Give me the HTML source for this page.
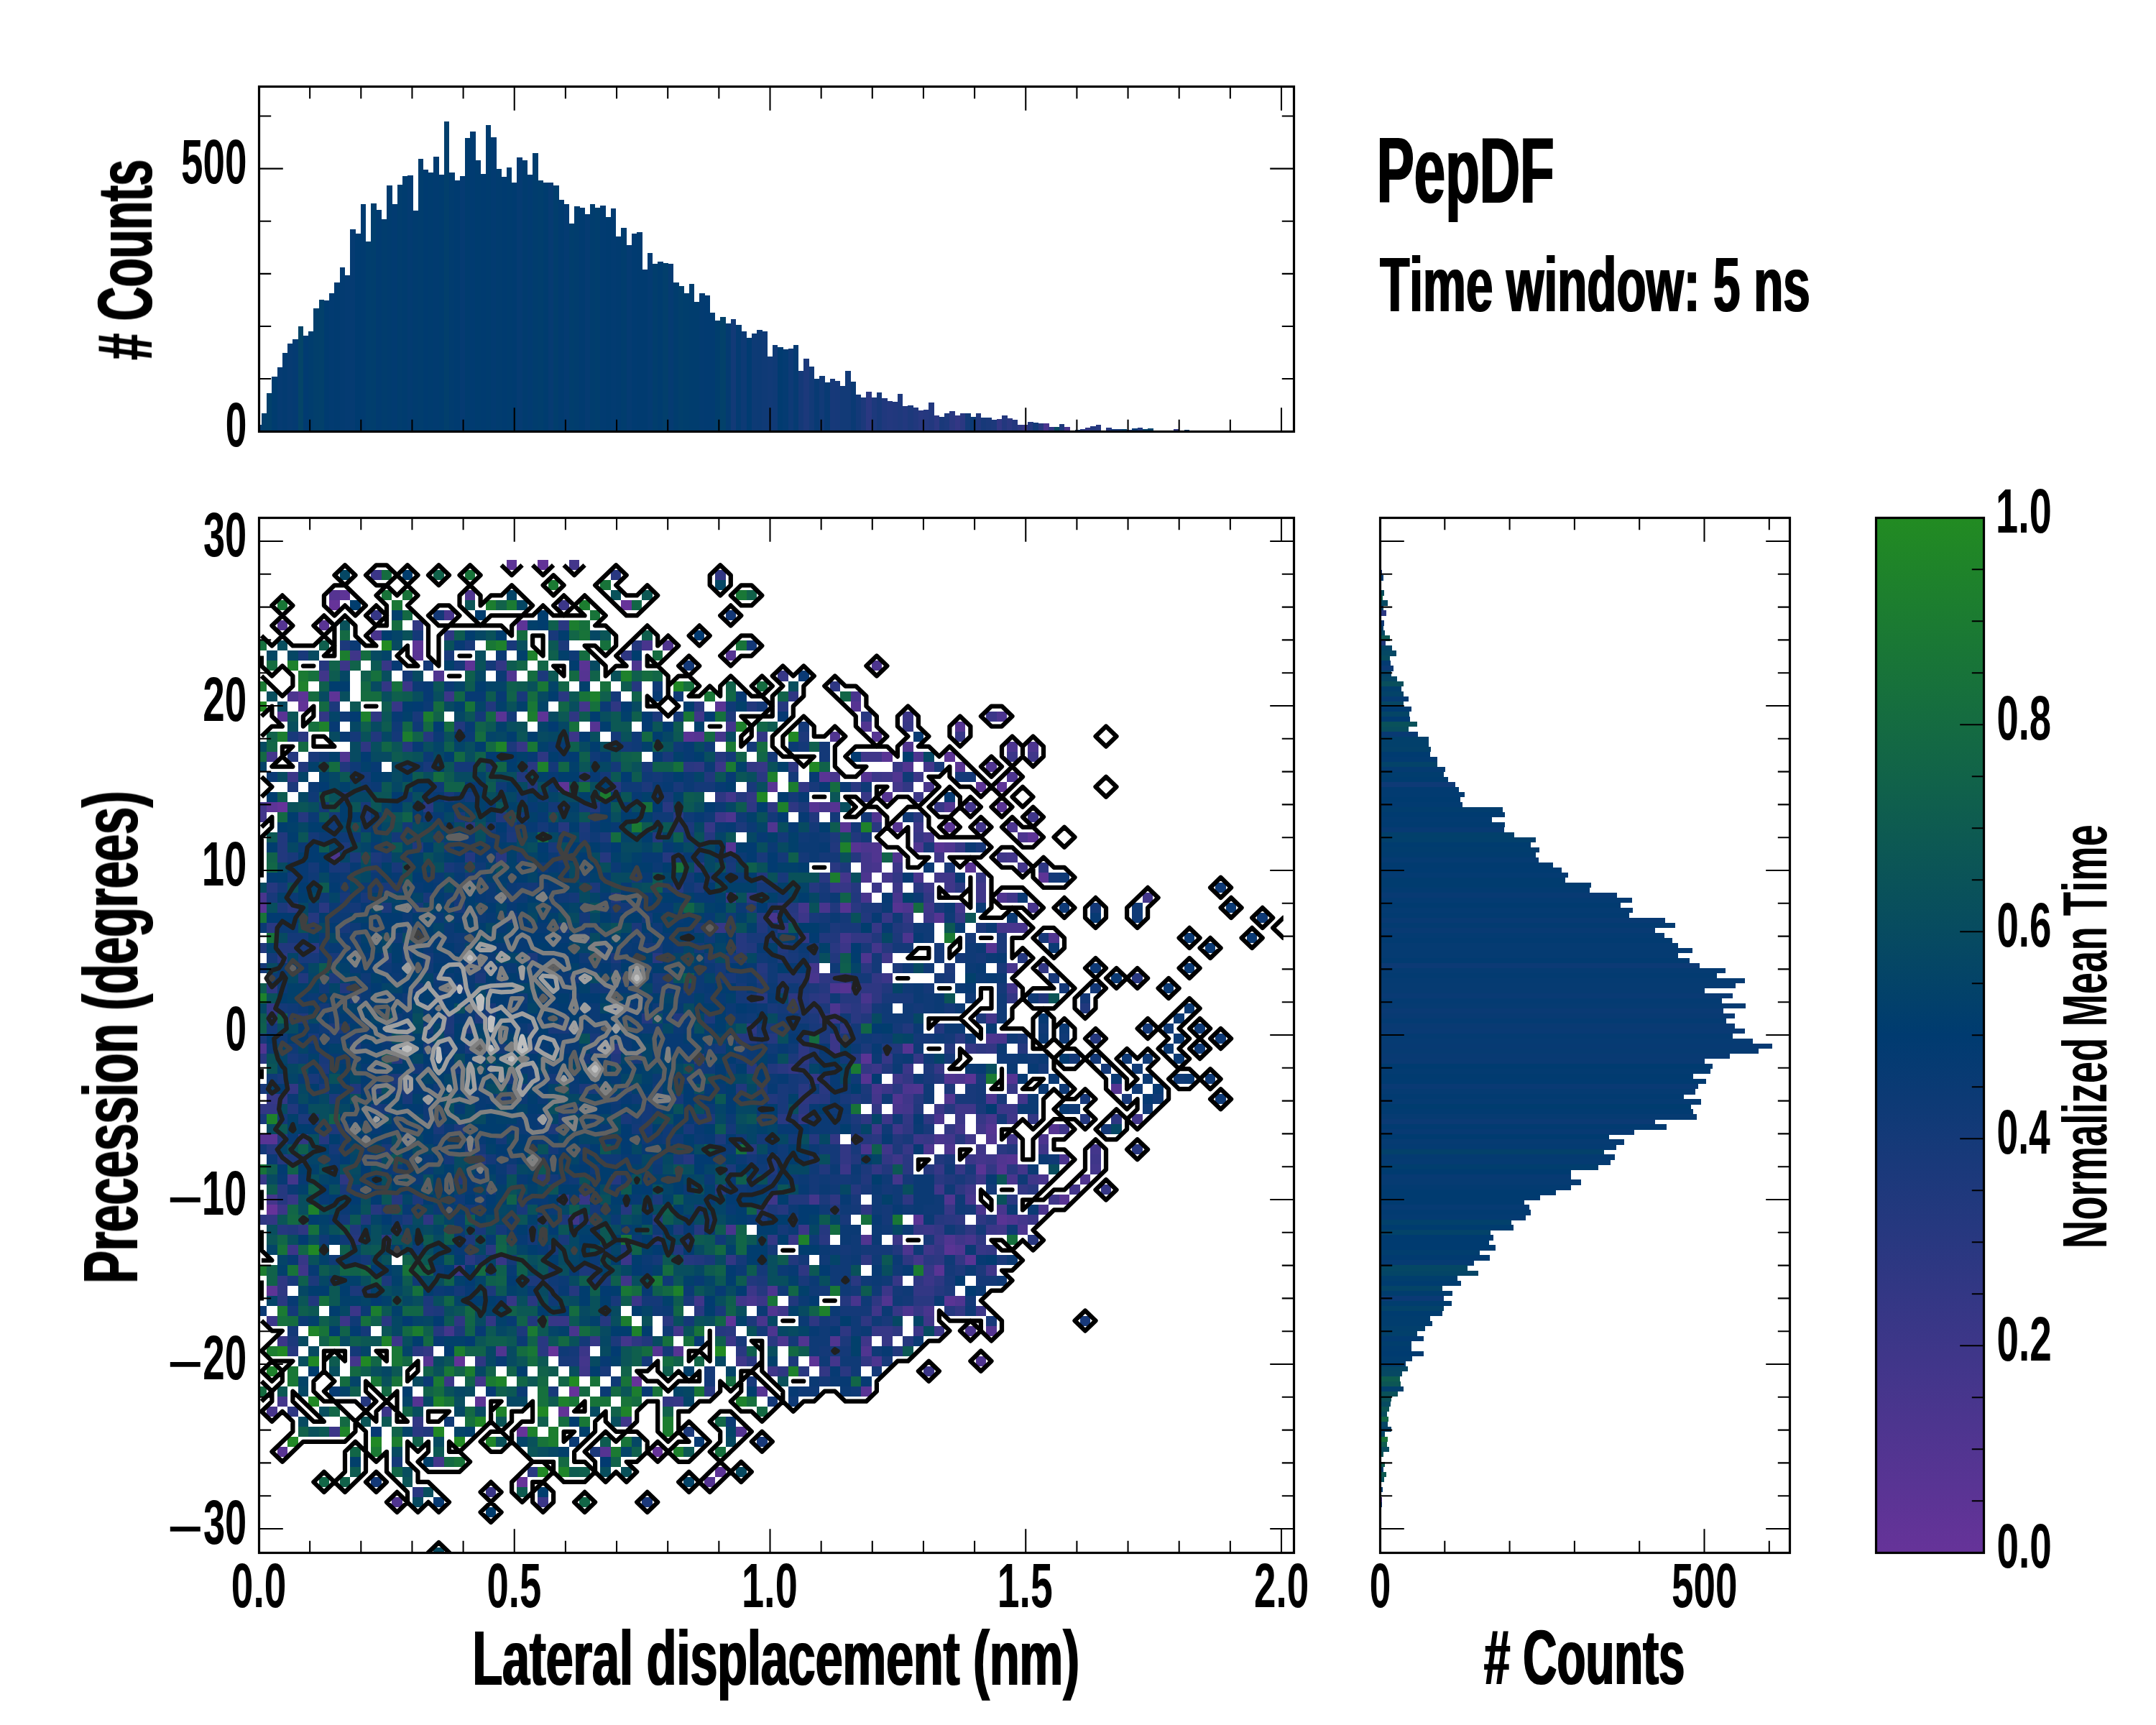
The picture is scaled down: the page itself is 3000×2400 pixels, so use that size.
<!DOCTYPE html>
<html lang="en"><head><meta charset="utf-8"><title>PepDF</title><style>html,body{margin:0;padding:0;background:#fff;overflow:hidden;width:3000px;height:2400px}svg{display:block}</style></head><body>
<svg width="3000" height="2400" viewBox="0 0 3000 2400">
<defs>
<linearGradient id="cb" x1="0" y1="1" x2="0" y2="0"><stop offset="0" stop-color="#663399"/><stop offset="0.5" stop-color="#003b70"/><stop offset="1" stop-color="#228b22"/></linearGradient>
<clipPath id="cm"><rect x="360.5" y="720.5" width="1440" height="1440"/></clipPath>
<clipPath id="cc"><rect x="360.5" y="720.5" width="1425.3" height="1440"/></clipPath>
<clipPath id="cr"><rect x="1920.5" y="720.5" width="570" height="1440"/></clipPath>
<clipPath id="ct"><rect x="360.5" y="120.5" width="1440" height="480"/></clipPath>
<filter id="fb" x="-5%" y="-5%" width="110%" height="110%"><feMorphology operator="dilate" radius="1 0"/></filter>
<filter id="fv" x="-5%" y="-5%" width="110%" height="110%"><feMorphology operator="dilate" radius="0 1"/></filter>
</defs>
<rect width="3000" height="2400" fill="#fff"/>
<g clip-path="url(#cm)" shape-rendering="crispEdges"><g transform="translate(356.64,779.3) scale(14.508,14.017)">
<path fill="#663399" d="M7 4h1v1h-1zM35 4h1v1h-1zM2 24h1v1h-1zM1 64h1v1h-1zM28 78h1v1h-1zM36 81h1v1h-1zM30 82h1v1h-1zM25 86h1v1h-1zM38 88h1v1h-1zM25 91h1v1h-1z"/>
<path fill="#623397" d="M27 0h1v1h-1zM4 14h1v1h-1zM19 79h1v1h-1zM29 84h1v1h-1z"/>
<path fill="#5d3496" d="M24 0h1v1h-1zM8 3h1v1h-1zM25 6h1v1h-1zM15 8h1v1h-1zM20 10h1v1h-1zM4 13h1v1h-1zM7 13h1v1h-1zM27 15h1v1h-1zM66 19h1v1h-1zM29 22h1v1h-1zM69 22h1v1h-1zM71 22h1v1h-1zM1 24h1v1h-1zM74 27h1v1h-1zM75 31h1v1h-1zM1 72h1v1h-1zM45 75h1v1h-1zM53 79h1v1h-1zM21 83h1v1h-1zM44 90h1v1h-1z"/>
<path fill="#593494" d="M6 6h1v1h-1zM15 9h1v1h-1zM31 10h1v1h-1zM44 14h1v1h-1zM2 15h1v1h-1zM23 15h1v1h-1zM41 17h1v1h-1zM60 19h1v1h-1zM67 20h1v1h-1zM54 21h1v1h-1zM49 22h1v1h-1zM71 24h1v1h-1zM56 26h1v1h-1zM66 26h1v1h-1zM65 28h1v1h-1zM68 30h1v1h-1zM0 34h1v1h-1zM58 49h1v1h-1zM68 51h1v1h-1zM0 57h2v1h-2zM69 60h1v1h-1zM77 63h1v1h-1zM63 65h1v1h-1zM71 65h1v1h-1zM66 68h1v1h-1zM68 69h1v1h-1zM65 70h1v1h-1zM66 73h1v1h-1zM58 82h1v1h-1zM2 88h1v1h-1z"/>
<path fill="#553492" d="M7 3h1v1h-1zM2 6h1v1h-1zM45 9h1v1h-1zM31 11h1v1h-1zM57 14h1v1h-1zM32 16h1v1h-1zM67 16h1v1h-1zM42 17h1v1h-1zM59 17h1v1h-1zM58 21h1v1h-1zM60 23h1v1h-1zM53 24h1v1h-1zM55 24h1v1h-1zM61 26h1v1h-1zM45 28h1v1h-1zM57 28h1v1h-1zM56 34h1v1h-1zM61 34h1v1h-1zM65 35h1v1h-1zM70 38h1v1h-1zM56 42h1v1h-1zM62 48h1v1h-1zM58 51h1v1h-1zM72 51h1v1h-1zM82 52h1v1h-1zM70 56h1v1h-1zM76 56h1v1h-1zM72 59h1v1h-1zM71 60h1v1h-1zM70 76h1v1h-1zM38 78h1v1h-1zM40 78h1v1h-1zM16 79h1v1h-1zM48 82h1v1h-1zM15 83h1v1h-1zM46 86h1v1h-1zM33 88h1v1h-1zM43 91h1v1h-1z"/>
<path fill="#503590" d="M20 3h1v1h-1zM39 8h1v1h-1zM17 11h1v1h-1zM24 11h1v1h-1zM58 16h1v1h-1zM55 17h1v1h-1zM62 18h1v1h-1zM8 19h1v1h-1zM62 20h1v1h-1zM70 20h1v1h-1zM61 21h1v1h-1zM66 24h1v1h-1zM59 25h1v1h-1zM49 26h1v1h-1zM59 28h1v1h-1zM63 28h1v1h-1zM66 28h1v1h-1zM59 29h1v1h-1zM61 29h1v1h-1zM71 33h1v1h-1zM76 37h1v1h-1zM0 48h1v1h-1zM66 51h1v1h-1zM63 52h1v1h-1zM61 53h1v1h-1zM66 53h1v1h-1zM70 57h1v1h-1zM71 59h1v1h-1zM79 61h1v1h-1zM66 63h1v1h-1zM72 65h1v1h-1zM58 67h1v1h-1zM66 67h1v1h-1zM67 68h1v1h-1zM60 73h1v1h-1zM67 73h1v1h-1zM49 74h1v1h-1zM52 77h1v1h-1zM55 77h1v1h-1zM23 78h1v1h-1zM58 78h1v1h-1zM69 79h1v1h-1zM13 93h1v1h-1z"/>
<path fill="#4c358f" d="M36 10h1v1h-1zM59 10h1v1h-1zM3 13h1v1h-1zM71 15h1v1h-1zM72 18h1v1h-1zM74 18h1v1h-1zM63 19h1v1h-1zM72 21h1v1h-1zM45 25h1v1h-1zM72 26h1v1h-1zM73 27h1v1h-1zM58 28h1v1h-1zM7 29h1v1h-1zM58 31h1v1h-1zM62 34h1v1h-1zM62 37h1v1h-1zM58 39h1v1h-1zM55 42h1v1h-1zM55 44h1v1h-1zM70 47h1v1h-1zM67 51h1v1h-1zM62 52h1v1h-1zM70 53h1v1h-1zM65 55h1v1h-1zM75 57h1v1h-1zM64 58h1v1h-1zM66 58h1v1h-1zM77 59h1v1h-1zM75 64h1v1h-1zM73 66h1v1h-1zM62 68h1v1h-1zM49 72h1v1h-1zM62 74h1v1h-1zM49 76h1v1h-1zM68 76h1v1h-1zM50 77h1v1h-1zM59 79h1v1h-1z"/>
<path fill="#48358d" d="M18 5h1v1h-1zM11 7h1v1h-1zM37 8h1v1h-1zM57 13h1v1h-1zM55 21h1v1h-1zM64 22h1v1h-1zM54 24h1v1h-1zM59 30h1v1h-1zM63 31h1v1h-1zM0 33h1v1h-1zM58 33h1v1h-1zM61 33h1v1h-1zM54 34h1v1h-1zM74 34h1v1h-1zM49 35h1v1h-1zM72 36h2v1h-2zM72 40h1v1h-1zM53 41h1v1h-1zM58 43h1v1h-1zM71 47h1v1h-1zM59 52h1v1h-1zM61 54h1v1h-1zM70 55h1v1h-1zM65 57h1v1h-1zM58 58h1v1h-1zM72 61h1v1h-1zM75 61h1v1h-1zM68 63h1v1h-1zM69 64h1v1h-1zM71 64h1v1h-1zM45 66h1v1h-1zM68 67h1v1h-1zM47 73h1v1h-1zM57 73h1v1h-1zM64 74h1v1h-1zM48 75h1v1h-1zM30 76h1v1h-1zM1 84h1v1h-1z"/>
<path fill="#43368b" d="M30 0h1v1h-1zM31 14h1v1h-1zM45 16h1v1h-1zM44 17h1v1h-1zM1 19h1v1h-1zM64 20h1v1h-1zM61 22h1v1h-1zM45 23h1v1h-1zM0 24h1v1h-1zM68 24h1v1h-1zM0 25h1v1h-1zM69 26h1v1h-1zM64 27h1v1h-1zM58 29h1v1h-1zM72 29h1v1h-1zM58 30h1v1h-1zM73 30h1v1h-1zM56 31h1v1h-1zM60 31h1v1h-1zM85 33h1v1h-1zM52 34h1v1h-1zM67 34h1v1h-1zM71 36h1v1h-1zM56 37h1v1h-1zM59 38h1v1h-1zM53 40h1v1h-1zM72 42h1v1h-1zM70 45h1v1h-1zM59 53h1v1h-1zM73 53h1v1h-1zM62 54h1v1h-1zM84 55h1v1h-1zM67 56h1v1h-1zM66 57h1v1h-1zM72 57h1v1h-1zM80 58h1v1h-1zM69 59h1v1h-1zM73 60h1v1h-1zM80 60h1v1h-1zM3 61h1v1h-1zM61 61h1v1h-1zM78 62h1v1h-1zM1 63h1v1h-1zM53 63h1v1h-1zM73 65h1v1h-1zM63 69h1v1h-1zM18 76h1v1h-1zM40 76h1v1h-1zM35 77h1v1h-1zM9 79h1v1h-1zM31 79h1v1h-1zM55 79h1v1h-1zM21 81h1v1h-1zM2 83h1v1h-1zM17 89h1v1h-1z"/>
<path fill="#3f3689" d="M9 9h1v1h-1zM6 11h1v1h-1zM42 15h1v1h-1zM58 19h2v1h-2zM74 19h1v1h-1zM60 21h1v1h-1zM44 25h1v1h-1zM74 25h1v1h-1zM65 29h1v1h-1zM71 29h1v1h-1zM65 31h2v1h-2zM66 32h1v1h-1zM69 32h1v1h-1zM69 33h1v1h-1zM72 33h1v1h-1zM64 34h1v1h-1zM60 39h1v1h-1zM61 51h1v1h-1zM62 53h1v1h-1zM67 54h2v1h-2zM72 55h1v1h-1zM59 56h1v1h-1zM61 56h1v1h-1zM69 56h1v1h-1zM77 56h1v1h-1zM68 57h1v1h-1zM60 58h1v1h-1zM69 58h1v1h-1zM75 58h1v1h-1zM61 59h1v1h-1zM70 59h1v1h-1zM80 59h1v1h-1zM74 61h1v1h-1zM65 62h1v1h-1zM68 62h1v1h-1zM49 63h1v1h-1zM76 63h1v1h-1zM30 65h1v1h-1zM71 66h1v1h-1zM67 67h1v1h-1zM64 68h1v1h-1zM4 70h1v1h-1zM70 70h1v1h-1zM35 71h1v1h-1zM42 73h1v1h-1zM46 73h1v1h-1zM50 74h1v1h-1zM59 74h1v1h-1zM64 75h1v1h-1zM58 77h1v1h-1zM46 79h1v1h-1zM31 80h1v1h-1zM49 80h1v1h-1zM35 85h1v1h-1z"/>
<path fill="#3b3688" d="M11 1h1v1h-1zM29 4h1v1h-1zM8 10h1v1h-1zM14 12h1v1h-1zM18 13h1v1h-1zM62 15h1v1h-1zM70 15h1v1h-1zM30 17h1v1h-1zM72 19h1v1h-1zM44 20h1v1h-1zM3 21h1v1h-1zM59 21h1v1h-1zM63 21h1v1h-1zM63 23h1v1h-1zM63 26h1v1h-1zM61 30h1v1h-1zM59 32h1v1h-1zM61 32h1v1h-1zM64 32h1v1h-1zM52 35h1v1h-1zM64 35h1v1h-1zM56 38h1v1h-1zM60 41h1v1h-1zM55 45h1v1h-1zM55 47h1v1h-1zM55 48h1v1h-1zM59 50h1v1h-1zM62 50h1v1h-1zM60 52h1v1h-1zM65 54h1v1h-1zM71 54h2v1h-2zM60 55h1v1h-1zM67 55h1v1h-1zM63 57h1v1h-1zM68 59h1v1h-1zM56 60h1v1h-1zM69 61h1v1h-1zM2 64h1v1h-1zM74 65h1v1h-1zM52 66h1v1h-1zM64 66h1v1h-1zM70 66h1v1h-1zM61 67h1v1h-1zM65 67h1v1h-1zM3 68h1v1h-1zM35 69h1v1h-1zM19 70h1v1h-1zM64 71h1v1h-1zM47 72h1v1h-1zM60 72h1v1h-1zM36 73h1v1h-1zM48 73h1v1h-1zM9 74h1v1h-1zM69 74h1v1h-1zM1 75h1v1h-1zM8 75h1v1h-1zM63 76h1v1h-1zM65 76h1v1h-1zM2 77h1v1h-1zM13 77h1v1h-1zM45 77h1v1h-1zM31 78h1v1h-1zM64 80h1v1h-1zM18 81h1v1h-1zM12 84h1v1h-1zM7 86h1v1h-1zM22 92h1v1h-1zM27 93h1v1h-1z"/>
<path fill="#363786" d="M11 5h1v1h-1zM12 10h1v1h-1zM50 11h1v1h-1zM13 14h1v1h-1zM62 16h1v1h-1zM67 17h1v1h-1zM25 18h1v1h-1zM48 20h1v1h-1zM61 20h1v1h-1zM58 23h1v1h-1zM65 24h1v1h-1zM43 26h1v1h-1zM63 27h1v1h-1zM67 28h1v1h-1zM69 31h1v1h-1zM55 32h2v1h-2zM45 33h1v1h-1zM60 35h1v1h-1zM62 35h1v1h-1zM67 35h1v1h-1zM44 36h1v1h-1zM59 36h1v1h-1zM58 44h1v1h-1zM68 48h1v1h-1zM60 49h1v1h-1zM63 49h1v1h-1zM65 50h1v1h-1zM53 51h1v1h-1zM72 52h1v1h-1zM1 53h1v1h-1zM69 55h1v1h-1zM64 57h1v1h-1zM62 58h1v1h-1zM65 60h1v1h-1zM67 60h1v1h-1zM0 61h1v1h-1zM81 62h1v1h-1zM3 63h1v1h-1zM31 63h1v1h-1zM66 64h1v1h-1zM63 66h1v1h-1zM51 67h1v1h-1zM69 68h1v1h-1zM4 69h1v1h-1zM23 69h1v1h-1zM64 70h1v1h-1zM61 71h1v1h-1zM24 73h1v1h-1zM61 74h1v1h-1zM63 74h1v1h-1zM28 75h2v1h-2zM59 76h2v1h-2zM32 77h1v1h-1zM60 77h1v1h-1zM40 83h1v1h-1z"/>
<path fill="#323784" d="M44 1h1v1h-1zM15 6h1v1h-1zM23 10h1v1h-1zM12 12h1v1h-1zM6 15h1v1h-1zM48 17h1v1h-1zM47 20h1v1h-1zM52 22h1v1h-1zM62 22h1v1h-1zM47 23h1v1h-1zM61 31h1v1h-1zM64 33h1v1h-1zM52 37h1v1h-1zM57 37h2v1h-2zM75 40h1v1h-1zM59 41h1v1h-1zM57 42h1v1h-1zM72 43h1v1h-1zM1 44h1v1h-1zM56 44h1v1h-1zM56 46h1v1h-1zM70 48h1v1h-1zM51 50h1v1h-1zM58 50h1v1h-1zM62 51h1v1h-1zM3 52h1v1h-1zM2 53h1v1h-1zM0 54h2v1h-2zM59 54h1v1h-1zM52 55h1v1h-1zM62 55h1v1h-1zM74 55h1v1h-1zM66 56h1v1h-1zM4 57h1v1h-1zM55 57h1v1h-1zM56 58h1v1h-1zM56 59h1v1h-1zM60 59h1v1h-1zM59 60h1v1h-1zM70 60h1v1h-1zM73 62h1v1h-1zM1 65h1v1h-1zM65 66h1v1h-1zM49 67h1v1h-1zM65 68h1v1h-1zM70 68h1v1h-1zM45 69h1v1h-1zM67 69h1v1h-1zM63 72h2v1h-2zM67 74h1v1h-1zM22 75h1v1h-1zM16 78h1v1h-1zM58 79h1v1h-1zM54 80h1v1h-1zM39 83h1v1h-1zM15 85h1v1h-1z"/>
<path fill="#2e3782" d="M18 7h1v1h-1zM35 9h1v1h-1zM55 12h1v1h-1zM51 13h1v1h-1zM34 14h1v1h-1zM11 15h1v1h-1zM30 15h1v1h-1zM10 18h1v1h-1zM27 19h1v1h-1zM42 20h1v1h-1zM51 20h1v1h-1zM44 23h1v1h-1zM47 24h1v1h-1zM49 24h1v1h-1zM51 24h1v1h-1zM75 30h1v1h-1zM47 33h1v1h-1zM50 34h1v1h-1zM50 36h1v1h-1zM54 41h1v1h-1zM56 41h1v1h-1zM1 42h1v1h-1zM58 42h2v1h-2zM51 43h1v1h-1zM54 43h1v1h-1zM59 43h1v1h-1zM54 45h1v1h-1zM47 46h1v1h-1zM52 48h1v1h-1zM69 48h1v1h-1zM42 49h1v1h-1zM52 49h1v1h-1zM52 53h1v1h-1zM58 55h1v1h-1zM64 55h1v1h-1zM82 55h1v1h-1zM62 56h1v1h-1zM8 61h1v1h-1zM67 62h1v1h-1zM29 63h1v1h-1zM55 63h1v1h-1zM62 63h1v1h-1zM58 64h1v1h-1zM0 65h1v1h-1zM16 65h1v1h-1zM67 65h1v1h-1zM69 65h1v1h-1zM4 66h1v1h-1zM68 66h1v1h-1zM12 67h1v1h-1zM69 67h1v1h-1zM58 69h1v1h-1zM62 69h1v1h-1zM65 69h1v1h-1zM52 70h1v1h-1zM2 71h1v1h-1zM63 71h1v1h-1zM65 71h1v1h-1zM2 72h1v1h-1zM59 73h1v1h-1zM19 75h1v1h-1zM53 75h1v1h-1zM58 75h1v1h-1zM56 76h1v1h-1zM61 76h1v1h-1zM36 77h1v1h-1zM21 79h1v1h-1zM50 80h1v1h-1zM3 84h1v1h-1z"/>
<path fill="#293881" d="M34 1h1v1h-1zM29 6h1v1h-1zM29 13h1v1h-1zM42 14h1v1h-1zM58 15h1v1h-1zM4 17h1v1h-1zM26 20h1v1h-1zM41 20h1v1h-1zM48 21h1v1h-1zM34 22h1v1h-1zM57 22h1v1h-1zM16 24h1v1h-1zM39 24h1v1h-1zM40 25h1v1h-1zM63 25h1v1h-1zM20 26h1v1h-1zM59 26h1v1h-1zM23 29h1v1h-1zM42 30h1v1h-1zM55 30h1v1h-1zM54 31h1v1h-1zM63 32h1v1h-1zM67 32h1v1h-1zM3 34h1v1h-1zM6 34h1v1h-1zM57 34h1v1h-1zM51 35h1v1h-1zM1 36h1v1h-1zM62 36h1v1h-1zM5 38h1v1h-1zM55 38h1v1h-1zM2 39h1v1h-1zM38 39h1v1h-1zM58 40h1v1h-1zM55 41h1v1h-1zM84 41h1v1h-1zM48 43h1v1h-1zM53 43h1v1h-1zM57 44h1v1h-1zM1 45h1v1h-1zM57 45h1v1h-1zM67 47h1v1h-1zM34 48h1v1h-1zM0 49h1v1h-1zM50 50h1v1h-1zM52 52h1v1h-1zM54 52h1v1h-1zM61 52h1v1h-1zM53 53h1v1h-1zM52 54h1v1h-1zM50 55h1v1h-1zM57 57h1v1h-1zM59 57h1v1h-1zM71 58h1v1h-1zM84 58h1v1h-1zM62 59h1v1h-1zM62 60h1v1h-1zM72 60h1v1h-1zM27 61h1v1h-1zM65 61h1v1h-1zM74 62h1v1h-1zM72 63h1v1h-1zM48 64h1v1h-1zM66 65h1v1h-1zM54 67h1v1h-1zM74 67h1v1h-1zM22 68h1v1h-1zM20 69h1v1h-1zM64 69h1v1h-1zM57 71h1v1h-1zM2 73h1v1h-1zM26 73h1v1h-1zM63 73h2v1h-2zM42 74h1v1h-1zM12 75h1v1h-1zM39 75h1v1h-1zM45 76h1v1h-1zM27 77h1v1h-1zM49 77h1v1h-1zM15 78h1v1h-1zM27 78h1v1h-1zM46 78h1v1h-1zM47 79h1v1h-1zM52 80h1v1h-1zM56 80h1v1h-1zM43 82h1v1h-1zM15 86h1v1h-1zM26 90h1v1h-1zM15 92h1v1h-1z"/>
<path fill="#25387f" d="M36 8h1v1h-1zM6 10h1v1h-1zM36 12h1v1h-1zM50 14h1v1h-1zM16 17h1v1h-1zM14 18h1v1h-1zM3 19h1v1h-1zM44 19h1v1h-1zM31 21h1v1h-1zM46 23h1v1h-1zM4 25h1v1h-1zM29 26h1v1h-1zM38 27h1v1h-1zM43 27h1v1h-1zM20 29h1v1h-1zM33 29h1v1h-1zM39 29h1v1h-1zM57 29h1v1h-1zM1 32h1v1h-1zM40 32h1v1h-1zM53 32h1v1h-1zM57 32h1v1h-1zM51 34h1v1h-1zM5 35h1v1h-1zM48 35h1v1h-1zM46 37h1v1h-1zM46 38h1v1h-1zM60 38h1v1h-1zM73 39h1v1h-1zM48 40h1v1h-1zM54 42h1v1h-1zM56 43h2v1h-2zM51 44h1v1h-1zM53 44h1v1h-1zM37 45h1v1h-1zM65 46h1v1h-1zM46 47h2v1h-2zM49 47h1v1h-1zM80 47h1v1h-1zM21 48h1v1h-1zM66 48h1v1h-1zM73 48h1v1h-1zM13 49h1v1h-1zM57 49h1v1h-1zM47 50h1v1h-1zM52 50h1v1h-1zM54 53h1v1h-1zM63 53h1v1h-1zM66 54h1v1h-1zM79 55h1v1h-1zM6 57h1v1h-1zM53 57h1v1h-1zM58 57h1v1h-1zM67 57h1v1h-1zM1 58h1v1h-1zM47 58h1v1h-1zM2 59h1v1h-1zM21 59h1v1h-1zM41 59h1v1h-1zM64 60h1v1h-1zM34 61h1v1h-1zM68 61h1v1h-1zM2 62h1v1h-1zM44 62h1v1h-1zM57 62h1v1h-1zM2 63h1v1h-1zM13 63h1v1h-1zM11 64h1v1h-1zM35 64h1v1h-1zM50 64h1v1h-1zM38 65h1v1h-1zM65 65h1v1h-1zM2 66h1v1h-1zM42 66h1v1h-1zM54 66h1v1h-1zM9 67h1v1h-1zM38 67h1v1h-1zM41 69h1v1h-1zM30 72h1v1h-1zM48 72h1v1h-1zM65 72h1v1h-1zM56 73h1v1h-1zM66 74h1v1h-1zM33 75h1v1h-1zM17 76h1v1h-1zM44 76h1v1h-1zM62 77h1v1h-1zM3 78h1v1h-1zM10 83h1v1h-1z"/>
<path fill="#21387d" d="M22 14h1v1h-1zM47 14h1v1h-1zM19 16h1v1h-1zM11 17h1v1h-1zM4 20h1v1h-1zM8 20h1v1h-1zM25 21h1v1h-1zM43 21h1v1h-1zM26 22h1v1h-1zM8 23h1v1h-1zM32 24h1v1h-1zM23 25h1v1h-1zM53 25h1v1h-1zM40 26h1v1h-1zM2 27h1v1h-1zM57 27h1v1h-1zM2 28h1v1h-1zM15 28h1v1h-1zM55 28h1v1h-1zM2 29h1v1h-1zM48 31h1v1h-1zM34 33h1v1h-1zM57 33h1v1h-1zM55 34h1v1h-1zM58 35h1v1h-1zM48 36h1v1h-1zM61 36h1v1h-1zM54 37h2v1h-2zM59 37h1v1h-1zM0 38h1v1h-1zM2 38h2v1h-2zM47 38h1v1h-1zM50 38h1v1h-1zM55 39h1v1h-1zM4 41h1v1h-1zM48 41h1v1h-1zM50 41h3v1h-3zM8 42h1v1h-1zM60 42h1v1h-1zM52 43h1v1h-1zM75 43h1v1h-1zM79 44h1v1h-1zM4 45h1v1h-1zM40 45h1v1h-1zM58 45h1v1h-1zM62 46h1v1h-1zM61 48h1v1h-1zM34 49h1v1h-1zM49 50h1v1h-1zM60 50h1v1h-1zM54 51h1v1h-1zM65 51h1v1h-1zM9 52h1v1h-1zM46 52h1v1h-1zM49 53h1v1h-1zM57 53h1v1h-1zM3 54h1v1h-1zM63 54h1v1h-1zM2 57h1v1h-1zM61 57h1v1h-1zM72 58h1v1h-1zM49 59h1v1h-1zM57 59h1v1h-1zM65 59h1v1h-1zM49 60h1v1h-1zM54 60h1v1h-1zM60 60h1v1h-1zM19 61h1v1h-1zM58 61h1v1h-1zM66 61h1v1h-1zM51 63h2v1h-2zM55 64h1v1h-1zM10 65h1v1h-1zM31 65h1v1h-1zM70 65h1v1h-1zM3 66h1v1h-1zM9 66h1v1h-1zM40 68h1v1h-1zM61 68h1v1h-1zM42 69h1v1h-1zM51 69h1v1h-1zM47 71h1v1h-1zM5 73h1v1h-1zM51 73h1v1h-1zM16 74h1v1h-1zM26 75h1v1h-1zM37 77h1v1h-1zM61 78h1v1h-1zM16 86h1v1h-1z"/>
<path fill="#1c397b" d="M8 8h1v1h-1zM29 8h1v1h-1zM27 11h1v1h-1zM7 14h1v1h-1zM38 15h1v1h-1zM45 15h1v1h-1zM52 17h1v1h-1zM24 18h1v1h-1zM3 22h1v1h-1zM37 22h1v1h-1zM52 24h1v1h-1zM10 25h1v1h-1zM31 26h1v1h-1zM41 26h1v1h-1zM46 26h1v1h-1zM24 27h1v1h-1zM33 27h1v1h-1zM55 27h1v1h-1zM8 28h1v1h-1zM9 29h1v1h-1zM11 29h1v1h-1zM56 30h1v1h-1zM32 32h1v1h-1zM42 32h1v1h-1zM2 34h1v1h-1zM12 34h1v1h-1zM47 34h1v1h-1zM58 34h2v1h-2zM36 36h1v1h-1zM55 36h1v1h-1zM69 36h1v1h-1zM49 37h1v1h-1zM61 37h1v1h-1zM26 39h1v1h-1zM34 39h1v1h-1zM46 39h1v1h-1zM50 39h1v1h-1zM61 40h1v1h-1zM66 40h1v1h-1zM7 41h1v1h-1zM21 41h1v1h-1zM41 42h1v1h-1zM50 42h1v1h-1zM53 42h1v1h-1zM52 44h1v1h-1zM54 44h1v1h-1zM18 45h1v1h-1zM21 45h1v1h-1zM43 45h1v1h-1zM53 45h1v1h-1zM69 45h1v1h-1zM7 46h1v1h-1zM18 46h1v1h-1zM20 46h1v1h-1zM54 46h1v1h-1zM54 47h1v1h-1zM9 48h1v1h-1zM53 48h1v1h-1zM58 48h1v1h-1zM60 48h1v1h-1zM51 49h1v1h-1zM6 50h1v1h-1zM64 50h1v1h-1zM13 51h1v1h-1zM14 52h1v1h-1zM31 52h1v1h-1zM48 52h1v1h-1zM58 52h1v1h-1zM66 52h1v1h-1zM7 53h1v1h-1zM4 55h1v1h-1zM43 55h1v1h-1zM51 55h1v1h-1zM57 55h1v1h-1zM7 56h1v1h-1zM19 56h1v1h-1zM28 56h1v1h-1zM44 57h1v1h-1zM61 58h1v1h-1zM3 59h1v1h-1zM24 60h1v1h-1zM45 60h1v1h-1zM58 60h1v1h-1zM15 63h1v1h-1zM38 63h1v1h-1zM54 63h1v1h-1zM49 64h1v1h-1zM14 65h1v1h-1zM27 65h1v1h-1zM29 65h1v1h-1zM13 66h1v1h-1zM40 66h1v1h-1zM67 66h1v1h-1zM20 67h1v1h-1zM41 67h1v1h-1zM35 68h1v1h-1zM31 70h1v1h-1zM67 70h1v1h-1zM69 70h1v1h-1zM5 71h1v1h-1zM12 71h1v1h-1zM26 71h2v1h-2zM48 71h1v1h-1zM9 72h1v1h-1zM22 72h1v1h-1zM66 72h1v1h-1zM16 73h1v1h-1zM17 74h1v1h-1zM47 75h1v1h-1zM19 76h1v1h-1zM25 76h1v1h-1zM3 77h1v1h-1zM34 77h1v1h-1zM56 77h1v1h-1zM51 79h1v1h-1zM41 86h1v1h-1zM32 88h1v1h-1zM37 93h1v1h-1z"/>
<path fill="#18397a" d="M28 7h1v1h-1zM20 8h1v1h-1zM24 8h1v1h-1zM4 9h1v1h-1zM18 9h1v1h-1zM25 13h1v1h-1zM15 15h1v1h-1zM3 17h1v1h-1zM5 19h1v1h-1zM39 19h1v1h-1zM16 20h1v1h-1zM22 20h1v1h-1zM37 20h1v1h-1zM65 20h1v1h-1zM40 22h1v1h-1zM47 22h1v1h-1zM53 22h1v1h-1zM18 23h1v1h-1zM39 23h1v1h-1zM10 24h1v1h-1zM31 24h1v1h-1zM19 25h1v1h-1zM24 26h1v1h-1zM31 27h1v1h-1zM28 28h1v1h-1zM64 28h1v1h-1zM69 28h1v1h-1zM3 29h1v1h-1zM29 29h1v1h-1zM40 29h1v1h-1zM48 29h1v1h-1zM7 30h2v1h-2zM13 30h1v1h-1zM18 30h1v1h-1zM45 30h1v1h-1zM66 30h1v1h-1zM36 31h1v1h-1zM50 31h1v1h-1zM12 32h2v1h-2zM54 32h1v1h-1zM1 33h1v1h-1zM8 33h1v1h-1zM10 33h1v1h-1zM16 33h1v1h-1zM15 34h1v1h-1zM19 34h1v1h-1zM49 34h1v1h-1zM65 34h1v1h-1zM24 35h1v1h-1zM53 35h1v1h-1zM8 36h1v1h-1zM29 36h1v1h-1zM42 36h1v1h-1zM45 36h1v1h-1zM56 36h2v1h-2zM15 37h1v1h-1zM47 37h2v1h-2zM71 37h1v1h-1zM75 37h1v1h-1zM4 38h1v1h-1zM53 38h1v1h-1zM58 38h1v1h-1zM71 38h1v1h-1zM4 39h2v1h-2zM7 39h1v1h-1zM12 39h1v1h-1zM45 39h1v1h-1zM51 39h1v1h-1zM53 39h1v1h-1zM20 40h1v1h-1zM71 40h1v1h-1zM38 41h2v1h-2zM45 41h1v1h-1zM66 41h1v1h-1zM76 41h1v1h-1zM52 42h1v1h-1zM9 43h1v1h-1zM47 43h1v1h-1zM60 43h3v1h-3zM22 44h1v1h-1zM34 44h1v1h-1zM49 44h1v1h-1zM3 45h1v1h-1zM52 45h1v1h-1zM8 46h1v1h-1zM28 46h2v1h-2zM49 46h1v1h-1zM53 46h1v1h-1zM0 47h1v1h-1zM5 47h1v1h-1zM32 47h1v1h-1zM48 47h1v1h-1zM52 47h1v1h-1zM56 47h1v1h-1zM73 47h1v1h-1zM16 48h1v1h-1zM20 48h1v1h-1zM3 49h1v1h-1zM6 49h1v1h-1zM36 49h1v1h-1zM53 49h1v1h-1zM2 51h1v1h-1zM5 51h1v1h-1zM24 51h1v1h-1zM52 51h1v1h-1zM64 51h1v1h-1zM69 51h1v1h-1zM0 52h1v1h-1zM6 52h1v1h-1zM11 52h1v1h-1zM25 52h1v1h-1zM32 52h1v1h-1zM50 52h1v1h-1zM68 52h1v1h-1zM14 53h1v1h-1zM23 53h1v1h-1zM40 53h1v1h-1zM50 53h1v1h-1zM56 53h1v1h-1zM58 53h1v1h-1zM67 53h2v1h-2zM71 53h1v1h-1zM79 53h1v1h-1zM83 53h1v1h-1zM11 54h1v1h-1zM50 54h1v1h-1zM69 54h1v1h-1zM0 55h1v1h-1zM5 55h1v1h-1zM35 55h1v1h-1zM42 55h1v1h-1zM17 56h1v1h-1zM41 56h1v1h-1zM64 56h1v1h-1zM62 57h1v1h-1zM12 58h1v1h-1zM20 58h1v1h-1zM57 58h1v1h-1zM40 59h1v1h-1zM53 59h1v1h-1zM66 59h1v1h-1zM68 60h1v1h-1zM49 61h1v1h-1zM67 61h1v1h-1zM8 62h1v1h-1zM22 62h1v1h-1zM58 62h1v1h-1zM57 63h1v1h-1zM12 64h1v1h-1zM25 64h1v1h-1zM48 65h1v1h-1zM56 65h1v1h-1zM21 66h1v1h-1zM29 67h1v1h-1zM64 67h1v1h-1zM21 69h1v1h-1zM43 69h1v1h-1zM71 69h1v1h-1zM32 70h1v1h-1zM3 71h1v1h-1zM32 71h2v1h-2zM52 71h1v1h-1zM66 71h1v1h-1zM10 72h1v1h-1zM34 73h1v1h-1zM41 73h1v1h-1zM44 74h1v1h-1zM55 75h1v1h-1zM60 75h1v1h-1zM70 75h1v1h-1zM79 75h1v1h-1zM46 77h1v1h-1zM29 79h2v1h-2zM60 79h1v1h-1zM33 80h1v1h-1zM47 81h1v1h-1zM28 82h1v1h-1zM48 87h1v1h-1z"/>
<path fill="#143978" d="M17 5h1v1h-1zM45 5h1v1h-1zM15 7h1v1h-1zM47 8h1v1h-1zM16 10h1v1h-1zM19 10h1v1h-1zM22 10h1v1h-1zM41 10h1v1h-1zM14 11h1v1h-1zM34 13h1v1h-1zM48 14h1v1h-1zM21 15h1v1h-1zM24 15h1v1h-1zM40 15h1v1h-1zM52 16h1v1h-1zM9 17h1v1h-1zM13 17h1v1h-1zM34 17h1v1h-1zM35 18h1v1h-1zM47 18h1v1h-1zM52 18h1v1h-1zM54 18h1v1h-1zM45 19h1v1h-1zM49 19h1v1h-1zM54 19h1v1h-1zM19 20h2v1h-2zM28 20h1v1h-1zM34 20h1v1h-1zM10 21h1v1h-1zM33 21h1v1h-1zM38 21h1v1h-1zM51 21h1v1h-1zM67 21h2v1h-2zM42 22h2v1h-2zM20 23h1v1h-1zM51 23h1v1h-1zM6 24h1v1h-1zM28 24h2v1h-2zM7 25h1v1h-1zM25 25h1v1h-1zM49 25h1v1h-1zM55 25h1v1h-1zM58 25h1v1h-1zM14 26h1v1h-1zM22 26h1v1h-1zM27 26h1v1h-1zM53 26h1v1h-1zM57 26h1v1h-1zM5 27h1v1h-1zM13 27h1v1h-1zM41 27h1v1h-1zM50 27h1v1h-1zM58 27h1v1h-1zM18 28h1v1h-1zM12 29h1v1h-1zM25 29h1v1h-1zM45 29h1v1h-1zM50 29h1v1h-1zM52 29h1v1h-1zM54 29h2v1h-2zM5 30h1v1h-1zM11 30h1v1h-1zM3 31h1v1h-1zM20 31h1v1h-1zM41 31h1v1h-1zM43 31h1v1h-1zM76 31h1v1h-1zM2 32h1v1h-1zM26 32h1v1h-1zM48 32h2v1h-2zM19 33h1v1h-1zM30 33h1v1h-1zM54 33h1v1h-1zM9 34h1v1h-1zM34 34h3v1h-3zM80 34h1v1h-1zM31 35h1v1h-1zM37 35h1v1h-1zM54 35h1v1h-1zM56 35h1v1h-1zM5 36h1v1h-1zM3 37h2v1h-2zM31 37h1v1h-1zM68 37h1v1h-1zM14 38h1v1h-1zM37 38h2v1h-2zM42 38h1v1h-1zM51 38h1v1h-1zM61 38h2v1h-2zM65 38h1v1h-1zM1 39h1v1h-1zM16 39h1v1h-1zM43 39h1v1h-1zM59 39h1v1h-1zM65 39h1v1h-1zM67 39h1v1h-1zM69 39h1v1h-1zM0 40h1v1h-1zM21 40h1v1h-1zM44 40h1v1h-1zM59 40h1v1h-1zM30 41h1v1h-1zM35 41h1v1h-1zM44 41h1v1h-1zM57 41h2v1h-2zM65 41h1v1h-1zM15 42h1v1h-1zM19 42h1v1h-1zM33 42h1v1h-1zM38 42h1v1h-1zM46 42h1v1h-1zM48 42h1v1h-1zM64 42h1v1h-1zM71 42h1v1h-1zM77 42h1v1h-1zM80 42h1v1h-1zM17 43h1v1h-1zM46 43h1v1h-1zM79 43h1v1h-1zM2 44h1v1h-1zM6 44h1v1h-1zM35 44h1v1h-1zM50 44h1v1h-1zM59 44h1v1h-1zM63 44h1v1h-1zM66 44h1v1h-1zM22 45h1v1h-1zM1 46h1v1h-1zM16 46h1v1h-1zM26 46h1v1h-1zM48 46h1v1h-1zM57 46h1v1h-1zM61 46h1v1h-1zM85 46h1v1h-1zM9 47h1v1h-1zM18 47h1v1h-1zM57 47h1v1h-1zM59 47h1v1h-1zM63 47h2v1h-2zM66 47h1v1h-1zM23 48h1v1h-1zM26 48h1v1h-1zM32 48h1v1h-1zM44 48h1v1h-1zM31 49h1v1h-1zM56 49h1v1h-1zM66 49h1v1h-1zM78 49h1v1h-1zM80 49h1v1h-1zM15 50h1v1h-1zM19 50h1v1h-1zM42 50h1v1h-1zM75 50h1v1h-1zM81 50h1v1h-1zM12 51h1v1h-1zM28 51h1v1h-1zM51 51h1v1h-1zM13 52h1v1h-1zM35 52h1v1h-1zM51 52h1v1h-1zM69 52h1v1h-1zM20 53h1v1h-1zM69 53h1v1h-1zM12 54h1v1h-1zM37 54h1v1h-1zM2 55h1v1h-1zM27 55h1v1h-1zM29 55h1v1h-1zM37 55h1v1h-1zM53 55h1v1h-1zM71 55h1v1h-1zM8 56h1v1h-1zM36 56h2v1h-2zM45 56h1v1h-1zM57 56h1v1h-1zM81 56h1v1h-1zM14 57h1v1h-1zM23 57h1v1h-1zM48 57h1v1h-1zM51 57h1v1h-1zM0 58h1v1h-1zM7 58h1v1h-1zM21 58h1v1h-1zM28 58h1v1h-1zM54 58h2v1h-2zM4 59h1v1h-1zM11 59h1v1h-1zM18 59h1v1h-1zM22 59h1v1h-1zM47 59h1v1h-1zM55 59h1v1h-1zM28 61h1v1h-1zM53 61h1v1h-1zM55 61h2v1h-2zM62 61h1v1h-1zM53 62h1v1h-1zM60 62h1v1h-1zM70 62h1v1h-1zM20 64h1v1h-1zM32 64h1v1h-1zM42 64h1v1h-1zM57 64h1v1h-1zM60 64h1v1h-1zM68 64h1v1h-1zM8 65h1v1h-1zM43 65h1v1h-1zM51 65h1v1h-1zM60 65h1v1h-1zM23 66h1v1h-1zM50 66h1v1h-1zM69 66h1v1h-1zM26 67h1v1h-1zM28 68h1v1h-1zM49 68h1v1h-1zM56 68h1v1h-1zM58 68h3v1h-3zM10 69h1v1h-1zM24 69h1v1h-1zM38 69h1v1h-1zM46 69h1v1h-1zM52 69h1v1h-1zM28 70h1v1h-1zM48 70h1v1h-1zM66 70h1v1h-1zM69 71h2v1h-2zM19 72h1v1h-1zM28 72h1v1h-1zM54 72h1v1h-1zM57 72h1v1h-1zM61 72h1v1h-1zM37 73h2v1h-2zM62 73h1v1h-1zM68 73h1v1h-1zM3 74h1v1h-1zM56 74h3v1h-3zM41 75h1v1h-1zM54 75h1v1h-1zM3 76h1v1h-1zM10 76h1v1h-1zM48 76h1v1h-1zM31 77h1v1h-1zM51 77h1v1h-1zM9 78h1v1h-1zM30 78h1v1h-1zM39 78h1v1h-1zM54 78h3v1h-3zM37 79h1v1h-1zM43 80h1v1h-1zM59 80h1v1h-1zM43 81h1v1h-1zM54 81h1v1h-1zM49 83h1v1h-1zM13 89h1v1h-1zM11 91h1v1h-1z"/>
<path fill="#0f3a76" d="M30 9h1v1h-1zM38 12h1v1h-1zM40 13h1v1h-1zM45 14h1v1h-1zM8 15h1v1h-1zM13 16h1v1h-1zM15 16h1v1h-1zM36 17h1v1h-1zM36 18h1v1h-1zM40 18h1v1h-1zM43 18h1v1h-1zM6 19h1v1h-1zM32 19h1v1h-1zM9 20h1v1h-1zM37 21h1v1h-1zM62 21h1v1h-1zM10 22h1v1h-1zM17 22h1v1h-1zM23 22h1v1h-1zM35 22h2v1h-2zM58 22h1v1h-1zM5 23h1v1h-1zM25 23h1v1h-1zM27 23h1v1h-1zM16 25h1v1h-1zM32 25h1v1h-1zM38 25h2v1h-2zM41 25h1v1h-1zM43 25h1v1h-1zM46 25h1v1h-1zM62 25h1v1h-1zM7 26h1v1h-1zM8 27h2v1h-2zM17 27h1v1h-1zM32 27h1v1h-1zM52 27h1v1h-1zM54 27h1v1h-1zM42 28h1v1h-1zM42 29h1v1h-1zM19 30h1v1h-1zM21 30h1v1h-1zM27 30h1v1h-1zM5 31h1v1h-1zM77 31h1v1h-1zM8 32h1v1h-1zM11 32h1v1h-1zM25 32h1v1h-1zM39 32h1v1h-1zM41 32h1v1h-1zM92 32h1v1h-1zM6 33h1v1h-1zM24 33h1v1h-1zM29 33h1v1h-1zM8 34h1v1h-1zM77 34h1v1h-1zM84 34h1v1h-1zM45 35h1v1h-1zM61 35h1v1h-1zM66 35h1v1h-1zM84 35h1v1h-1zM96 35h1v1h-1zM9 36h1v1h-1zM31 36h1v1h-1zM38 36h1v1h-1zM49 36h1v1h-1zM63 36h2v1h-2zM9 37h1v1h-1zM13 37h1v1h-1zM19 37h1v1h-1zM43 37h1v1h-1zM64 37h1v1h-1zM33 38h1v1h-1zM68 38h1v1h-1zM14 39h1v1h-1zM31 39h1v1h-1zM48 39h1v1h-1zM52 39h1v1h-1zM68 39h1v1h-1zM12 40h1v1h-1zM16 40h1v1h-1zM34 40h1v1h-1zM49 40h1v1h-1zM55 40h1v1h-1zM62 40h1v1h-1zM64 40h1v1h-1zM80 40h1v1h-1zM10 41h1v1h-1zM17 41h1v1h-1zM23 41h1v1h-1zM46 41h1v1h-1zM49 41h1v1h-1zM6 42h1v1h-1zM22 42h1v1h-1zM32 42h1v1h-1zM36 42h1v1h-1zM39 42h1v1h-1zM51 42h1v1h-1zM62 42h1v1h-1zM14 43h1v1h-1zM25 43h1v1h-1zM55 43h1v1h-1zM64 43h1v1h-1zM68 43h1v1h-1zM71 43h1v1h-1zM74 43h1v1h-1zM3 44h1v1h-1zM14 44h1v1h-1zM38 44h1v1h-1zM60 44h1v1h-1zM62 44h1v1h-1zM64 44h1v1h-1zM71 44h1v1h-1zM13 45h1v1h-1zM29 45h1v1h-1zM45 45h1v1h-1zM47 45h1v1h-1zM50 45h1v1h-1zM56 45h1v1h-1zM60 45h3v1h-3zM71 45h1v1h-1zM6 46h1v1h-1zM14 46h1v1h-1zM32 46h1v1h-1zM37 46h2v1h-2zM55 46h1v1h-1zM75 46h1v1h-1zM87 46h1v1h-1zM90 46h1v1h-1zM2 47h1v1h-1zM7 47h1v1h-1zM12 47h1v1h-1zM58 47h1v1h-1zM60 47h1v1h-1zM65 47h1v1h-1zM68 47h1v1h-1zM72 47h1v1h-1zM77 47h1v1h-1zM92 47h1v1h-1zM3 48h1v1h-1zM18 48h1v1h-1zM43 48h1v1h-1zM46 48h1v1h-1zM49 48h1v1h-1zM51 48h1v1h-1zM63 48h1v1h-1zM90 48h1v1h-1zM4 49h1v1h-1zM46 49h1v1h-1zM61 49h1v1h-1zM64 49h1v1h-1zM71 49h2v1h-2zM74 49h1v1h-1zM83 49h1v1h-1zM85 49h1v1h-1zM26 50h1v1h-1zM43 50h1v1h-1zM45 50h1v1h-1zM55 50h1v1h-1zM84 50h1v1h-1zM1 51h1v1h-1zM14 51h1v1h-1zM26 51h1v1h-1zM41 51h1v1h-1zM57 51h1v1h-1zM63 51h1v1h-1zM88 51h1v1h-1zM91 51h1v1h-1zM17 52h1v1h-1zM38 52h1v1h-1zM56 52h1v1h-1zM64 52h1v1h-1zM77 52h1v1h-1zM84 52h1v1h-1zM24 53h1v1h-1zM34 53h1v1h-1zM36 53h1v1h-1zM60 53h1v1h-1zM64 53h1v1h-1zM86 53h1v1h-1zM92 53h1v1h-1zM16 54h1v1h-1zM30 54h1v1h-1zM38 54h1v1h-1zM55 54h1v1h-1zM78 54h1v1h-1zM85 54h1v1h-1zM16 55h1v1h-1zM32 55h1v1h-1zM36 55h1v1h-1zM48 55h1v1h-1zM56 55h1v1h-1zM61 55h1v1h-1zM39 56h1v1h-1zM55 56h1v1h-1zM60 56h1v1h-1zM8 57h1v1h-1zM37 57h1v1h-1zM39 57h2v1h-2zM46 57h1v1h-1zM31 58h1v1h-1zM50 58h1v1h-1zM10 59h1v1h-1zM27 59h1v1h-1zM33 59h2v1h-2zM38 59h1v1h-1zM44 59h1v1h-1zM50 59h1v1h-1zM76 59h1v1h-1zM13 60h1v1h-1zM32 60h1v1h-1zM48 60h1v1h-1zM53 60h1v1h-1zM66 60h1v1h-1zM21 61h1v1h-1zM30 61h1v1h-1zM35 61h1v1h-1zM47 61h1v1h-1zM51 61h1v1h-1zM54 61h1v1h-1zM57 61h1v1h-1zM60 61h1v1h-1zM73 61h1v1h-1zM9 62h1v1h-1zM31 62h1v1h-1zM46 62h1v1h-1zM55 62h1v1h-1zM61 62h1v1h-1zM66 62h1v1h-1zM19 63h1v1h-1zM21 63h1v1h-1zM59 63h1v1h-1zM61 63h1v1h-1zM65 63h1v1h-1zM67 63h1v1h-1zM21 64h1v1h-1zM54 64h1v1h-1zM56 64h1v1h-1zM59 64h1v1h-1zM62 64h1v1h-1zM64 64h2v1h-2zM67 64h1v1h-1zM13 65h1v1h-1zM26 66h1v1h-1zM38 66h1v1h-1zM60 66h1v1h-1zM66 66h1v1h-1zM72 66h1v1h-1zM6 67h1v1h-1zM8 67h1v1h-1zM44 67h1v1h-1zM53 67h1v1h-1zM57 67h1v1h-1zM15 68h1v1h-1zM33 68h1v1h-1zM55 68h1v1h-1zM57 68h1v1h-1zM63 68h1v1h-1zM7 69h1v1h-1zM54 69h1v1h-1zM56 69h1v1h-1zM59 69h1v1h-1zM66 69h1v1h-1zM55 70h2v1h-2zM61 70h1v1h-1zM15 71h1v1h-1zM28 71h1v1h-1zM39 71h1v1h-1zM55 71h2v1h-2zM58 71h1v1h-1zM60 71h1v1h-1zM71 71h1v1h-1zM50 72h1v1h-1zM53 72h1v1h-1zM56 72h1v1h-1zM59 72h1v1h-1zM62 72h1v1h-1zM28 73h1v1h-1zM58 73h1v1h-1zM61 73h1v1h-1zM38 74h1v1h-1zM68 74h1v1h-1zM9 75h1v1h-1zM57 75h1v1h-1zM59 75h1v1h-1zM39 76h1v1h-1zM54 76h1v1h-1zM57 76h1v1h-1zM53 77h2v1h-2zM29 78h1v1h-1zM53 78h1v1h-1zM59 78h1v1h-1zM54 79h1v1h-1zM56 79h2v1h-2zM57 80h1v1h-1zM34 81h1v1h-1zM52 82h2v1h-2zM57 82h1v1h-1zM51 83h1v1h-1zM18 85h1v1h-1z"/>
<path fill="#0b3a74" d="M9 8h1v1h-1zM23 9h1v1h-1zM23 11h1v1h-1zM52 11h1v1h-1zM15 12h1v1h-1zM18 12h1v1h-1zM16 14h1v1h-1zM33 14h1v1h-1zM17 17h1v1h-1zM20 17h1v1h-1zM28 18h1v1h-1zM51 18h1v1h-1zM16 19h1v1h-1zM14 20h2v1h-2zM43 20h1v1h-1zM1 21h1v1h-1zM9 21h1v1h-1zM39 21h1v1h-1zM41 21h1v1h-1zM5 22h1v1h-1zM11 22h1v1h-1zM28 22h1v1h-1zM38 22h1v1h-1zM41 22h1v1h-1zM56 22h1v1h-1zM14 23h1v1h-1zM16 23h1v1h-1zM19 23h1v1h-1zM38 23h1v1h-1zM35 24h1v1h-1zM44 24h1v1h-1zM5 25h1v1h-1zM10 26h1v1h-1zM44 26h1v1h-1zM47 26h1v1h-1zM6 27h2v1h-2zM20 27h1v1h-1zM22 27h1v1h-1zM53 27h1v1h-1zM4 28h1v1h-1zM20 28h1v1h-1zM33 28h1v1h-1zM49 28h1v1h-1zM52 28h2v1h-2zM68 28h1v1h-1zM22 29h1v1h-1zM28 29h1v1h-1zM44 29h1v1h-1zM46 29h1v1h-1zM53 29h1v1h-1zM29 30h1v1h-1zM34 30h1v1h-1zM38 30h1v1h-1zM64 30h1v1h-1zM8 31h1v1h-1zM11 31h1v1h-1zM17 31h1v1h-1zM21 31h1v1h-1zM31 31h1v1h-1zM46 31h1v1h-1zM10 32h1v1h-1zM22 32h1v1h-1zM24 32h1v1h-1zM27 32h1v1h-1zM3 33h1v1h-1zM18 33h1v1h-1zM22 33h2v1h-2zM25 33h1v1h-1zM28 33h1v1h-1zM37 33h1v1h-1zM50 33h1v1h-1zM55 33h1v1h-1zM63 33h1v1h-1zM73 33h1v1h-1zM5 34h1v1h-1zM7 34h1v1h-1zM33 34h1v1h-1zM46 34h1v1h-1zM60 34h1v1h-1zM66 34h1v1h-1zM69 34h1v1h-1zM93 34h1v1h-1zM7 35h2v1h-2zM14 35h1v1h-1zM17 35h1v1h-1zM21 35h1v1h-1zM34 35h1v1h-1zM55 35h1v1h-1zM72 35h1v1h-1zM0 36h1v1h-1zM2 36h2v1h-2zM11 36h1v1h-1zM14 36h1v1h-1zM18 36h1v1h-1zM54 36h1v1h-1zM70 36h1v1h-1zM6 37h1v1h-1zM8 37h1v1h-1zM18 37h1v1h-1zM20 37h1v1h-1zM36 37h2v1h-2zM41 37h1v1h-1zM89 37h1v1h-1zM95 37h1v1h-1zM6 38h1v1h-1zM8 38h2v1h-2zM16 38h1v1h-1zM19 38h1v1h-1zM23 38h1v1h-1zM35 38h1v1h-1zM40 38h1v1h-1zM52 38h1v1h-1zM69 38h1v1h-1zM76 38h1v1h-1zM91 38h1v1h-1zM6 39h1v1h-1zM22 39h1v1h-1zM33 39h1v1h-1zM39 39h1v1h-1zM49 39h1v1h-1zM70 39h1v1h-1zM9 40h1v1h-1zM24 40h1v1h-1zM26 40h1v1h-1zM32 40h1v1h-1zM37 40h1v1h-1zM43 40h1v1h-1zM68 40h1v1h-1zM89 40h1v1h-1zM1 41h2v1h-2zM13 41h1v1h-1zM18 41h1v1h-1zM20 41h1v1h-1zM29 41h1v1h-1zM42 41h1v1h-1zM47 41h1v1h-1zM69 41h1v1h-1zM71 41h1v1h-1zM82 41h1v1h-1zM2 42h1v1h-1zM9 42h2v1h-2zM17 42h2v1h-2zM42 42h1v1h-1zM49 42h1v1h-1zM63 42h1v1h-1zM67 42h1v1h-1zM87 42h1v1h-1zM5 43h1v1h-1zM10 43h1v1h-1zM30 43h1v1h-1zM37 43h1v1h-1zM40 43h2v1h-2zM43 43h1v1h-1zM63 43h1v1h-1zM65 43h1v1h-1zM4 44h1v1h-1zM16 44h1v1h-1zM20 44h2v1h-2zM24 44h1v1h-1zM32 44h1v1h-1zM36 44h1v1h-1zM45 44h1v1h-1zM48 44h1v1h-1zM65 44h1v1h-1zM67 44h1v1h-1zM89 44h1v1h-1zM7 45h1v1h-1zM20 45h1v1h-1zM32 45h1v1h-1zM41 45h1v1h-1zM46 45h1v1h-1zM51 45h1v1h-1zM88 45h1v1h-1zM10 46h1v1h-1zM25 46h1v1h-1zM30 46h2v1h-2zM36 46h1v1h-1zM40 46h1v1h-1zM50 46h3v1h-3zM63 46h1v1h-1zM66 46h2v1h-2zM77 46h1v1h-1zM14 47h1v1h-1zM26 47h1v1h-1zM29 47h1v1h-1zM33 47h1v1h-1zM35 47h1v1h-1zM45 47h1v1h-1zM75 47h1v1h-1zM88 47h1v1h-1zM1 48h1v1h-1zM17 48h1v1h-1zM29 48h1v1h-1zM33 48h1v1h-1zM35 48h1v1h-1zM47 48h1v1h-1zM57 48h1v1h-1zM71 48h1v1h-1zM87 48h1v1h-1zM9 49h1v1h-1zM24 49h1v1h-1zM41 49h1v1h-1zM47 49h1v1h-1zM54 49h1v1h-1zM59 49h1v1h-1zM62 49h1v1h-1zM73 49h1v1h-1zM75 49h1v1h-1zM88 49h1v1h-1zM11 50h1v1h-1zM25 50h1v1h-1zM61 50h1v1h-1zM68 50h1v1h-1zM72 50h1v1h-1zM6 51h1v1h-1zM27 51h1v1h-1zM38 51h1v1h-1zM49 51h1v1h-1zM76 51h1v1h-1zM82 51h1v1h-1zM85 51h1v1h-1zM89 51h1v1h-1zM21 52h1v1h-1zM30 52h1v1h-1zM53 52h1v1h-1zM75 52h1v1h-1zM3 53h1v1h-1zM16 53h1v1h-1zM22 53h1v1h-1zM25 53h1v1h-1zM27 53h1v1h-1zM33 53h1v1h-1zM37 53h1v1h-1zM39 53h1v1h-1zM42 53h1v1h-1zM55 53h1v1h-1zM74 53h1v1h-1zM29 54h1v1h-1zM34 54h1v1h-1zM43 54h1v1h-1zM56 54h1v1h-1zM73 54h2v1h-2zM17 55h1v1h-1zM25 55h1v1h-1zM45 55h1v1h-1zM54 55h2v1h-2zM18 56h1v1h-1zM24 56h2v1h-2zM27 56h1v1h-1zM33 56h1v1h-1zM53 56h2v1h-2zM63 56h1v1h-1zM17 57h1v1h-1zM27 57h1v1h-1zM33 57h2v1h-2zM38 57h1v1h-1zM42 57h1v1h-1zM10 58h1v1h-1zM44 58h2v1h-2zM53 58h1v1h-1zM1 59h1v1h-1zM7 59h1v1h-1zM16 59h1v1h-1zM24 59h1v1h-1zM46 59h1v1h-1zM48 59h1v1h-1zM75 59h1v1h-1zM7 60h1v1h-1zM12 60h1v1h-1zM16 60h1v1h-1zM23 60h1v1h-1zM38 60h1v1h-1zM55 60h1v1h-1zM57 60h1v1h-1zM74 60h1v1h-1zM15 61h1v1h-1zM29 61h1v1h-1zM43 61h1v1h-1zM52 61h1v1h-1zM63 61h2v1h-2zM3 62h1v1h-1zM34 62h1v1h-1zM41 62h1v1h-1zM45 62h1v1h-1zM47 62h1v1h-1zM49 62h1v1h-1zM54 62h1v1h-1zM59 62h1v1h-1zM63 62h2v1h-2zM25 63h1v1h-1zM63 63h2v1h-2zM8 64h1v1h-1zM17 64h2v1h-2zM28 64h1v1h-1zM37 64h1v1h-1zM51 64h1v1h-1zM63 64h1v1h-1zM72 64h1v1h-1zM74 64h1v1h-1zM19 65h1v1h-1zM24 65h1v1h-1zM34 65h1v1h-1zM64 65h1v1h-1zM19 66h1v1h-1zM32 66h1v1h-1zM51 66h1v1h-1zM56 66h2v1h-2zM59 66h1v1h-1zM62 66h1v1h-1zM36 67h1v1h-1zM56 67h1v1h-1zM59 67h1v1h-1zM20 68h1v1h-1zM54 68h1v1h-1zM68 68h1v1h-1zM9 69h1v1h-1zM32 69h1v1h-1zM37 69h1v1h-1zM57 69h1v1h-1zM61 69h1v1h-1zM72 69h1v1h-1zM17 70h1v1h-1zM46 70h1v1h-1zM50 70h1v1h-1zM68 70h1v1h-1zM7 71h1v1h-1zM29 71h1v1h-1zM53 71h1v1h-1zM59 71h1v1h-1zM17 72h1v1h-1zM41 72h1v1h-1zM69 72h1v1h-1zM52 73h1v1h-1zM65 73h1v1h-1zM0 74h1v1h-1zM10 74h1v1h-1zM39 74h1v1h-1zM48 74h1v1h-1zM55 74h1v1h-1zM60 74h1v1h-1zM4 75h1v1h-1zM52 75h1v1h-1zM58 76h1v1h-1zM25 77h1v1h-1zM63 77h1v1h-1zM16 81h1v1h-1zM53 81h1v1h-1zM55 81h1v1h-1zM25 82h1v1h-1zM33 82h1v1h-1zM56 82h1v1h-1zM45 85h1v1h-1zM30 87h1v1h-1z"/>
<path fill="#073a73" d="M19 8h1v1h-1zM13 10h1v1h-1zM16 12h1v1h-1zM16 13h1v1h-1zM20 13h2v1h-2zM23 13h1v1h-1zM38 13h1v1h-1zM46 13h1v1h-1zM13 15h1v1h-1zM50 15h1v1h-1zM7 16h1v1h-1zM20 16h1v1h-1zM8 17h1v1h-1zM63 17h1v1h-1zM15 18h1v1h-1zM29 18h1v1h-1zM41 18h1v1h-1zM26 19h1v1h-1zM29 19h1v1h-1zM33 19h1v1h-1zM38 19h1v1h-1zM41 19h1v1h-1zM11 20h1v1h-1zM28 21h1v1h-1zM32 21h1v1h-1zM45 21h1v1h-1zM53 21h1v1h-1zM20 22h2v1h-2zM39 22h1v1h-1zM44 22h1v1h-1zM54 22h1v1h-1zM17 23h1v1h-1zM36 23h1v1h-1zM52 23h1v1h-1zM66 23h1v1h-1zM22 24h1v1h-1zM26 24h1v1h-1zM33 24h1v1h-1zM11 25h1v1h-1zM17 25h1v1h-1zM27 25h1v1h-1zM42 25h1v1h-1zM52 25h1v1h-1zM25 26h2v1h-2zM28 26h1v1h-1zM32 26h1v1h-1zM34 26h1v1h-1zM45 26h1v1h-1zM51 26h1v1h-1zM19 27h1v1h-1zM23 27h1v1h-1zM29 27h1v1h-1zM48 27h1v1h-1zM11 28h1v1h-1zM22 28h1v1h-1zM39 28h1v1h-1zM54 28h1v1h-1zM14 29h1v1h-1zM21 29h1v1h-1zM37 29h2v1h-2zM41 29h1v1h-1zM4 30h1v1h-1zM9 30h1v1h-1zM28 30h1v1h-1zM4 31h1v1h-1zM7 31h1v1h-1zM13 31h1v1h-1zM16 31h1v1h-1zM19 31h1v1h-1zM33 31h1v1h-1zM37 31h1v1h-1zM45 31h1v1h-1zM62 31h1v1h-1zM67 31h1v1h-1zM15 32h1v1h-1zM17 32h1v1h-1zM28 32h1v1h-1zM35 32h1v1h-1zM9 33h1v1h-1zM21 33h1v1h-1zM33 33h1v1h-1zM42 33h2v1h-2zM60 33h1v1h-1zM10 34h1v1h-1zM24 34h1v1h-1zM28 34h1v1h-1zM31 34h1v1h-1zM37 34h3v1h-3zM19 35h1v1h-1zM22 35h1v1h-1zM25 35h1v1h-1zM40 35h1v1h-1zM43 35h1v1h-1zM59 35h1v1h-1zM80 35h1v1h-1zM15 36h1v1h-1zM23 36h1v1h-1zM26 36h2v1h-2zM32 36h1v1h-1zM60 36h1v1h-1zM67 36h1v1h-1zM17 37h1v1h-1zM24 37h2v1h-2zM29 37h1v1h-1zM39 37h1v1h-1zM63 37h1v1h-1zM7 38h1v1h-1zM25 38h1v1h-1zM36 38h1v1h-1zM39 38h1v1h-1zM48 38h1v1h-1zM10 39h1v1h-1zM17 39h2v1h-2zM20 39h2v1h-2zM27 39h3v1h-3zM35 39h2v1h-2zM71 39h1v1h-1zM2 40h1v1h-1zM4 40h1v1h-1zM11 40h1v1h-1zM13 40h1v1h-1zM15 40h1v1h-1zM19 40h1v1h-1zM23 40h1v1h-1zM27 40h3v1h-3zM31 40h1v1h-1zM47 40h1v1h-1zM51 40h1v1h-1zM69 40h1v1h-1zM25 41h1v1h-1zM28 41h1v1h-1zM36 41h1v1h-1zM70 41h1v1h-1zM20 42h1v1h-1zM23 42h1v1h-1zM29 42h1v1h-1zM34 42h2v1h-2zM40 42h1v1h-1zM43 42h1v1h-1zM47 42h1v1h-1zM68 42h1v1h-1zM4 43h1v1h-1zM12 43h2v1h-2zM24 43h1v1h-1zM27 43h1v1h-1zM36 43h1v1h-1zM44 43h1v1h-1zM49 43h1v1h-1zM7 44h1v1h-1zM11 44h1v1h-1zM25 44h1v1h-1zM28 44h1v1h-1zM30 44h2v1h-2zM40 44h1v1h-1zM47 44h1v1h-1zM9 45h1v1h-1zM14 45h1v1h-1zM17 45h1v1h-1zM19 45h1v1h-1zM27 45h1v1h-1zM35 45h2v1h-2zM39 45h1v1h-1zM75 45h1v1h-1zM5 46h1v1h-1zM24 46h1v1h-1zM33 46h1v1h-1zM41 46h1v1h-1zM43 46h1v1h-1zM70 46h1v1h-1zM8 47h1v1h-1zM16 47h1v1h-1zM28 47h1v1h-1zM30 47h1v1h-1zM39 47h2v1h-2zM51 47h1v1h-1zM5 48h1v1h-1zM10 48h1v1h-1zM12 48h3v1h-3zM19 48h1v1h-1zM22 48h1v1h-1zM25 48h1v1h-1zM27 48h1v1h-1zM30 48h1v1h-1zM39 48h3v1h-3zM48 48h1v1h-1zM50 48h1v1h-1zM54 48h1v1h-1zM59 48h1v1h-1zM7 49h2v1h-2zM17 49h2v1h-2zM21 49h1v1h-1zM33 49h1v1h-1zM38 49h1v1h-1zM49 49h1v1h-1zM10 50h1v1h-1zM16 50h1v1h-1zM18 50h1v1h-1zM22 50h1v1h-1zM28 50h1v1h-1zM69 50h1v1h-1zM74 50h1v1h-1zM4 51h1v1h-1zM30 51h1v1h-1zM34 51h1v1h-1zM40 51h1v1h-1zM42 51h1v1h-1zM50 51h1v1h-1zM55 51h1v1h-1zM73 51h1v1h-1zM8 52h1v1h-1zM10 52h1v1h-1zM15 52h1v1h-1zM19 52h1v1h-1zM43 52h2v1h-2zM49 52h1v1h-1zM55 52h1v1h-1zM86 52h1v1h-1zM21 53h1v1h-1zM35 53h1v1h-1zM38 53h1v1h-1zM46 53h1v1h-1zM48 53h1v1h-1zM85 53h1v1h-1zM4 54h1v1h-1zM19 54h1v1h-1zM21 54h1v1h-1zM41 54h1v1h-1zM48 54h1v1h-1zM53 54h1v1h-1zM77 54h1v1h-1zM9 55h1v1h-1zM13 55h1v1h-1zM26 55h1v1h-1zM41 55h1v1h-1zM63 55h1v1h-1zM11 56h1v1h-1zM13 56h1v1h-1zM15 56h1v1h-1zM26 56h1v1h-1zM42 56h1v1h-1zM50 56h2v1h-2zM3 57h1v1h-1zM10 57h1v1h-1zM12 57h1v1h-1zM21 57h1v1h-1zM26 57h1v1h-1zM43 57h1v1h-1zM49 57h1v1h-1zM60 57h1v1h-1zM8 58h1v1h-1zM29 58h1v1h-1zM37 58h1v1h-1zM49 58h1v1h-1zM63 58h1v1h-1zM14 59h1v1h-1zM23 59h1v1h-1zM31 59h1v1h-1zM35 59h2v1h-2zM52 59h1v1h-1zM14 60h1v1h-1zM21 60h1v1h-1zM2 61h1v1h-1zM4 61h1v1h-1zM20 61h1v1h-1zM23 61h1v1h-1zM25 61h1v1h-1zM32 61h1v1h-1zM37 61h1v1h-1zM45 61h1v1h-1zM70 61h1v1h-1zM11 62h1v1h-1zM20 62h1v1h-1zM48 62h1v1h-1zM52 62h1v1h-1zM6 63h1v1h-1zM26 63h2v1h-2zM30 63h1v1h-1zM36 63h1v1h-1zM43 63h1v1h-1zM56 63h1v1h-1zM14 64h1v1h-1zM33 64h1v1h-1zM45 64h1v1h-1zM61 64h1v1h-1zM7 65h1v1h-1zM41 65h1v1h-1zM47 65h1v1h-1zM59 65h1v1h-1zM24 66h1v1h-1zM35 66h1v1h-1zM41 66h1v1h-1zM43 66h1v1h-1zM19 67h1v1h-1zM22 67h1v1h-1zM25 67h1v1h-1zM19 68h1v1h-1zM27 68h1v1h-1zM3 69h1v1h-1zM69 69h1v1h-1zM5 70h1v1h-1zM22 70h1v1h-1zM24 70h1v1h-1zM30 70h1v1h-1zM37 70h1v1h-1zM51 70h1v1h-1zM59 70h1v1h-1zM62 70h1v1h-1zM42 71h1v1h-1zM18 72h1v1h-1zM20 72h1v1h-1zM26 72h1v1h-1zM29 72h1v1h-1zM37 72h1v1h-1zM44 72h1v1h-1zM3 73h1v1h-1zM23 73h1v1h-1zM33 74h1v1h-1zM24 75h1v1h-1zM21 76h1v1h-1zM53 76h1v1h-1zM55 76h1v1h-1zM17 77h1v1h-1zM42 77h1v1h-1zM60 78h1v1h-1zM23 79h1v1h-1zM33 79h1v1h-1zM55 80h1v1h-1zM56 81h1v1h-1zM58 81h1v1h-1zM7 82h1v1h-1zM22 82h1v1h-1zM37 82h1v1h-1zM51 82h1v1h-1zM11 86h1v1h-1zM42 87h1v1h-1zM17 93h1v1h-1z"/>
<path fill="#023b71" d="M42 7h1v1h-1zM15 14h1v1h-1zM35 14h1v1h-1zM9 15h1v1h-1zM37 15h1v1h-1zM43 15h1v1h-1zM17 16h1v1h-1zM28 16h1v1h-1zM37 16h1v1h-1zM39 16h1v1h-1zM19 17h1v1h-1zM31 17h1v1h-1zM10 19h1v1h-1zM22 19h1v1h-1zM24 19h1v1h-1zM30 19h1v1h-1zM57 19h1v1h-1zM35 21h1v1h-1zM6 22h1v1h-1zM13 23h1v1h-1zM13 24h1v1h-1zM38 24h1v1h-1zM43 24h1v1h-1zM15 25h1v1h-1zM33 25h1v1h-1zM50 25h1v1h-1zM11 26h1v1h-1zM18 26h1v1h-1zM23 26h1v1h-1zM5 28h1v1h-1zM16 28h1v1h-1zM19 28h1v1h-1zM27 28h1v1h-1zM30 28h1v1h-1zM34 28h1v1h-1zM47 28h1v1h-1zM5 29h1v1h-1zM19 29h1v1h-1zM31 29h1v1h-1zM47 29h1v1h-1zM49 29h1v1h-1zM3 30h1v1h-1zM6 30h1v1h-1zM25 30h1v1h-1zM49 30h1v1h-1zM1 31h1v1h-1zM15 31h1v1h-1zM24 31h1v1h-1zM27 31h1v1h-1zM29 31h1v1h-1zM4 32h1v1h-1zM7 32h1v1h-1zM16 32h1v1h-1zM19 32h1v1h-1zM43 32h1v1h-1zM27 33h1v1h-1zM40 33h1v1h-1zM18 34h1v1h-1zM22 34h1v1h-1zM48 34h1v1h-1zM1 35h3v1h-3zM11 35h3v1h-3zM27 35h1v1h-1zM41 35h1v1h-1zM7 36h1v1h-1zM10 36h1v1h-1zM12 36h1v1h-1zM25 36h1v1h-1zM40 36h2v1h-2zM26 37h2v1h-2zM33 37h1v1h-1zM45 37h1v1h-1zM53 37h1v1h-1zM18 38h1v1h-1zM24 38h1v1h-1zM26 38h1v1h-1zM28 38h2v1h-2zM57 38h1v1h-1zM11 39h1v1h-1zM19 39h1v1h-1zM30 39h1v1h-1zM3 40h1v1h-1zM10 40h1v1h-1zM17 40h1v1h-1zM22 40h1v1h-1zM33 40h1v1h-1zM45 40h2v1h-2zM52 40h1v1h-1zM12 41h1v1h-1zM14 41h1v1h-1zM19 41h1v1h-1zM37 41h1v1h-1zM11 42h1v1h-1zM14 42h1v1h-1zM30 42h1v1h-1zM45 42h1v1h-1zM8 43h1v1h-1zM15 43h1v1h-1zM18 43h3v1h-3zM22 43h2v1h-2zM28 43h1v1h-1zM31 43h2v1h-2zM17 44h2v1h-2zM23 44h1v1h-1zM29 44h1v1h-1zM37 44h1v1h-1zM42 44h1v1h-1zM44 44h1v1h-1zM46 44h1v1h-1zM6 45h1v1h-1zM8 45h1v1h-1zM16 45h1v1h-1zM24 45h3v1h-3zM31 45h1v1h-1zM33 45h1v1h-1zM4 46h1v1h-1zM12 46h2v1h-2zM34 46h1v1h-1zM59 46h1v1h-1zM1 47h1v1h-1zM4 47h1v1h-1zM6 47h1v1h-1zM20 47h1v1h-1zM22 47h1v1h-1zM27 47h1v1h-1zM34 47h1v1h-1zM38 47h1v1h-1zM6 48h1v1h-1zM11 48h1v1h-1zM28 48h1v1h-1zM36 48h1v1h-1zM38 48h1v1h-1zM11 49h1v1h-1zM16 49h1v1h-1zM20 49h1v1h-1zM26 49h1v1h-1zM29 49h1v1h-1zM32 49h1v1h-1zM45 49h1v1h-1zM77 49h1v1h-1zM5 50h1v1h-1zM32 50h1v1h-1zM44 50h1v1h-1zM48 50h1v1h-1zM10 51h2v1h-2zM19 51h1v1h-1zM29 51h1v1h-1zM32 51h1v1h-1zM48 51h1v1h-1zM59 51h1v1h-1zM2 52h1v1h-1zM16 52h1v1h-1zM27 52h1v1h-1zM41 52h1v1h-1zM41 53h1v1h-1zM43 53h1v1h-1zM45 53h1v1h-1zM14 54h2v1h-2zM22 54h1v1h-1zM26 54h1v1h-1zM32 54h2v1h-2zM45 54h1v1h-1zM70 54h1v1h-1zM8 55h1v1h-1zM10 55h2v1h-2zM5 56h1v1h-1zM14 56h1v1h-1zM35 56h1v1h-1zM52 56h1v1h-1zM16 57h1v1h-1zM25 57h1v1h-1zM28 57h1v1h-1zM35 57h1v1h-1zM45 57h1v1h-1zM17 58h1v1h-1zM23 58h1v1h-1zM26 58h1v1h-1zM32 58h1v1h-1zM35 58h1v1h-1zM8 59h1v1h-1zM17 59h1v1h-1zM25 59h1v1h-1zM28 59h2v1h-2zM42 59h2v1h-2zM2 60h1v1h-1zM10 60h1v1h-1zM31 60h1v1h-1zM42 60h1v1h-1zM50 60h1v1h-1zM10 61h1v1h-1zM13 61h1v1h-1zM18 61h1v1h-1zM6 62h1v1h-1zM14 62h1v1h-1zM17 62h2v1h-2zM37 62h1v1h-1zM7 63h1v1h-1zM9 63h1v1h-1zM11 63h1v1h-1zM16 63h1v1h-1zM20 63h1v1h-1zM22 63h1v1h-1zM32 63h1v1h-1zM45 63h2v1h-2zM27 64h1v1h-1zM52 64h2v1h-2zM12 65h1v1h-1zM49 65h1v1h-1zM52 65h1v1h-1zM28 66h1v1h-1zM30 66h1v1h-1zM4 67h1v1h-1zM38 68h1v1h-1zM41 68h1v1h-1zM48 69h1v1h-1zM70 69h1v1h-1zM11 70h1v1h-1zM18 70h1v1h-1zM20 70h1v1h-1zM36 70h1v1h-1zM45 70h1v1h-1zM54 70h1v1h-1zM20 71h1v1h-1zM24 71h1v1h-1zM67 71h1v1h-1zM33 72h1v1h-1zM46 72h1v1h-1zM68 72h1v1h-1zM11 73h1v1h-1zM20 73h1v1h-1zM43 73h1v1h-1zM53 73h1v1h-1zM29 74h1v1h-1zM14 75h1v1h-1zM17 75h1v1h-1zM7 76h1v1h-1zM9 76h1v1h-1zM20 77h1v1h-1zM18 78h1v1h-1zM34 78h1v1h-1zM33 89h1v1h-1z"/>
<path fill="#013d6e" d="M14 1h1v1h-1zM9 4h1v1h-1zM21 5h1v1h-1zM27 5h1v1h-1zM27 6h1v1h-1zM12 7h1v1h-1zM20 7h1v1h-1zM23 7h1v1h-1zM29 7h1v1h-1zM36 9h1v1h-1zM30 10h1v1h-1zM7 12h2v1h-2zM21 12h1v1h-1zM28 13h1v1h-1zM14 14h1v1h-1zM41 14h1v1h-1zM32 15h1v1h-1zM33 16h1v1h-1zM24 17h1v1h-1zM26 17h1v1h-1zM38 17h1v1h-1zM21 18h1v1h-1zM32 18h1v1h-1zM18 19h1v1h-1zM23 19h1v1h-1zM28 19h1v1h-1zM42 19h1v1h-1zM62 19h1v1h-1zM17 20h1v1h-1zM24 20h1v1h-1zM11 21h1v1h-1zM29 21h2v1h-2zM40 21h1v1h-1zM15 22h2v1h-2zM24 22h1v1h-1zM33 22h1v1h-1zM45 22h1v1h-1zM1 23h1v1h-1zM34 23h1v1h-1zM50 23h1v1h-1zM8 24h1v1h-1zM15 24h1v1h-1zM18 24h1v1h-1zM48 24h1v1h-1zM3 25h1v1h-1zM8 25h2v1h-2zM35 25h2v1h-2zM2 26h1v1h-1zM5 26h2v1h-2zM30 26h1v1h-1zM33 26h1v1h-1zM54 26h1v1h-1zM3 27h1v1h-1zM37 27h1v1h-1zM1 28h1v1h-1zM21 28h1v1h-1zM23 28h1v1h-1zM32 28h1v1h-1zM44 28h1v1h-1zM46 28h1v1h-1zM4 29h1v1h-1zM6 29h1v1h-1zM27 29h1v1h-1zM31 30h2v1h-2zM36 30h2v1h-2zM39 30h1v1h-1zM52 30h1v1h-1zM2 31h1v1h-1zM12 31h1v1h-1zM23 31h1v1h-1zM25 31h1v1h-1zM42 31h1v1h-1zM44 31h1v1h-1zM47 31h1v1h-1zM29 32h1v1h-1zM4 33h1v1h-1zM14 33h1v1h-1zM17 33h1v1h-1zM20 33h1v1h-1zM26 33h1v1h-1zM35 33h2v1h-2zM39 33h1v1h-1zM52 33h1v1h-1zM14 34h1v1h-1zM20 34h1v1h-1zM25 34h1v1h-1zM44 34h1v1h-1zM6 35h1v1h-1zM15 35h1v1h-1zM33 35h1v1h-1zM35 35h2v1h-2zM38 35h1v1h-1zM50 35h1v1h-1zM13 36h1v1h-1zM16 36h1v1h-1zM19 36h1v1h-1zM21 36h1v1h-1zM37 36h1v1h-1zM39 36h1v1h-1zM52 36h2v1h-2zM58 36h1v1h-1zM11 37h1v1h-1zM16 37h1v1h-1zM22 37h1v1h-1zM28 37h1v1h-1zM30 37h1v1h-1zM35 37h1v1h-1zM38 37h1v1h-1zM51 37h1v1h-1zM10 38h1v1h-1zM13 38h1v1h-1zM15 38h1v1h-1zM17 38h1v1h-1zM21 38h2v1h-2zM27 38h1v1h-1zM34 38h1v1h-1zM45 38h1v1h-1zM8 39h1v1h-1zM13 39h1v1h-1zM15 39h1v1h-1zM57 39h1v1h-1zM14 40h1v1h-1zM18 40h1v1h-1zM35 40h2v1h-2zM38 40h2v1h-2zM42 40h1v1h-1zM50 40h1v1h-1zM22 41h1v1h-1zM24 41h1v1h-1zM26 41h2v1h-2zM31 41h1v1h-1zM33 41h1v1h-1zM16 42h1v1h-1zM24 42h1v1h-1zM28 42h1v1h-1zM44 42h1v1h-1zM2 43h1v1h-1zM6 43h2v1h-2zM16 43h1v1h-1zM29 43h1v1h-1zM38 43h1v1h-1zM5 44h1v1h-1zM12 44h2v1h-2zM27 44h1v1h-1zM43 44h1v1h-1zM10 45h1v1h-1zM30 45h1v1h-1zM34 45h1v1h-1zM44 45h1v1h-1zM48 45h1v1h-1zM9 46h1v1h-1zM11 46h1v1h-1zM19 46h1v1h-1zM22 46h1v1h-1zM27 46h1v1h-1zM44 46h1v1h-1zM60 46h1v1h-1zM3 47h1v1h-1zM10 47h1v1h-1zM19 47h1v1h-1zM25 47h1v1h-1zM36 47h1v1h-1zM41 47h2v1h-2zM15 48h1v1h-1zM10 49h1v1h-1zM30 49h1v1h-1zM8 50h1v1h-1zM13 50h2v1h-2zM33 50h1v1h-1zM35 50h2v1h-2zM46 50h1v1h-1zM54 50h1v1h-1zM8 51h1v1h-1zM15 51h1v1h-1zM17 51h1v1h-1zM21 51h1v1h-1zM23 51h1v1h-1zM31 51h1v1h-1zM33 51h1v1h-1zM39 51h1v1h-1zM44 51h1v1h-1zM5 52h1v1h-1zM24 52h1v1h-1zM37 52h1v1h-1zM45 52h1v1h-1zM57 52h1v1h-1zM10 53h1v1h-1zM12 53h2v1h-2zM26 53h1v1h-1zM9 54h1v1h-1zM17 54h1v1h-1zM24 54h1v1h-1zM27 54h1v1h-1zM35 54h1v1h-1zM49 54h1v1h-1zM54 54h1v1h-1zM14 55h1v1h-1zM22 55h1v1h-1zM40 55h1v1h-1zM49 55h1v1h-1zM4 56h1v1h-1zM6 56h1v1h-1zM9 56h1v1h-1zM12 56h1v1h-1zM16 56h1v1h-1zM21 56h3v1h-3zM29 56h1v1h-1zM31 56h2v1h-2zM38 56h1v1h-1zM43 56h1v1h-1zM56 56h1v1h-1zM7 57h1v1h-1zM11 57h1v1h-1zM18 57h3v1h-3zM22 57h1v1h-1zM30 57h1v1h-1zM36 57h1v1h-1zM41 57h1v1h-1zM6 58h1v1h-1zM14 58h1v1h-1zM18 58h2v1h-2zM24 58h2v1h-2zM39 58h1v1h-1zM41 58h1v1h-1zM51 58h1v1h-1zM15 59h1v1h-1zM51 59h1v1h-1zM58 59h1v1h-1zM4 60h1v1h-1zM18 60h1v1h-1zM22 60h1v1h-1zM28 60h1v1h-1zM30 60h1v1h-1zM33 60h3v1h-3zM46 60h1v1h-1zM11 61h1v1h-1zM17 61h1v1h-1zM26 61h1v1h-1zM33 61h1v1h-1zM40 61h1v1h-1zM50 61h1v1h-1zM59 61h1v1h-1zM10 62h1v1h-1zM29 62h2v1h-2zM32 62h1v1h-1zM36 62h1v1h-1zM40 62h1v1h-1zM28 63h1v1h-1zM34 63h2v1h-2zM47 63h1v1h-1zM50 63h1v1h-1zM15 64h1v1h-1zM22 64h1v1h-1zM40 64h1v1h-1zM46 64h1v1h-1zM5 65h1v1h-1zM37 65h1v1h-1zM46 65h1v1h-1zM50 65h1v1h-1zM25 66h1v1h-1zM39 66h1v1h-1zM48 66h2v1h-2zM7 67h1v1h-1zM15 67h1v1h-1zM31 67h2v1h-2zM34 67h1v1h-1zM37 67h1v1h-1zM50 67h1v1h-1zM13 68h1v1h-1zM26 68h1v1h-1zM47 68h2v1h-2zM52 68h2v1h-2zM19 69h1v1h-1zM28 69h1v1h-1zM34 69h1v1h-1zM36 69h1v1h-1zM47 69h1v1h-1zM12 70h1v1h-1zM45 71h1v1h-1zM5 72h2v1h-2zM8 72h1v1h-1zM16 72h1v1h-1zM31 72h1v1h-1zM34 72h1v1h-1zM21 73h2v1h-2zM31 73h1v1h-1zM33 73h1v1h-1zM7 74h1v1h-1zM27 74h1v1h-1zM36 74h1v1h-1zM43 74h1v1h-1zM56 75h1v1h-1zM34 76h2v1h-2zM37 76h1v1h-1zM15 77h1v1h-1zM5 80h1v1h-1zM25 80h1v1h-1zM32 80h1v1h-1zM14 82h1v1h-1zM47 82h1v1h-1zM30 85h1v1h-1zM27 92h1v1h-1zM22 94h1v1h-1z"/>
<path fill="#02406b" d="M13 5h1v1h-1zM26 6h1v1h-1zM25 9h1v1h-1zM29 9h1v1h-1zM18 10h1v1h-1zM31 12h1v1h-1zM19 14h1v1h-1zM23 14h1v1h-1zM25 14h1v1h-1zM46 14h1v1h-1zM14 15h1v1h-1zM35 15h1v1h-1zM23 16h1v1h-1zM42 16h1v1h-1zM27 18h1v1h-1zM37 18h1v1h-1zM7 19h1v1h-1zM25 19h1v1h-1zM40 19h1v1h-1zM5 20h1v1h-1zM10 20h1v1h-1zM30 20h1v1h-1zM46 20h1v1h-1zM50 20h1v1h-1zM6 21h1v1h-1zM12 21h1v1h-1zM14 21h1v1h-1zM27 21h1v1h-1zM8 22h1v1h-1zM21 23h1v1h-1zM26 23h1v1h-1zM31 23h1v1h-1zM37 23h1v1h-1zM40 23h1v1h-1zM19 24h3v1h-3zM24 24h1v1h-1zM27 24h1v1h-1zM30 24h1v1h-1zM22 25h1v1h-1zM26 25h1v1h-1zM37 25h1v1h-1zM47 25h1v1h-1zM3 26h1v1h-1zM11 27h1v1h-1zM49 27h1v1h-1zM51 27h1v1h-1zM12 28h1v1h-1zM24 28h1v1h-1zM40 28h1v1h-1zM51 28h1v1h-1zM15 29h1v1h-1zM18 29h1v1h-1zM24 29h1v1h-1zM30 29h1v1h-1zM34 29h1v1h-1zM36 29h1v1h-1zM12 30h1v1h-1zM15 30h1v1h-1zM22 30h1v1h-1zM24 30h1v1h-1zM26 30h1v1h-1zM35 30h1v1h-1zM50 30h2v1h-2zM22 31h1v1h-1zM28 31h1v1h-1zM32 31h1v1h-1zM5 32h1v1h-1zM21 32h1v1h-1zM23 32h1v1h-1zM30 32h1v1h-1zM33 32h1v1h-1zM45 32h3v1h-3zM50 32h1v1h-1zM2 33h1v1h-1zM11 33h1v1h-1zM38 33h1v1h-1zM41 33h1v1h-1zM44 33h1v1h-1zM49 33h1v1h-1zM62 33h1v1h-1zM13 34h1v1h-1zM17 34h1v1h-1zM29 34h1v1h-1zM43 34h1v1h-1zM9 35h2v1h-2zM20 35h1v1h-1zM23 35h1v1h-1zM28 35h1v1h-1zM42 35h1v1h-1zM46 35h1v1h-1zM20 36h1v1h-1zM24 36h1v1h-1zM28 36h1v1h-1zM43 36h1v1h-1zM47 36h1v1h-1zM5 37h1v1h-1zM10 37h1v1h-1zM23 37h1v1h-1zM40 37h1v1h-1zM42 37h1v1h-1zM44 37h1v1h-1zM50 37h1v1h-1zM1 38h1v1h-1zM11 38h1v1h-1zM43 38h1v1h-1zM49 38h1v1h-1zM54 38h1v1h-1zM9 39h1v1h-1zM37 39h1v1h-1zM42 39h1v1h-1zM8 40h1v1h-1zM25 40h1v1h-1zM30 40h1v1h-1zM40 40h2v1h-2zM9 41h1v1h-1zM11 41h1v1h-1zM15 41h1v1h-1zM68 41h1v1h-1zM3 42h3v1h-3zM27 42h1v1h-1zM31 42h1v1h-1zM3 43h1v1h-1zM11 43h1v1h-1zM26 43h1v1h-1zM33 43h1v1h-1zM35 43h1v1h-1zM42 43h1v1h-1zM45 43h1v1h-1zM8 44h3v1h-3zM39 44h1v1h-1zM23 45h1v1h-1zM28 45h1v1h-1zM21 46h1v1h-1zM23 46h1v1h-1zM11 47h1v1h-1zM15 47h1v1h-1zM23 47h2v1h-2zM37 47h1v1h-1zM43 47h1v1h-1zM7 48h2v1h-2zM24 48h1v1h-1zM31 48h1v1h-1zM42 48h1v1h-1zM45 48h1v1h-1zM56 48h1v1h-1zM5 49h1v1h-1zM14 49h1v1h-1zM23 49h1v1h-1zM27 49h1v1h-1zM39 49h2v1h-2zM43 49h2v1h-2zM48 49h1v1h-1zM55 49h1v1h-1zM2 50h1v1h-1zM12 50h1v1h-1zM17 50h1v1h-1zM29 50h1v1h-1zM31 50h1v1h-1zM37 50h1v1h-1zM39 50h1v1h-1zM37 51h1v1h-1zM1 52h1v1h-1zM7 52h1v1h-1zM18 52h1v1h-1zM20 52h1v1h-1zM26 52h1v1h-1zM36 52h1v1h-1zM39 52h1v1h-1zM5 53h1v1h-1zM8 53h1v1h-1zM11 53h1v1h-1zM15 53h1v1h-1zM17 53h1v1h-1zM31 53h2v1h-2zM51 53h1v1h-1zM10 54h1v1h-1zM13 54h1v1h-1zM31 54h1v1h-1zM36 54h1v1h-1zM39 54h1v1h-1zM3 55h1v1h-1zM18 55h1v1h-1zM23 55h2v1h-2zM31 55h1v1h-1zM3 56h1v1h-1zM20 56h1v1h-1zM30 56h1v1h-1zM40 56h1v1h-1zM48 56h1v1h-1zM9 57h1v1h-1zM22 58h1v1h-1zM38 58h1v1h-1zM32 59h1v1h-1zM45 59h1v1h-1zM5 60h1v1h-1zM15 60h1v1h-1zM36 60h1v1h-1zM47 60h1v1h-1zM7 61h1v1h-1zM38 61h2v1h-2zM4 62h1v1h-1zM13 62h1v1h-1zM15 62h1v1h-1zM23 62h1v1h-1zM26 62h1v1h-1zM43 62h1v1h-1zM18 63h1v1h-1zM23 63h1v1h-1zM39 63h1v1h-1zM48 63h1v1h-1zM60 63h1v1h-1zM9 64h1v1h-1zM19 64h1v1h-1zM34 64h1v1h-1zM6 65h1v1h-1zM21 65h1v1h-1zM26 65h1v1h-1zM28 65h1v1h-1zM45 65h1v1h-1zM53 65h1v1h-1zM10 66h1v1h-1zM31 66h1v1h-1zM36 66h1v1h-1zM17 68h2v1h-2zM31 68h1v1h-1zM37 68h1v1h-1zM39 68h1v1h-1zM45 68h1v1h-1zM6 69h1v1h-1zM8 69h1v1h-1zM17 69h1v1h-1zM31 69h1v1h-1zM2 70h1v1h-1zM33 70h1v1h-1zM38 70h1v1h-1zM8 71h2v1h-2zM13 71h1v1h-1zM19 71h1v1h-1zM41 71h1v1h-1zM51 71h1v1h-1zM11 72h1v1h-1zM24 72h1v1h-1zM52 72h1v1h-1zM8 73h2v1h-2zM12 73h1v1h-1zM39 73h1v1h-1zM13 74h1v1h-1zM22 74h1v1h-1zM51 74h1v1h-1zM5 75h1v1h-1zM23 75h1v1h-1zM32 75h1v1h-1zM46 75h1v1h-1zM29 76h1v1h-1zM18 77h2v1h-2zM57 77h1v1h-1zM57 78h1v1h-1zM34 79h1v1h-1zM49 79h1v1h-1zM41 80h1v1h-1zM20 86h1v1h-1zM31 86h1v1h-1zM29 88h1v1h-1zM9 89h1v1h-1zM16 89h1v1h-1z"/>
<path fill="#044468" d="M24 3h1v1h-1zM13 7h1v1h-1zM12 9h1v1h-1zM19 12h1v1h-1zM22 12h2v1h-2zM28 12h1v1h-1zM21 14h1v1h-1zM27 14h1v1h-1zM7 15h1v1h-1zM27 16h1v1h-1zM22 17h1v1h-1zM29 17h1v1h-1zM17 18h1v1h-1zM19 18h1v1h-1zM34 18h1v1h-1zM0 20h1v1h-1zM25 20h1v1h-1zM32 20h1v1h-1zM4 21h1v1h-1zM21 21h1v1h-1zM42 21h1v1h-1zM28 23h1v1h-1zM12 24h1v1h-1zM17 24h1v1h-1zM20 25h1v1h-1zM29 25h2v1h-2zM8 26h1v1h-1zM17 26h1v1h-1zM38 26h1v1h-1zM48 26h1v1h-1zM14 27h1v1h-1zM18 27h1v1h-1zM26 27h1v1h-1zM35 27h1v1h-1zM39 27h1v1h-1zM44 27h1v1h-1zM7 28h1v1h-1zM10 28h1v1h-1zM14 28h1v1h-1zM31 28h1v1h-1zM37 28h1v1h-1zM8 29h1v1h-1zM26 29h1v1h-1zM16 30h1v1h-1zM18 31h1v1h-1zM26 31h1v1h-1zM39 31h2v1h-2zM52 32h1v1h-1zM7 33h1v1h-1zM12 33h2v1h-2zM15 33h1v1h-1zM32 33h1v1h-1zM51 33h1v1h-1zM16 34h1v1h-1zM21 34h1v1h-1zM23 34h1v1h-1zM26 34h2v1h-2zM30 34h1v1h-1zM16 35h1v1h-1zM18 35h1v1h-1zM17 36h1v1h-1zM30 36h1v1h-1zM12 38h1v1h-1zM20 38h1v1h-1zM31 38h1v1h-1zM41 38h1v1h-1zM44 38h1v1h-1zM3 39h1v1h-1zM24 39h2v1h-2zM40 39h1v1h-1zM57 40h1v1h-1zM5 41h1v1h-1zM8 41h1v1h-1zM16 41h1v1h-1zM43 41h1v1h-1zM7 42h1v1h-1zM12 42h2v1h-2zM21 42h1v1h-1zM25 42h2v1h-2zM61 42h1v1h-1zM34 43h1v1h-1zM39 43h1v1h-1zM26 44h1v1h-1zM11 45h1v1h-1zM17 46h1v1h-1zM21 47h1v1h-1zM44 47h1v1h-1zM62 47h1v1h-1zM2 48h1v1h-1zM4 48h1v1h-1zM37 48h1v1h-1zM2 49h1v1h-1zM28 49h1v1h-1zM35 49h1v1h-1zM37 49h1v1h-1zM65 49h1v1h-1zM7 50h1v1h-1zM9 50h1v1h-1zM27 50h1v1h-1zM38 50h1v1h-1zM53 50h1v1h-1zM56 50h1v1h-1zM3 51h1v1h-1zM16 51h1v1h-1zM18 51h1v1h-1zM20 51h1v1h-1zM22 51h1v1h-1zM25 51h1v1h-1zM35 51h1v1h-1zM28 52h1v1h-1zM34 52h1v1h-1zM19 53h1v1h-1zM47 53h1v1h-1zM25 54h1v1h-1zM44 54h1v1h-1zM15 55h1v1h-1zM19 55h1v1h-1zM28 55h1v1h-1zM33 55h1v1h-1zM59 55h1v1h-1zM10 56h1v1h-1zM47 56h1v1h-1zM49 56h1v1h-1zM58 56h1v1h-1zM15 57h1v1h-1zM24 57h1v1h-1zM29 57h1v1h-1zM31 57h2v1h-2zM47 57h1v1h-1zM2 58h1v1h-1zM16 58h1v1h-1zM30 58h1v1h-1zM52 58h1v1h-1zM5 59h2v1h-2zM9 59h1v1h-1zM30 59h1v1h-1zM59 59h1v1h-1zM17 60h1v1h-1zM20 60h1v1h-1zM26 60h1v1h-1zM29 60h1v1h-1zM37 60h1v1h-1zM43 60h1v1h-1zM6 61h1v1h-1zM22 61h1v1h-1zM41 61h1v1h-1zM19 62h1v1h-1zM21 62h1v1h-1zM39 62h1v1h-1zM14 63h1v1h-1zM17 63h1v1h-1zM37 63h1v1h-1zM41 63h2v1h-2zM16 64h1v1h-1zM24 64h1v1h-1zM43 64h2v1h-2zM11 65h1v1h-1zM18 65h1v1h-1zM23 65h1v1h-1zM55 65h1v1h-1zM6 66h1v1h-1zM12 66h1v1h-1zM14 66h1v1h-1zM17 66h1v1h-1zM24 67h1v1h-1zM27 67h2v1h-2zM39 67h1v1h-1zM48 67h1v1h-1zM1 68h1v1h-1zM9 68h1v1h-1zM12 68h1v1h-1zM25 68h1v1h-1zM34 68h1v1h-1zM2 69h1v1h-1zM22 69h1v1h-1zM30 69h1v1h-1zM55 69h1v1h-1zM13 70h1v1h-1zM21 71h1v1h-1zM43 71h1v1h-1zM25 72h1v1h-1zM1 73h1v1h-1zM10 73h1v1h-1zM19 73h1v1h-1zM28 74h1v1h-1zM37 74h1v1h-1zM15 75h1v1h-1zM63 75h1v1h-1zM28 76h1v1h-1zM52 76h1v1h-1zM10 78h1v1h-1zM14 78h1v1h-1zM45 80h1v1h-1zM4 81h1v1h-1zM9 81h1v1h-1zM8 82h1v1h-1zM40 82h1v1h-1zM14 83h1v1h-1zM41 83h1v1h-1zM14 86h1v1h-1zM19 86h1v1h-1zM45 86h1v1h-1zM25 87h1v1h-1zM35 88h1v1h-1zM41 91h1v1h-1z"/>
<path fill="#054764" d="M8 1h1v1h-1zM44 2h1v1h-1zM25 4h1v1h-1zM21 7h1v1h-1zM32 7h1v1h-1zM1 9h1v1h-1zM3 9h1v1h-1zM8 11h1v1h-1zM21 11h1v1h-1zM19 15h1v1h-1zM9 16h1v1h-1zM29 16h1v1h-1zM12 17h1v1h-1zM23 17h1v1h-1zM28 17h1v1h-1zM39 17h1v1h-1zM17 19h1v1h-1zM64 19h1v1h-1zM13 20h1v1h-1zM33 20h1v1h-1zM7 21h1v1h-1zM7 22h1v1h-1zM9 22h1v1h-1zM13 22h1v1h-1zM4 23h1v1h-1zM9 23h2v1h-2zM23 23h2v1h-2zM25 24h1v1h-1zM40 24h1v1h-1zM45 24h1v1h-1zM18 25h1v1h-1zM4 26h1v1h-1zM12 26h1v1h-1zM16 26h1v1h-1zM42 26h1v1h-1zM12 27h1v1h-1zM15 27h1v1h-1zM25 27h1v1h-1zM28 27h1v1h-1zM30 27h1v1h-1zM36 27h1v1h-1zM47 27h1v1h-1zM3 28h1v1h-1zM43 28h1v1h-1zM13 29h1v1h-1zM17 29h1v1h-1zM35 29h1v1h-1zM43 29h1v1h-1zM43 30h1v1h-1zM46 30h1v1h-1zM6 31h1v1h-1zM10 31h1v1h-1zM9 32h1v1h-1zM14 32h1v1h-1zM20 32h1v1h-1zM51 32h1v1h-1zM5 33h1v1h-1zM53 33h1v1h-1zM4 34h1v1h-1zM11 34h1v1h-1zM40 34h1v1h-1zM26 35h1v1h-1zM32 35h1v1h-1zM39 35h1v1h-1zM44 35h1v1h-1zM6 36h1v1h-1zM22 36h1v1h-1zM7 37h1v1h-1zM12 37h1v1h-1zM21 37h1v1h-1zM34 37h1v1h-1zM60 37h1v1h-1zM30 38h1v1h-1zM47 39h1v1h-1zM5 40h1v1h-1zM7 40h1v1h-1zM3 41h1v1h-1zM6 41h1v1h-1zM37 42h1v1h-1zM21 43h1v1h-1zM50 43h1v1h-1zM0 44h1v1h-1zM15 44h1v1h-1zM33 44h1v1h-1zM5 45h1v1h-1zM42 45h1v1h-1zM63 45h1v1h-1zM35 46h1v1h-1zM39 46h1v1h-1zM45 46h1v1h-1zM61 47h1v1h-1zM15 49h1v1h-1zM3 50h1v1h-1zM20 50h2v1h-2zM23 50h1v1h-1zM30 50h1v1h-1zM40 50h1v1h-1zM9 51h1v1h-1zM45 51h2v1h-2zM56 51h1v1h-1zM4 52h1v1h-1zM47 52h1v1h-1zM6 53h1v1h-1zM28 53h3v1h-3zM8 54h1v1h-1zM20 54h1v1h-1zM46 54h2v1h-2zM12 55h1v1h-1zM20 55h1v1h-1zM30 55h1v1h-1zM44 55h1v1h-1zM46 56h1v1h-1zM82 56h1v1h-1zM50 57h1v1h-1zM54 57h1v1h-1zM5 58h1v1h-1zM9 58h1v1h-1zM11 58h1v1h-1zM13 58h1v1h-1zM34 58h1v1h-1zM36 58h1v1h-1zM37 59h1v1h-1zM39 59h1v1h-1zM25 60h1v1h-1zM51 60h2v1h-2zM9 61h1v1h-1zM42 61h1v1h-1zM27 62h1v1h-1zM56 62h1v1h-1zM5 63h1v1h-1zM8 63h1v1h-1zM44 63h1v1h-1zM23 64h1v1h-1zM29 64h1v1h-1zM41 64h1v1h-1zM22 65h1v1h-1zM33 65h1v1h-1zM36 65h1v1h-1zM15 66h1v1h-1zM53 66h1v1h-1zM61 66h1v1h-1zM10 67h1v1h-1zM30 67h1v1h-1zM40 67h1v1h-1zM6 68h1v1h-1zM21 68h1v1h-1zM30 68h1v1h-1zM11 69h1v1h-1zM26 70h1v1h-1zM35 70h1v1h-1zM42 70h1v1h-1zM6 71h1v1h-1zM16 71h1v1h-1zM25 71h1v1h-1zM4 72h1v1h-1zM13 72h1v1h-1zM14 73h1v1h-1zM8 74h1v1h-1zM23 74h1v1h-1zM13 75h1v1h-1zM16 75h1v1h-1zM31 75h1v1h-1zM49 75h1v1h-1zM61 75h1v1h-1zM13 76h1v1h-1zM23 76h1v1h-1zM50 76h1v1h-1zM33 77h1v1h-1zM22 78h1v1h-1zM22 79h1v1h-1zM44 79h1v1h-1zM12 80h1v1h-1zM21 80h1v1h-1zM4 82h1v1h-1zM19 82h1v1h-1zM41 82h1v1h-1zM16 83h1v1h-1zM24 83h2v1h-2zM19 84h1v1h-1zM36 87h1v1h-1zM28 88h1v1h-1z"/>
<path fill="#074a61" d="M13 8h1v1h-1zM5 9h1v1h-1zM11 9h1v1h-1zM32 10h1v1h-1zM15 11h1v1h-1zM11 12h1v1h-1zM6 13h1v1h-1zM27 13h1v1h-1zM2 14h1v1h-1zM18 14h1v1h-1zM36 14h1v1h-1zM28 15h1v1h-1zM11 16h1v1h-1zM7 17h1v1h-1zM27 17h1v1h-1zM45 17h1v1h-1zM0 18h1v1h-1zM9 18h1v1h-1zM31 18h1v1h-1zM42 18h1v1h-1zM9 19h1v1h-1zM11 19h2v1h-2zM2 21h1v1h-1zM13 21h1v1h-1zM19 21h2v1h-2zM23 21h1v1h-1zM25 22h1v1h-1zM29 23h2v1h-2zM32 23h1v1h-1zM21 25h1v1h-1zM15 26h1v1h-1zM19 26h1v1h-1zM52 26h1v1h-1zM16 27h1v1h-1zM9 28h1v1h-1zM25 28h1v1h-1zM35 28h2v1h-2zM41 28h1v1h-1zM50 28h1v1h-1zM32 29h1v1h-1zM2 30h1v1h-1zM10 30h1v1h-1zM30 30h1v1h-1zM9 31h1v1h-1zM30 31h1v1h-1zM34 31h2v1h-2zM0 32h1v1h-1zM18 32h1v1h-1zM31 32h1v1h-1zM34 32h1v1h-1zM36 32h1v1h-1zM31 33h1v1h-1zM48 33h1v1h-1zM4 35h1v1h-1zM29 35h2v1h-2zM33 36h1v1h-1zM35 36h1v1h-1zM2 37h1v1h-1zM14 37h1v1h-1zM32 37h1v1h-1zM32 38h1v1h-1zM44 39h1v1h-1zM1 40h1v1h-1zM63 40h1v1h-1zM32 41h1v1h-1zM34 41h1v1h-1zM41 44h1v1h-1zM49 45h1v1h-1zM59 45h1v1h-1zM2 46h2v1h-2zM15 46h1v1h-1zM17 47h1v1h-1zM19 49h1v1h-1zM34 50h1v1h-1zM36 51h1v1h-1zM22 52h1v1h-1zM33 52h1v1h-1zM40 52h1v1h-1zM4 53h1v1h-1zM2 54h1v1h-1zM7 54h1v1h-1zM23 54h1v1h-1zM21 55h1v1h-1zM34 55h1v1h-1zM38 55h1v1h-1zM1 56h1v1h-1zM34 56h1v1h-1zM13 57h1v1h-1zM15 58h1v1h-1zM42 58h1v1h-1zM48 58h1v1h-1zM12 59h1v1h-1zM19 59h1v1h-1zM9 60h1v1h-1zM11 60h1v1h-1zM19 60h1v1h-1zM39 60h1v1h-1zM44 60h1v1h-1zM1 61h1v1h-1zM14 61h1v1h-1zM12 62h1v1h-1zM16 62h1v1h-1zM25 62h1v1h-1zM33 62h1v1h-1zM51 62h1v1h-1zM7 64h1v1h-1zM38 64h1v1h-1zM15 65h1v1h-1zM32 65h1v1h-1zM42 65h1v1h-1zM44 65h1v1h-1zM16 66h1v1h-1zM20 66h1v1h-1zM22 66h1v1h-1zM34 66h1v1h-1zM17 67h1v1h-1zM45 67h1v1h-1zM14 68h1v1h-1zM29 68h1v1h-1zM42 68h1v1h-1zM29 69h1v1h-1zM44 69h1v1h-1zM30 71h1v1h-1zM21 72h1v1h-1zM27 72h1v1h-1zM43 72h1v1h-1zM45 72h1v1h-1zM30 73h1v1h-1zM21 74h1v1h-1zM31 74h1v1h-1zM34 74h1v1h-1zM52 74h1v1h-1zM21 75h1v1h-1zM33 76h1v1h-1zM51 76h1v1h-1zM64 76h1v1h-1zM4 77h1v1h-1zM8 77h1v1h-1zM38 77h1v1h-1zM5 78h1v1h-1zM24 78h1v1h-1zM33 78h1v1h-1zM17 79h1v1h-1zM24 79h1v1h-1zM32 79h1v1h-1zM15 81h1v1h-1zM20 82h1v1h-1zM21 84h1v1h-1zM32 84h1v1h-1zM4 85h1v1h-1zM17 87h1v1h-1zM45 87h1v1h-1zM13 88h1v1h-1zM46 90h1v1h-1zM15 93h1v1h-1zM17 98h1v1h-1z"/>
<path fill="#084e5e" d="M2 8h1v1h-1zM25 8h1v1h-1zM21 9h1v1h-1zM12 11h1v1h-1zM51 12h1v1h-1zM1 13h1v1h-1zM8 13h1v1h-1zM12 13h1v1h-1zM15 13h1v1h-1zM17 13h1v1h-1zM30 14h1v1h-1zM33 15h1v1h-1zM3 16h1v1h-1zM24 16h1v1h-1zM32 17h1v1h-1zM11 18h1v1h-1zM16 18h1v1h-1zM20 18h1v1h-1zM33 18h1v1h-1zM20 19h1v1h-1zM43 19h1v1h-1zM16 21h1v1h-1zM24 21h1v1h-1zM47 21h1v1h-1zM27 22h1v1h-1zM32 22h1v1h-1zM48 22h1v1h-1zM15 23h1v1h-1zM22 23h1v1h-1zM5 24h1v1h-1zM14 24h1v1h-1zM36 24h1v1h-1zM42 24h1v1h-1zM56 24h1v1h-1zM12 25h1v1h-1zM34 25h1v1h-1zM35 26h1v1h-1zM50 26h1v1h-1zM21 27h1v1h-1zM17 28h1v1h-1zM26 28h1v1h-1zM29 28h1v1h-1zM48 28h1v1h-1zM17 30h1v1h-1zM20 30h1v1h-1zM23 30h1v1h-1zM33 30h1v1h-1zM41 30h1v1h-1zM57 31h1v1h-1zM37 32h1v1h-1zM44 32h1v1h-1zM1 34h1v1h-1zM47 35h1v1h-1zM23 39h1v1h-1zM41 39h1v1h-1zM54 39h1v1h-1zM19 44h1v1h-1zM15 45h1v1h-1zM38 45h1v1h-1zM42 46h1v1h-1zM13 47h1v1h-1zM50 47h1v1h-1zM22 49h1v1h-1zM25 49h1v1h-1zM50 49h1v1h-1zM4 50h1v1h-1zM24 50h1v1h-1zM70 50h1v1h-1zM43 51h1v1h-1zM47 51h1v1h-1zM12 52h1v1h-1zM23 52h1v1h-1zM42 52h1v1h-1zM18 53h1v1h-1zM5 54h2v1h-2zM18 54h1v1h-1zM28 54h1v1h-1zM42 54h1v1h-1zM51 54h1v1h-1zM6 55h1v1h-1zM39 55h1v1h-1zM46 55h1v1h-1zM5 57h1v1h-1zM52 57h1v1h-1zM20 59h1v1h-1zM54 59h1v1h-1zM6 60h1v1h-1zM8 60h1v1h-1zM41 60h1v1h-1zM76 60h1v1h-1zM5 61h1v1h-1zM12 61h1v1h-1zM16 61h1v1h-1zM7 62h1v1h-1zM42 62h1v1h-1zM62 62h1v1h-1zM4 63h1v1h-1zM10 63h1v1h-1zM4 64h1v1h-1zM31 64h1v1h-1zM35 65h1v1h-1zM40 65h1v1h-1zM1 66h1v1h-1zM11 66h1v1h-1zM27 66h1v1h-1zM3 67h1v1h-1zM5 67h1v1h-1zM11 67h1v1h-1zM14 67h1v1h-1zM21 67h1v1h-1zM16 68h1v1h-1zM26 69h1v1h-1zM49 69h1v1h-1zM29 70h1v1h-1zM40 70h2v1h-2zM49 70h1v1h-1zM60 70h1v1h-1zM10 71h1v1h-1zM17 71h1v1h-1zM36 71h1v1h-1zM49 71h2v1h-2zM54 71h1v1h-1zM12 72h1v1h-1zM15 73h1v1h-1zM17 73h1v1h-1zM25 73h1v1h-1zM27 73h1v1h-1zM29 73h1v1h-1zM44 73h1v1h-1zM18 74h1v1h-1zM46 74h1v1h-1zM34 75h1v1h-1zM40 75h1v1h-1zM43 75h1v1h-1zM24 76h1v1h-1zM14 77h1v1h-1zM49 78h1v1h-1zM4 79h1v1h-1zM7 80h1v1h-1zM11 80h1v1h-1zM30 80h1v1h-1zM19 83h1v1h-1zM6 84h1v1h-1zM15 84h1v1h-1zM34 85h1v1h-1zM27 88h1v1h-1zM14 90h1v1h-1zM33 90h1v1h-1zM16 92h1v1h-1z"/>
<path fill="#09515a" d="M34 3h1v1h-1zM8 6h1v1h-1zM14 7h1v1h-1zM22 7h1v1h-1zM18 8h1v1h-1zM21 10h1v1h-1zM34 11h1v1h-1zM26 12h1v1h-1zM24 14h1v1h-1zM25 16h1v1h-1zM10 17h1v1h-1zM18 17h1v1h-1zM35 17h1v1h-1zM39 18h1v1h-1zM15 19h1v1h-1zM36 20h1v1h-1zM49 20h1v1h-1zM26 21h1v1h-1zM7 23h1v1h-1zM3 24h1v1h-1zM28 25h1v1h-1zM48 25h1v1h-1zM9 26h1v1h-1zM13 26h1v1h-1zM21 26h1v1h-1zM10 27h1v1h-1zM42 27h1v1h-1zM38 28h1v1h-1zM10 29h1v1h-1zM16 29h1v1h-1zM56 29h1v1h-1zM14 30h1v1h-1zM44 30h1v1h-1zM48 30h1v1h-1zM14 31h1v1h-1zM49 31h1v1h-1zM51 31h3v1h-3zM3 32h1v1h-1zM46 33h1v1h-1zM32 34h1v1h-1zM42 34h1v1h-1zM45 34h1v1h-1zM53 34h1v1h-1zM57 35h1v1h-1zM4 36h1v1h-1zM34 36h1v1h-1zM46 36h1v1h-1zM32 39h1v1h-1zM40 41h1v1h-1zM1 43h1v1h-1zM12 45h1v1h-1zM46 46h1v1h-1zM31 47h1v1h-1zM1 49h1v1h-1zM41 50h1v1h-1zM7 51h1v1h-1zM29 52h1v1h-1zM9 53h1v1h-1zM40 54h1v1h-1zM3 58h1v1h-1zM27 58h1v1h-1zM40 58h1v1h-1zM26 59h1v1h-1zM24 61h1v1h-1zM31 61h1v1h-1zM36 61h1v1h-1zM44 61h1v1h-1zM48 61h1v1h-1zM24 62h1v1h-1zM38 62h1v1h-1zM33 63h1v1h-1zM71 63h1v1h-1zM6 64h1v1h-1zM10 64h1v1h-1zM26 64h1v1h-1zM36 64h1v1h-1zM17 65h1v1h-1zM7 66h1v1h-1zM13 67h1v1h-1zM5 69h1v1h-1zM12 69h1v1h-1zM33 69h1v1h-1zM40 69h1v1h-1zM7 70h1v1h-1zM34 70h1v1h-1zM57 70h1v1h-1zM37 71h1v1h-1zM14 72h1v1h-1zM32 73h1v1h-1zM32 74h1v1h-1zM7 75h1v1h-1zM37 75h1v1h-1zM42 75h1v1h-1zM41 76h1v1h-1zM47 76h1v1h-1zM30 77h1v1h-1zM17 80h1v1h-1zM12 81h1v1h-1zM50 81h1v1h-1zM18 82h1v1h-1zM5 86h1v1h-1zM23 87h1v1h-1zM26 87h1v1h-1zM35 90h1v1h-1z"/>
<path fill="#0b5557" d="M20 4h1v1h-1zM33 7h1v1h-1zM17 12h1v1h-1zM3 15h1v1h-1zM12 15h1v1h-1zM20 15h1v1h-1zM38 16h1v1h-1zM25 17h1v1h-1zM13 18h1v1h-1zM14 19h1v1h-1zM34 19h1v1h-1zM6 20h1v1h-1zM18 20h1v1h-1zM31 20h1v1h-1zM22 21h1v1h-1zM44 21h1v1h-1zM46 21h1v1h-1zM14 22h1v1h-1zM11 23h2v1h-2zM35 23h1v1h-1zM55 23h1v1h-1zM4 24h1v1h-1zM9 24h1v1h-1zM11 24h1v1h-1zM23 24h1v1h-1zM13 25h1v1h-1zM24 25h1v1h-1zM31 25h1v1h-1zM4 27h1v1h-1zM45 27h1v1h-1zM68 35h1v1h-1zM66 43h1v1h-1zM76 43h1v1h-1zM1 50h1v1h-1zM47 55h1v1h-1zM13 59h1v1h-1zM40 60h1v1h-1zM71 61h1v1h-1zM28 62h1v1h-1zM50 62h1v1h-1zM12 63h1v1h-1zM13 64h1v1h-1zM2 65h1v1h-1zM25 65h1v1h-1zM29 66h1v1h-1zM37 66h1v1h-1zM1 67h1v1h-1zM10 68h1v1h-1zM24 68h1v1h-1zM32 68h1v1h-1zM27 69h1v1h-1zM27 70h1v1h-1zM40 71h1v1h-1zM42 72h1v1h-1zM4 73h1v1h-1zM13 73h1v1h-1zM19 74h1v1h-1zM12 76h1v1h-1zM11 77h1v1h-1zM21 77h1v1h-1zM28 77h1v1h-1zM35 78h1v1h-1zM18 79h1v1h-1zM25 79h1v1h-1zM35 79h1v1h-1zM35 82h1v1h-1zM10 85h1v1h-1zM23 85h1v1h-1zM26 88h1v1h-1zM14 91h1v1h-1z"/>
<path fill="#0c5854" d="M37 3h1v1h-1zM28 8h1v1h-1zM11 10h1v1h-1zM28 11h1v1h-1zM30 13h1v1h-1zM9 14h1v1h-1zM29 15h1v1h-1zM34 15h1v1h-1zM22 16h1v1h-1zM34 16h2v1h-2zM40 17h1v1h-1zM21 20h1v1h-1zM8 21h1v1h-1zM34 21h1v1h-1zM12 22h1v1h-1zM30 22h1v1h-1zM42 23h1v1h-1zM34 24h1v1h-1zM41 24h1v1h-1zM6 25h1v1h-1zM39 26h1v1h-1zM1 27h1v1h-1zM56 27h1v1h-1zM13 28h1v1h-1zM38 31h1v1h-1zM51 36h1v1h-1zM66 36h1v1h-1zM12 49h1v1h-1zM44 53h1v1h-1zM2 56h1v1h-1zM44 56h1v1h-1zM33 58h1v1h-1zM27 60h1v1h-1zM61 60h1v1h-1zM9 65h1v1h-1zM33 66h1v1h-1zM33 67h1v1h-1zM43 67h1v1h-1zM47 67h1v1h-1zM11 68h1v1h-1zM43 68h1v1h-1zM16 69h1v1h-1zM39 69h1v1h-1zM60 69h1v1h-1zM53 70h1v1h-1zM44 71h1v1h-1zM7 72h1v1h-1zM23 72h1v1h-1zM7 73h1v1h-1zM5 74h1v1h-1zM12 74h1v1h-1zM25 74h2v1h-2zM18 75h1v1h-1zM30 75h1v1h-1zM22 76h1v1h-1zM27 76h1v1h-1zM10 77h1v1h-1zM24 77h1v1h-1zM62 78h1v1h-1zM27 79h1v1h-1zM13 80h1v1h-1zM26 81h1v1h-1zM2 82h1v1h-1zM24 82h1v1h-1zM12 85h1v1h-1zM6 86h1v1h-1zM17 88h1v1h-1zM41 88h1v1h-1z"/>
<path fill="#0e5b50" d="M19 7h1v1h-1zM24 10h1v1h-1zM7 11h1v1h-1zM20 12h1v1h-1zM25 12h1v1h-1zM35 12h1v1h-1zM14 13h1v1h-1zM22 13h1v1h-1zM12 14h1v1h-1zM31 15h1v1h-1zM12 16h1v1h-1zM40 16h1v1h-1zM49 16h1v1h-1zM13 19h1v1h-1zM35 20h1v1h-1zM15 21h1v1h-1zM18 21h1v1h-1zM36 21h1v1h-1zM22 22h1v1h-1zM2 23h1v1h-1zM6 23h1v1h-1zM41 23h1v1h-1zM7 24h1v1h-1zM46 24h1v1h-1zM37 26h1v1h-1zM55 26h1v1h-1zM6 28h1v1h-1zM6 32h1v1h-1zM56 39h1v1h-1zM6 40h1v1h-1zM0 42h1v1h-1zM0 45h1v1h-1zM1 60h1v1h-1zM1 62h1v1h-1zM35 62h1v1h-1zM40 63h1v1h-1zM30 64h1v1h-1zM39 65h1v1h-1zM54 65h1v1h-1zM44 66h1v1h-1zM16 67h1v1h-1zM42 67h1v1h-1zM15 69h1v1h-1zM18 69h1v1h-1zM25 69h1v1h-1zM50 69h1v1h-1zM6 70h1v1h-1zM43 70h1v1h-1zM47 70h1v1h-1zM14 71h1v1h-1zM46 71h1v1h-1zM58 72h1v1h-1zM35 73h1v1h-1zM40 73h1v1h-1zM52 78h1v1h-1zM7 79h1v1h-1zM28 80h1v1h-1zM28 83h1v1h-1zM33 87h1v1h-1zM9 90h1v1h-1zM30 90h1v1h-1zM25 92h1v1h-1z"/>
<path fill="#0f5f4d" d="M28 6h1v1h-1zM37 7h1v1h-1zM6 8h1v1h-1zM28 9h1v1h-1zM10 11h1v1h-1zM20 11h1v1h-1zM36 11h1v1h-1zM6 12h1v1h-1zM24 12h1v1h-1zM13 13h1v1h-1zM33 13h1v1h-1zM36 15h1v1h-1zM10 16h1v1h-1zM18 18h1v1h-1zM30 18h1v1h-1zM38 18h1v1h-1zM53 18h1v1h-1zM31 19h1v1h-1zM35 19h1v1h-1zM38 20h2v1h-2zM40 27h1v1h-1zM51 29h1v1h-1zM47 30h1v1h-1zM38 32h1v1h-1zM56 40h1v1h-1zM41 41h1v1h-1zM0 46h1v1h-1zM4 58h1v1h-1zM43 58h1v1h-1zM59 58h1v1h-1zM46 61h1v1h-1zM39 64h1v1h-1zM4 65h1v1h-1zM20 65h1v1h-1zM8 66h1v1h-1zM18 67h1v1h-1zM8 68h1v1h-1zM23 70h1v1h-1zM25 70h1v1h-1zM4 71h1v1h-1zM22 71h1v1h-1zM31 71h1v1h-1zM34 71h1v1h-1zM32 72h1v1h-1zM38 72h1v1h-1zM45 73h1v1h-1zM4 74h1v1h-1zM6 75h1v1h-1zM11 75h1v1h-1zM16 76h1v1h-1zM32 76h1v1h-1zM9 77h1v1h-1zM22 77h2v1h-2zM44 77h1v1h-1zM36 78h1v1h-1zM47 78h1v1h-1zM36 79h1v1h-1zM10 80h1v1h-1zM39 80h1v1h-1zM9 82h1v1h-1zM23 82h1v1h-1zM27 85h1v1h-1zM36 88h1v1h-1zM31 90h1v1h-1z"/>
<path fill="#11624a" d="M17 1h1v1h-1zM47 3h1v1h-1zM23 4h1v1h-1zM7 10h1v1h-1zM9 10h1v1h-1zM32 11h1v1h-1zM45 12h1v1h-1zM24 13h1v1h-1zM36 13h1v1h-1zM50 13h1v1h-1zM17 15h1v1h-1zM21 16h1v1h-1zM1 17h1v1h-1zM15 17h1v1h-1zM21 19h1v1h-1zM36 19h1v1h-1zM46 19h1v1h-1zM54 20h1v1h-1zM18 22h2v1h-2zM14 25h1v1h-1zM1 29h1v1h-1zM60 29h1v1h-1zM56 33h1v1h-1zM2 45h1v1h-1zM7 55h1v1h-1zM3 60h1v1h-1zM5 62h1v1h-1zM24 63h1v1h-1zM47 64h1v1h-1zM18 66h1v1h-1zM46 66h1v1h-1zM23 67h1v1h-1zM36 68h1v1h-1zM14 69h1v1h-1zM1 70h1v1h-1zM9 70h1v1h-1zM44 70h1v1h-1zM1 71h1v1h-1zM11 71h1v1h-1zM18 71h1v1h-1zM23 71h1v1h-1zM24 74h1v1h-1zM45 74h1v1h-1zM53 74h1v1h-1zM25 75h1v1h-1zM27 75h1v1h-1zM8 76h1v1h-1zM20 76h1v1h-1zM6 77h1v1h-1zM26 77h1v1h-1zM20 78h2v1h-2zM40 79h1v1h-1zM16 80h1v1h-1zM19 80h1v1h-1zM22 80h1v1h-1zM24 80h1v1h-1zM27 80h1v1h-1zM35 80h1v1h-1zM20 81h1v1h-1zM16 82h1v1h-1zM34 84h1v1h-1zM39 84h1v1h-1zM4 86h1v1h-1zM13 86h1v1h-1zM15 87h1v1h-1zM34 89h1v1h-1zM8 91h1v1h-1z"/>
<path fill="#126647" d="M36 4h1v1h-1zM30 7h1v1h-1zM25 10h1v1h-1zM27 10h1v1h-1zM38 11h1v1h-1zM29 12h1v1h-1zM19 13h1v1h-1zM45 13h1v1h-1zM56 13h1v1h-1zM29 14h1v1h-1zM14 16h1v1h-1zM48 16h1v1h-1zM1 18h1v1h-1zM12 18h1v1h-1zM48 19h1v1h-1zM23 20h1v1h-1zM29 20h1v1h-1zM1 30h1v1h-1zM41 34h1v1h-1zM58 46h1v1h-1zM3 64h1v1h-1zM2 67h1v1h-1zM46 67h1v1h-1zM4 68h1v1h-1zM23 68h1v1h-1zM46 68h1v1h-1zM8 70h1v1h-1zM15 70h2v1h-2zM51 72h1v1h-1zM18 73h1v1h-1zM14 74h2v1h-2zM40 74h1v1h-1zM20 75h1v1h-1zM44 75h1v1h-1zM11 79h1v1h-1zM42 79h1v1h-1zM25 81h1v1h-1zM29 81h1v1h-1zM57 81h1v1h-1zM7 84h1v1h-1zM14 84h1v1h-1zM44 85h1v1h-1zM9 88h1v1h-1zM13 90h1v1h-1zM6 91h1v1h-1zM31 93h1v1h-1z"/>
<path fill="#146943" d="M14 5h1v1h-1zM8 7h1v1h-1zM30 11h1v1h-1zM10 12h1v1h-1zM6 14h1v1h-1zM22 15h1v1h-1zM16 16h1v1h-1zM37 17h1v1h-1zM43 17h1v1h-1zM4 18h1v1h-1zM22 18h1v1h-1zM0 19h1v1h-1zM19 19h1v1h-1zM2 25h1v1h-1zM3 65h1v1h-1zM44 68h1v1h-1zM10 70h1v1h-1zM39 72h1v1h-1zM20 74h1v1h-1zM14 76h1v1h-1zM16 77h1v1h-1zM29 77h1v1h-1zM51 78h1v1h-1zM14 79h1v1h-1zM9 80h1v1h-1zM27 81h1v1h-1zM12 82h1v1h-1zM31 82h1v1h-1zM34 82h1v1h-1zM20 84h1v1h-1zM48 84h1v1h-1zM8 85h1v1h-1zM18 89h1v1h-1zM29 89h1v1h-1z"/>
<path fill="#156c40" d="M12 1h1v1h-1zM13 6h1v1h-1zM25 7h1v1h-1zM10 9h1v1h-1zM31 9h1v1h-1zM38 9h1v1h-1zM1 10h1v1h-1zM26 11h1v1h-1zM37 11h1v1h-1zM48 12h1v1h-1zM5 13h1v1h-1zM10 13h2v1h-2zM26 13h1v1h-1zM17 14h1v1h-1zM18 16h1v1h-1zM21 17h1v1h-1zM48 18h1v1h-1zM7 20h1v1h-1zM17 21h1v1h-1zM31 22h1v1h-1zM55 22h1v1h-1zM27 27h1v1h-1zM34 27h1v1h-1zM63 34h1v1h-1zM53 47h1v1h-1zM55 66h1v1h-1zM21 70h1v1h-1zM39 70h1v1h-1zM36 72h1v1h-1zM30 74h1v1h-1zM3 75h1v1h-1zM31 76h1v1h-1zM25 78h1v1h-1zM37 78h1v1h-1zM26 79h1v1h-1zM39 79h1v1h-1zM8 81h1v1h-1zM45 81h1v1h-1zM0 82h1v1h-1zM17 82h1v1h-1zM36 83h1v1h-1zM29 85h1v1h-1z"/>
<path fill="#16703d" d="M31 6h1v1h-1zM0 8h1v1h-1zM33 8h1v1h-1zM5 11h1v1h-1zM11 11h1v1h-1zM13 12h1v1h-1zM33 12h1v1h-1zM41 12h1v1h-1zM32 14h1v1h-1zM44 15h1v1h-1zM5 16h1v1h-1zM30 16h1v1h-1zM40 20h1v1h-1zM37 24h1v1h-1zM46 58h1v1h-1zM58 65h1v1h-1zM5 66h1v1h-1zM72 67h1v1h-1zM15 72h1v1h-1zM6 73h1v1h-1zM2 75h1v1h-1zM10 75h1v1h-1zM39 77h1v1h-1zM41 77h1v1h-1zM27 82h1v1h-1zM27 83h1v1h-1zM47 83h1v1h-1zM20 85h1v1h-1zM44 88h1v1h-1z"/>
<path fill="#187339" d="M20 1h1v1h-1zM33 2h1v1h-1zM12 3h1v1h-1zM14 3h1v1h-1zM32 5h1v1h-1zM31 7h1v1h-1zM46 8h1v1h-1zM31 13h1v1h-1zM20 14h1v1h-1zM40 30h1v1h-1zM0 35h1v1h-1zM1 37h1v1h-1zM57 54h1v1h-1zM0 60h1v1h-1zM35 67h1v1h-1zM2 68h1v1h-1zM3 70h1v1h-1zM14 70h1v1h-1zM49 73h1v1h-1zM6 76h1v1h-1zM42 76h1v1h-1zM13 81h1v1h-1zM32 81h1v1h-1zM35 81h1v1h-1zM38 82h1v1h-1zM18 83h1v1h-1zM32 83h2v1h-2zM35 83h1v1h-1zM27 87h1v1h-1zM35 87h1v1h-1zM19 89h1v1h-1z"/>
<path fill="#197736" d="M46 3h1v1h-1zM2 4h1v1h-1zM13 4h1v1h-1zM22 8h1v1h-1zM27 12h1v1h-1zM43 13h1v1h-1zM26 14h1v1h-1zM41 15h1v1h-1zM26 18h1v1h-1zM61 65h1v1h-1zM38 71h1v1h-1zM35 72h1v1h-1zM55 72h1v1h-1zM7 77h1v1h-1zM13 78h1v1h-1zM26 78h1v1h-1zM13 79h1v1h-1zM3 80h1v1h-1zM18 80h1v1h-1zM3 81h1v1h-1zM11 81h1v1h-1zM42 82h1v1h-1zM30 83h1v1h-1zM31 85h1v1h-1z"/>
<path fill="#1b7a33" d="M28 2h1v1h-1zM24 4h1v1h-1zM4 11h1v1h-1zM0 12h1v1h-1zM45 18h1v1h-1zM45 20h1v1h-1zM36 26h1v1h-1zM66 37h1v1h-1zM57 50h1v1h-1zM70 51h1v1h-1zM63 70h1v1h-1zM2 74h1v1h-1zM26 76h1v1h-1zM17 81h1v1h-1zM22 81h1v1h-1zM11 88h1v1h-1zM34 88h1v1h-1z"/>
<path fill="#1c7d2f" d="M22 4h1v1h-1zM31 4h1v1h-1zM30 6h1v1h-1zM8 9h1v1h-1zM16 15h1v1h-1zM26 15h1v1h-1zM2 17h1v1h-1zM14 17h1v1h-1zM51 22h1v1h-1zM33 23h1v1h-1zM55 31h1v1h-1zM0 70h1v1h-1zM11 74h1v1h-1zM35 75h1v1h-1zM15 76h1v1h-1zM1 78h1v1h-1zM19 78h1v1h-1zM20 80h1v1h-1zM36 82h1v1h-1zM39 85h1v1h-1zM28 86h1v1h-1zM39 86h1v1h-1zM13 87h1v1h-1zM28 87h1v1h-1z"/>
<path fill="#1e812c" d="M23 8h1v1h-1zM26 9h1v1h-1zM3 10h1v1h-1zM35 11h1v1h-1zM4 12h1v1h-1zM32 13h1v1h-1zM10 15h1v1h-1zM6 16h1v1h-1zM46 16h1v1h-1zM27 20h1v1h-1zM49 21h1v1h-1zM50 24h1v1h-1zM58 26h1v1h-1zM56 28h1v1h-1zM0 43h1v1h-1zM1 55h1v1h-1zM5 64h1v1h-1zM52 67h1v1h-1zM40 72h1v1h-1zM54 74h1v1h-1zM36 76h1v1h-1zM1 80h1v1h-1zM51 80h1v1h-1zM29 83h1v1h-1zM46 83h1v1h-1zM23 84h1v1h-1zM26 86h1v1h-1zM40 88h1v1h-1z"/>
<path fill="#1f8429" d="M23 18h1v1h-1zM5 76h1v1h-1zM12 77h1v1h-1zM23 81h1v1h-1zM17 83h1v1h-1zM35 84h1v1h-1zM8 86h1v1h-1zM22 87h1v1h-1zM29 90h1v1h-1z"/>
<path fill="#218825" d="M40 12h1v1h-1zM51 17h1v1h-1zM53 20h1v1h-1zM48 23h1v1h-1zM5 68h1v1h-1zM2 78h1v1h-1zM5 79h1v1h-1zM10 79h1v1h-1zM5 83h1v1h-1zM27 84h1v1h-1zM21 85h1v1h-1zM17 86h1v1h-1zM3 87h1v1h-1zM11 87h1v1h-1zM27 90h1v1h-1z"/>
<path fill="#228b22" d="M12 8h1v1h-1zM0 14h1v1h-1zM44 78h1v1h-1zM30 81h1v1h-1zM19 87h1v1h-1z"/>
</g></g>
<g clip-path="url(#cc)" fill="none" stroke-width="6.25" stroke-linejoin="round" stroke-linecap="butt">
<path stroke="#000000" d="M465.4 800.3L480.0 786.3L494.5 800.3L480.0 814.3zM509.0 800.3L523.5 786.3L538.0 786.3L552.5 800.3L538.0 814.3L523.5 814.3zM552.5 800.3L567.0 786.3L581.5 800.3L567.0 814.3zM596.0 800.3L610.5 786.3L625.0 800.3L610.5 814.3zM639.5 800.3L654.1 786.3L668.6 800.3L654.1 814.3zM726.6 786.3L712.1 800.3L697.6 786.3M770.1 786.3L755.6 800.3L741.1 786.3M813.6 786.3L799.1 800.3L784.6 786.3M842.7 800.3L857.2 786.3L871.7 800.3L857.2 814.3L871.7 828.4L886.2 828.4L900.7 814.3L915.2 828.4L886.2 856.4L871.7 856.4L828.1 814.3L842.7 800.3zM987.7 800.3L1002.2 786.3L1016.8 800.3L1016.8 814.3L1002.2 828.4L987.7 814.3zM755.6 814.3L770.1 800.3L784.6 814.3L770.1 828.4zM450.9 828.4L465.4 814.3L480.0 814.3L509.0 842.4L494.5 856.4L480.0 842.4L465.4 856.4L450.9 842.4zM639.5 828.4L654.1 814.3L668.6 828.4L668.6 842.4L683.1 828.4L697.6 828.4L712.1 814.3L741.1 842.4L726.6 856.4L683.1 856.4L668.6 870.4L639.5 842.4zM1016.8 828.4L1031.3 814.3L1045.8 814.3L1060.3 828.4L1045.8 842.4L1031.3 842.4zM378.4 842.4L392.9 828.4L407.4 842.4L392.9 856.4zM770.1 842.4L784.6 828.4L799.1 842.4L784.6 856.4zM509.0 856.4L523.5 842.4L538.0 856.4L523.5 870.4zM596.0 856.4L610.5 842.4L625.0 842.4L639.5 856.4L625.0 870.4L610.5 870.4zM1002.2 856.4L1016.8 842.4L1031.3 856.4L1016.8 870.4zM378.4 870.4L392.9 856.4L407.4 870.4L392.9 884.4zM436.4 870.4L450.9 856.4L465.4 870.4L450.9 884.4zM567.0 870.4L567.0 870.4zM741.1 884.4L741.1 898.4L755.6 912.5L755.6 884.4zM958.7 884.4L973.2 870.4L987.7 884.4L973.2 898.4zM363.9 884.4L378.4 898.4L392.9 884.4L407.4 898.4L436.4 898.4L450.9 884.4L465.4 898.4L450.9 912.5L465.4 912.5L465.4 870.4L480.0 856.4L494.5 870.4L494.5 884.4L509.0 898.4L523.5 898.4L509.0 884.4L523.5 870.4L538.0 870.4L538.0 842.4L523.5 828.4L538.0 814.3L552.5 828.4L567.0 814.3L581.5 828.4L567.0 842.4L596.0 870.4L596.0 912.5L610.5 926.5L610.5 884.4L625.0 870.4L697.6 870.4L712.1 884.4L712.1 870.4L726.6 856.4L741.1 856.4L755.6 842.4L770.1 856.4L813.6 856.4L799.1 842.4L813.6 828.4L842.7 856.4L828.1 870.4L842.7 870.4L857.2 884.4L857.2 898.4L842.7 912.5L828.1 898.4L813.6 898.4L842.7 926.5L842.7 940.5L857.2 926.5L871.7 926.5L857.2 912.5L900.7 870.4L915.2 884.4L915.2 898.4L929.7 884.4L944.2 898.4L915.2 926.5L900.7 912.5L900.7 926.5L915.2 926.5L929.7 940.5L929.7 968.5L915.2 982.5L900.7 968.5L900.7 982.5L915.2 982.5L929.7 996.6L944.2 982.5L929.7 968.5L929.7 954.5L944.2 940.5L958.7 940.5L973.2 954.5L958.7 968.5L973.2 968.5L987.7 954.5L1002.2 968.5L1002.2 954.5L1016.8 940.5L1045.8 968.5L1060.3 968.5L1074.8 982.5L1060.3 996.6L1031.3 996.6L1045.8 1010.6L1031.3 1024.6L1031.3 1038.6L1045.8 1024.6L1045.8 1010.6L1060.3 996.6L1074.8 996.6L1074.8 968.5L1089.3 954.5L1074.8 940.5L1089.3 926.5L1103.8 940.5L1118.3 926.5L1132.8 940.5L1118.3 954.5L1118.3 968.5L1103.8 982.5L1103.8 996.6L1074.8 1024.6L1074.8 1038.6L1089.3 1052.6L1103.8 1052.6L1118.3 1066.6L1132.8 1052.6L1103.8 1052.6L1089.3 1038.6L1089.3 1024.6L1118.3 996.6L1132.8 1010.6L1132.8 1024.6L1147.3 1024.6L1161.8 1010.6L1176.3 1024.6L1161.8 1038.6L1161.8 1066.6L1176.3 1080.7L1190.8 1080.7L1205.4 1066.6L1190.8 1066.6L1176.3 1052.6L1190.8 1038.6L1234.4 1038.6L1248.9 1052.6L1248.9 1038.6L1263.4 1024.6L1248.9 1010.6L1248.9 996.6L1263.4 982.5L1277.9 996.6L1277.9 1010.6L1292.4 1024.6L1277.9 1038.6L1292.4 1038.6L1306.9 1052.6L1321.4 1038.6L1379.5 1094.7L1364.9 1108.7L1350.4 1094.7L1335.9 1094.7L1321.4 1080.7L1321.4 1066.6L1306.9 1080.7L1292.4 1080.7L1306.9 1094.7L1277.9 1122.7L1263.4 1108.7L1248.9 1108.7L1234.4 1122.7L1219.9 1108.7L1234.4 1094.7L1219.9 1094.7L1219.9 1108.7L1205.4 1122.7L1190.8 1108.7L1176.3 1108.7L1190.8 1122.7L1176.3 1136.7L1190.8 1136.7L1205.4 1122.7L1219.9 1122.7L1234.4 1136.7L1234.4 1150.8L1219.9 1164.8L1234.4 1178.8L1248.9 1178.8L1263.4 1192.8L1263.4 1206.8L1277.9 1206.8L1292.4 1192.8L1277.9 1192.8L1263.4 1178.8L1263.4 1150.8L1248.9 1164.8L1234.4 1150.8L1263.4 1122.7L1277.9 1122.7L1292.4 1136.7L1292.4 1150.8L1306.9 1164.8L1364.9 1164.8L1379.5 1178.8L1364.9 1192.8L1321.4 1192.8L1335.9 1206.8L1350.4 1192.8L1379.5 1220.8L1379.5 1262.9L1364.9 1276.9L1394.0 1276.9L1408.5 1262.9L1437.5 1290.9L1423.0 1304.9L1408.5 1304.9L1408.5 1333.0L1423.0 1319.0L1437.5 1333.0L1408.5 1361.0L1423.0 1375.0L1423.0 1389.0L1408.5 1403.1L1408.5 1417.1L1394.0 1431.1L1423.0 1431.1L1437.5 1445.1L1437.5 1459.1L1452.0 1459.1L1466.5 1473.1L1466.5 1487.2L1495.5 1515.2L1481.0 1529.2L1466.5 1515.2L1452.0 1529.2L1452.0 1557.2L1437.5 1571.3L1423.0 1557.2L1408.5 1571.3L1394.0 1571.3L1394.0 1585.3L1408.5 1571.3L1423.0 1585.3L1423.0 1613.3L1437.5 1613.3L1437.5 1585.3L1466.5 1557.2L1481.0 1557.2L1495.5 1571.3L1481.0 1585.3L1466.5 1585.3L1466.5 1599.3L1481.0 1599.3L1495.5 1613.3L1437.5 1669.4L1423.0 1669.4L1423.0 1683.4L1437.5 1669.4L1452.0 1669.4L1466.5 1655.4L1481.0 1655.4L1510.0 1627.3L1510.0 1599.3L1524.5 1585.3L1539.0 1599.3L1539.0 1627.3L1481.0 1683.4L1466.5 1683.4L1437.5 1711.4L1452.0 1725.4L1437.5 1739.5L1423.0 1725.4L1408.5 1739.5L1394.0 1725.4L1379.5 1725.4L1394.0 1739.5L1408.5 1739.5L1423.0 1753.5L1408.5 1767.5L1394.0 1767.5L1408.5 1781.5L1394.0 1795.5L1379.5 1795.5L1364.9 1809.5L1394.0 1837.6L1394.0 1851.6L1379.5 1865.6L1364.9 1851.6L1364.9 1837.6L1321.4 1837.6L1306.9 1823.6L1306.9 1837.6L1321.4 1851.6L1306.9 1865.6L1292.4 1865.6L1263.4 1893.7L1248.9 1893.7L1219.9 1921.7L1219.9 1935.7L1205.4 1949.7L1176.3 1949.7L1161.8 1935.7L1147.3 1935.7L1132.8 1949.7L1118.3 1949.7L1103.8 1963.7L1089.3 1949.7L1089.3 1935.7L1060.3 1907.7L1060.3 1865.6L1045.8 1865.6L1060.3 1879.6L1060.3 1893.7L1045.8 1907.7L1031.3 1907.7L1031.3 1921.7L1016.8 1935.7L1002.2 1921.7L1002.2 1935.7L987.7 1949.7L973.2 1949.7L958.7 1963.7L944.2 1963.7L944.2 1991.8L929.7 2005.8L915.2 1991.8L915.2 1949.7L900.7 1949.7L886.2 1963.7L886.2 1977.8L871.7 1991.8L857.2 1991.8L842.7 1977.8L842.7 1963.7L828.1 1977.8L828.1 1991.8L799.1 2019.8L799.1 2033.8L813.6 2033.8L828.1 2047.8L813.6 2061.9L784.6 2061.9L770.1 2047.8L770.1 2033.8L741.1 2033.8L712.1 2005.8L712.1 1991.8L726.6 1977.8L741.1 1977.8L741.1 1949.7L726.6 1963.7L712.1 1963.7L712.1 1977.8L697.6 1991.8L683.1 1977.8L683.1 1963.7L697.6 1949.7L683.1 1949.7L683.1 1977.8L639.5 2019.8L625.0 2005.8L625.0 2019.8L639.5 2019.8L654.1 2033.8L639.5 2047.8L596.0 2047.8L581.5 2033.8L596.0 2019.8L596.0 2005.8L581.5 2019.8L567.0 2005.8L567.0 2033.8L581.5 2047.8L581.5 2061.9L596.0 2061.9L625.0 2089.9L610.5 2103.9L596.0 2089.9L581.5 2103.9L567.0 2089.9L567.0 2075.9L538.0 2047.8L538.0 2019.8L523.5 2033.8L509.0 2019.8L509.0 1991.8L494.5 1977.8L509.0 1963.7L523.5 1977.8L523.5 1963.7L538.0 1949.7L552.5 1963.7L552.5 1977.8L567.0 1977.8L552.5 1963.7L552.5 1935.7L538.0 1949.7L509.0 1921.7L509.0 1935.7L523.5 1949.7L509.0 1963.7L494.5 1949.7L465.4 1949.7L450.9 1935.7L465.4 1921.7L450.9 1907.7L450.9 1893.7L465.4 1879.6L480.0 1893.7L480.0 1879.6L450.9 1879.6L450.9 1907.7L436.4 1921.7L436.4 1935.7L450.9 1949.7L465.4 1949.7L494.5 1977.8L494.5 1991.8L480.0 2005.8L421.9 2005.8L392.9 2033.8L378.4 2019.8L407.4 1991.8L407.4 1977.8L392.9 1963.7L378.4 1977.8L363.9 1963.7L378.4 1949.7L378.4 1935.7L392.9 1921.7L392.9 1907.7L407.4 1893.7L378.4 1893.7L363.9 1879.6L392.9 1851.6L378.4 1851.6L363.9 1837.6M567.0 898.4L552.5 912.5L567.0 926.5L581.5 926.5L567.0 912.5L567.0 898.4zM668.6 898.4L668.6 898.4zM1016.8 898.4L1031.3 884.4L1045.8 884.4L1060.3 898.4L1045.8 912.5L1031.3 912.5L1016.8 926.5L1002.2 912.5L1016.8 898.4zM639.5 912.5L654.1 912.5zM683.1 912.5L683.1 912.5zM712.1 912.5L712.1 912.5zM421.9 926.5L436.4 926.5zM509.0 926.5L509.0 926.5zM741.1 926.5L741.1 926.5zM770.1 926.5L784.6 940.5L784.6 926.5zM944.2 926.5L958.7 912.5L973.2 926.5L958.7 940.5zM1205.4 926.5L1219.9 912.5L1234.4 926.5L1219.9 940.5zM494.5 940.5L494.5 940.5zM552.5 940.5L552.5 940.5zM596.0 940.5L596.0 940.5zM625.0 940.5L639.5 940.5zM683.1 940.5L683.1 940.5zM726.6 940.5L726.6 940.5zM363.9 940.5L392.9 968.5L407.4 954.5L407.4 940.5L392.9 926.5L378.4 940.5L363.9 926.5L363.9 912.5M436.4 954.5L436.4 954.5zM799.1 954.5L799.1 954.5zM828.1 954.5L828.1 954.5zM857.2 954.5L857.2 954.5zM1045.8 954.5L1060.3 940.5L1074.8 954.5L1060.3 968.5zM1147.3 954.5L1161.8 940.5L1176.3 954.5L1190.8 954.5L1205.4 968.5L1205.4 982.5L1219.9 996.6L1219.9 1010.6L1234.4 1024.6L1219.9 1038.6L1190.8 1010.6L1190.8 996.6L1161.8 968.5zM871.7 968.5L871.7 968.5zM363.9 968.5L363.9 968.5zM407.4 982.5L407.4 982.5zM436.4 982.5L421.9 996.6L421.9 1010.6L436.4 996.6L436.4 982.5zM480.0 982.5L480.0 982.5zM509.0 982.5L523.5 982.5zM770.1 982.5L770.1 982.5zM987.7 982.5L987.7 982.5zM625.0 996.6L625.0 996.6zM726.6 996.6L726.6 996.6zM1364.9 996.6L1379.5 982.5L1394.0 982.5L1408.5 996.6L1394.0 1010.6L1379.5 1010.6zM480.0 1010.6L480.0 1010.6zM741.1 1010.6L741.1 1010.6zM813.6 1010.6L813.6 1010.6zM886.2 1010.6L886.2 1010.6zM958.7 1010.6L958.7 1010.6zM987.7 1010.6L1002.2 1010.6zM1321.4 1010.6L1335.9 996.6L1350.4 1010.6L1350.4 1024.6L1335.9 1038.6L1321.4 1024.6zM436.4 1024.6L436.4 1038.6L465.4 1038.6L450.9 1024.6zM842.7 1024.6L842.7 1024.6zM1524.5 1024.6L1539.0 1010.6L1553.5 1024.6L1539.0 1038.6zM363.9 1024.6L378.4 1010.6L392.9 1010.6L378.4 996.6L378.4 982.5L363.9 996.6M392.9 1038.6L392.9 1052.6L378.4 1066.6L407.4 1066.6L392.9 1052.6L407.4 1038.6zM1002.2 1038.6L1002.2 1038.6zM1394.0 1038.6L1408.5 1024.6L1423.0 1038.6L1423.0 1052.6L1408.5 1066.6L1394.0 1052.6zM1423.0 1038.6L1437.5 1024.6L1452.0 1038.6L1452.0 1052.6L1437.5 1066.6L1423.0 1052.6zM421.9 1052.6L421.9 1052.6zM900.7 1052.6L900.7 1052.6zM1045.8 1052.6L1045.8 1052.6zM538.0 1066.6L538.0 1066.6zM1277.9 1066.6L1277.9 1066.6zM1364.9 1066.6L1379.5 1052.6L1394.0 1066.6L1379.5 1080.7zM436.4 1080.7L436.4 1080.7zM1089.3 1080.7L1089.3 1080.7zM1394.0 1080.7L1408.5 1066.6L1423.0 1080.7L1394.0 1108.7L1379.5 1094.7L1394.0 1080.7zM421.9 1094.7L421.9 1094.7zM1031.3 1094.7L1031.3 1094.7zM1277.9 1094.7L1277.9 1094.7zM1524.5 1094.7L1539.0 1080.7L1553.5 1094.7L1539.0 1108.7zM407.4 1108.7L407.4 1108.7zM987.7 1108.7L987.7 1108.7zM1074.8 1108.7L1074.8 1108.7zM1132.8 1108.7L1147.3 1108.7zM1306.9 1108.7L1321.4 1094.7L1335.9 1108.7L1335.9 1122.7L1321.4 1136.7L1306.9 1136.7L1292.4 1122.7L1306.9 1108.7zM1408.5 1108.7L1423.0 1094.7L1437.5 1108.7L1423.0 1122.7zM363.9 1108.7L378.4 1094.7L363.9 1080.7M1335.9 1122.7L1350.4 1108.7L1364.9 1122.7L1350.4 1136.7zM1379.5 1122.7L1394.0 1108.7L1408.5 1122.7L1394.0 1136.7zM1103.8 1136.7L1103.8 1136.7zM1147.3 1136.7L1147.3 1136.7zM1423.0 1136.7L1437.5 1122.7L1452.0 1136.7L1437.5 1150.8zM1306.9 1150.8L1321.4 1136.7L1335.9 1150.8L1321.4 1164.8zM1350.4 1150.8L1364.9 1136.7L1379.5 1150.8L1364.9 1164.8zM1394.0 1150.8L1408.5 1136.7L1423.0 1150.8L1437.5 1150.8L1452.0 1164.8L1437.5 1178.8L1423.0 1178.8L1408.5 1164.8zM1031.3 1164.8L1031.3 1164.8zM1466.5 1164.8L1481.0 1150.8L1495.5 1164.8L1481.0 1178.8zM1379.5 1192.8L1394.0 1178.8L1408.5 1178.8L1437.5 1206.8L1423.0 1220.8L1408.5 1206.8L1394.0 1206.8zM1132.8 1206.8L1147.3 1206.8zM1190.8 1206.8L1190.8 1206.8zM1234.4 1206.8L1234.4 1206.8zM1306.9 1206.8L1306.9 1206.8zM1437.5 1206.8L1452.0 1192.8L1466.5 1206.8L1481.0 1206.8L1495.5 1220.8L1481.0 1234.9L1452.0 1234.9L1437.5 1220.8zM1219.9 1220.8L1219.9 1220.8zM1292.4 1220.8L1292.4 1220.8zM1350.4 1220.8L1350.4 1234.9L1335.9 1248.9L1321.4 1248.9L1306.9 1234.9L1306.9 1248.9L1335.9 1248.9L1350.4 1262.9L1350.4 1220.8zM363.9 1220.8L363.9 1164.8L378.4 1150.8L378.4 1136.7L363.9 1150.8M1205.4 1234.9L1205.4 1234.9zM1234.4 1234.9L1234.4 1234.9zM1263.4 1234.9L1263.4 1234.9zM1684.1 1234.9L1698.6 1220.8L1713.1 1234.9L1698.6 1248.9zM1219.9 1248.9L1219.9 1248.9zM1379.5 1248.9L1394.0 1234.9L1423.0 1234.9L1452.0 1262.9L1437.5 1276.9L1423.0 1262.9L1394.0 1262.9zM1582.6 1248.9L1597.1 1234.9L1611.6 1248.9L1597.1 1262.9L1597.1 1276.9L1582.6 1290.9L1568.1 1276.9L1568.1 1262.9L1582.6 1248.9zM1466.5 1262.9L1481.0 1248.9L1495.5 1262.9L1481.0 1276.9zM1510.0 1262.9L1524.5 1248.9L1539.0 1262.9L1539.0 1276.9L1524.5 1290.9L1510.0 1276.9zM1698.6 1262.9L1713.1 1248.9L1727.6 1262.9L1713.1 1276.9zM1277.9 1276.9L1277.9 1276.9zM1742.2 1276.9L1756.7 1262.9L1771.2 1276.9L1756.7 1290.9zM1306.9 1290.9L1306.9 1290.9zM1350.4 1290.9L1350.4 1290.9zM1771.2 1290.9L1785.7 1276.9L1800.2 1290.9L1785.7 1304.9zM1335.9 1304.9L1321.4 1319.0L1321.4 1333.0L1335.9 1319.0L1335.9 1304.9zM1364.9 1304.9L1379.5 1304.9zM1437.5 1304.9L1452.0 1290.9L1466.5 1290.9L1481.0 1304.9L1481.0 1319.0L1466.5 1333.0L1452.0 1319.0zM1640.6 1304.9L1655.1 1290.9L1669.6 1304.9L1655.1 1319.0zM1727.6 1304.9L1742.2 1290.9L1756.7 1304.9L1742.2 1319.0zM363.9 1304.9L363.9 1304.9zM1277.9 1319.0L1263.4 1333.0L1292.4 1333.0L1292.4 1319.0zM1669.6 1319.0L1684.1 1304.9L1698.6 1319.0L1684.1 1333.0zM363.9 1333.0L363.9 1333.0zM1147.3 1347.0L1147.3 1347.0zM1234.4 1347.0L1234.4 1347.0zM1306.9 1347.0L1306.9 1347.0zM1335.9 1347.0L1335.9 1347.0zM1379.5 1347.0L1379.5 1347.0zM1437.5 1347.0L1452.0 1333.0L1495.5 1375.0L1466.5 1403.1L1437.5 1403.1L1423.0 1389.0L1437.5 1375.0L1466.5 1375.0L1452.0 1361.0zM1510.0 1347.0L1524.5 1333.0L1539.0 1347.0L1524.5 1361.0zM1640.6 1347.0L1655.1 1333.0L1669.6 1347.0L1655.1 1361.0zM1248.9 1361.0L1263.4 1361.0zM1539.0 1361.0L1553.5 1347.0L1568.1 1361.0L1553.5 1375.0zM1568.1 1361.0L1582.6 1347.0L1597.1 1361.0L1582.6 1375.0zM363.9 1361.0L363.9 1361.0zM1306.9 1375.0L1321.4 1375.0zM1364.9 1375.0L1364.9 1389.0L1335.9 1417.1L1292.4 1417.1L1292.4 1431.1L1306.9 1417.1L1335.9 1417.1L1364.9 1445.1L1364.9 1431.1L1350.4 1417.1L1364.9 1403.1L1379.5 1403.1L1379.5 1375.0zM1510.0 1375.0L1524.5 1361.0L1539.0 1375.0L1524.5 1389.0L1524.5 1403.1L1510.0 1417.1L1495.5 1403.1L1495.5 1389.0L1510.0 1375.0zM1611.6 1375.0L1626.1 1361.0L1640.6 1375.0L1626.1 1389.0zM1335.9 1389.0L1335.9 1389.0zM1248.9 1403.1L1248.9 1403.1zM1640.6 1403.1L1655.1 1389.0L1669.6 1403.1L1640.6 1431.1L1655.1 1445.1L1640.6 1459.1L1655.1 1473.1L1640.6 1487.2L1611.6 1459.1L1626.1 1445.1L1611.6 1431.1L1640.6 1403.1zM1437.5 1417.1L1452.0 1403.1L1466.5 1417.1L1466.5 1445.1L1452.0 1459.1L1437.5 1445.1L1437.5 1431.1zM1466.5 1431.1L1481.0 1417.1L1495.5 1431.1L1495.5 1445.1L1481.0 1459.1L1466.5 1445.1zM1582.6 1431.1L1597.1 1417.1L1611.6 1431.1L1597.1 1445.1zM1655.1 1431.1L1669.6 1417.1L1684.1 1431.1L1669.6 1445.1zM1510.0 1445.1L1524.5 1431.1L1539.0 1445.1L1524.5 1459.1zM1684.1 1445.1L1698.6 1431.1L1713.1 1445.1L1698.6 1459.1zM1292.4 1459.1L1306.9 1459.1zM1335.9 1459.1L1335.9 1473.1L1321.4 1487.2L1335.9 1487.2L1350.4 1473.1L1335.9 1459.1zM1408.5 1459.1L1408.5 1459.1zM1655.1 1459.1L1669.6 1445.1L1684.1 1459.1L1669.6 1473.1zM1466.5 1473.1L1481.0 1459.1L1495.5 1459.1L1510.0 1473.1L1495.5 1487.2L1481.0 1487.2zM1510.0 1473.1L1524.5 1459.1L1568.1 1501.2L1568.1 1515.2L1582.6 1501.2L1553.5 1473.1L1568.1 1459.1L1582.6 1473.1L1597.1 1459.1L1611.6 1473.1L1597.1 1487.2L1626.1 1515.2L1626.1 1529.2L1582.6 1571.3L1568.1 1557.2L1582.6 1543.2L1582.6 1529.2L1568.1 1543.2L1539.0 1515.2L1539.0 1501.2L1524.5 1487.2zM1277.9 1487.2L1277.9 1487.2zM1394.0 1487.2L1394.0 1501.2L1379.5 1515.2L1394.0 1515.2L1394.0 1487.2zM1423.0 1487.2L1423.0 1487.2zM1234.4 1501.2L1234.4 1501.2zM1437.5 1501.2L1423.0 1515.2L1437.5 1515.2L1452.0 1501.2zM1626.1 1501.2L1640.6 1487.2L1655.1 1487.2L1669.6 1501.2L1655.1 1515.2L1640.6 1515.2zM1669.6 1501.2L1684.1 1487.2L1698.6 1501.2L1684.1 1515.2zM363.9 1501.2L363.9 1487.2M1306.9 1515.2L1306.9 1515.2zM1335.9 1515.2L1335.9 1515.2zM1597.1 1515.2L1597.1 1515.2zM1408.5 1529.2L1408.5 1529.2zM1495.5 1529.2L1510.0 1515.2L1524.5 1529.2L1510.0 1543.2L1524.5 1557.2L1510.0 1571.3L1495.5 1557.2L1481.0 1557.2L1466.5 1543.2L1481.0 1529.2L1495.5 1529.2zM1684.1 1529.2L1698.6 1515.2L1713.1 1529.2L1698.6 1543.2zM363.9 1529.2L363.9 1529.2zM1205.4 1543.2L1205.4 1543.2zM1234.4 1543.2L1234.4 1543.2zM1292.4 1543.2L1292.4 1543.2zM1321.4 1557.2L1321.4 1557.2zM1350.4 1557.2L1350.4 1557.2zM1539.0 1557.2L1553.5 1543.2L1568.1 1557.2L1568.1 1571.3L1553.5 1585.3L1539.0 1585.3L1524.5 1571.3L1539.0 1557.2zM1306.9 1571.3L1306.9 1571.3zM363.9 1571.3L363.9 1571.3zM1176.3 1585.3L1176.3 1585.3zM1364.9 1585.3L1364.9 1585.3zM1306.9 1599.3L1306.9 1599.3zM1335.9 1599.3L1335.9 1613.3L1350.4 1599.3zM1379.5 1599.3L1379.5 1599.3zM1568.1 1599.3L1582.6 1585.3L1597.1 1599.3L1582.6 1613.3zM1277.9 1613.3L1277.9 1627.3L1292.4 1613.3zM363.9 1613.3L363.9 1613.3zM1452.0 1627.3L1452.0 1627.3zM1364.9 1655.4L1364.9 1669.4L1379.5 1683.4L1379.5 1669.4L1364.9 1655.4zM1394.0 1655.4L1408.5 1655.4zM1524.5 1655.4L1539.0 1641.3L1553.5 1655.4L1539.0 1669.4zM1205.4 1669.4L1205.4 1669.4zM363.9 1683.4L363.9 1655.4M1190.8 1697.4L1190.8 1697.4zM1263.4 1697.4L1263.4 1697.4zM1350.4 1697.4L1350.4 1697.4zM1045.8 1711.4L1045.8 1711.4zM1205.4 1711.4L1205.4 1711.4zM1161.8 1725.4L1161.8 1725.4zM1234.4 1725.4L1234.4 1725.4zM1263.4 1725.4L1277.9 1725.4zM465.4 1739.5L465.4 1739.5zM1089.3 1739.5L1103.8 1739.5zM552.5 1753.5L552.5 1753.5zM1132.8 1753.5L1132.8 1753.5zM363.9 1753.5L378.4 1753.5L363.9 1739.5L363.9 1711.4M1205.4 1767.5L1205.4 1767.5zM1263.4 1781.5L1263.4 1781.5zM1350.4 1781.5L1350.4 1781.5zM407.4 1795.5L407.4 1795.5zM1335.9 1795.5L1335.9 1795.5zM1089.3 1809.5L1089.3 1809.5zM1147.3 1809.5L1161.8 1809.5zM363.9 1809.5L363.9 1781.5M378.4 1823.6L378.4 1823.6zM450.9 1823.6L450.9 1823.6zM871.7 1823.6L871.7 1823.6zM958.7 1823.6L958.7 1823.6zM1045.8 1823.6L1045.8 1823.6zM886.2 1837.6L886.2 1837.6zM915.2 1837.6L915.2 1837.6zM1089.3 1837.6L1103.8 1837.6zM1263.4 1837.6L1263.4 1837.6zM1495.5 1837.6L1510.0 1823.6L1524.5 1837.6L1510.0 1851.6zM421.9 1851.6L421.9 1851.6zM523.5 1851.6L523.5 1851.6zM987.7 1851.6L987.7 1865.6L973.2 1879.6L958.7 1879.6L958.7 1893.7L973.2 1879.6L987.7 1893.7L987.7 1851.6zM1031.3 1851.6L1031.3 1851.6zM1335.9 1851.6L1350.4 1837.6L1364.9 1851.6L1350.4 1865.6zM436.4 1865.6L436.4 1865.6zM944.2 1865.6L944.2 1865.6zM1219.9 1865.6L1219.9 1865.6zM1248.9 1865.6L1248.9 1865.6zM421.9 1879.6L421.9 1879.6zM523.5 1879.6L538.0 1893.7L538.0 1879.6zM610.5 1879.6L610.5 1879.6zM828.1 1879.6L828.1 1879.6zM1016.8 1879.6L1016.8 1879.6zM1089.3 1879.6L1089.3 1879.6zM581.5 1893.7L567.0 1907.7L567.0 1921.7L581.5 1907.7L581.5 1893.7zM654.1 1893.7L654.1 1893.7zM770.1 1893.7L770.1 1893.7zM915.2 1893.7L900.7 1907.7L886.2 1907.7L900.7 1921.7L915.2 1921.7L929.7 1935.7L944.2 1921.7L973.2 1921.7L973.2 1907.7L958.7 1921.7L944.2 1907.7L929.7 1921.7L915.2 1907.7L915.2 1893.7zM1118.3 1893.7L1118.3 1893.7zM1350.4 1893.7L1364.9 1879.6L1379.5 1893.7L1364.9 1907.7zM363.9 1907.7L378.4 1893.7L392.9 1907.7L378.4 1921.7zM421.9 1907.7L421.9 1907.7zM697.6 1907.7L697.6 1907.7zM741.1 1907.7L741.1 1907.7zM784.6 1907.7L784.6 1907.7zM857.2 1907.7L857.2 1907.7zM1132.8 1907.7L1132.8 1907.7zM1205.4 1907.7L1205.4 1907.7zM1277.9 1907.7L1292.4 1893.7L1306.9 1907.7L1292.4 1921.7zM639.5 1921.7L639.5 1921.7zM712.1 1921.7L712.1 1921.7zM770.1 1921.7L770.1 1921.7zM813.6 1921.7L813.6 1921.7zM842.7 1921.7L842.7 1921.7zM1031.3 1921.7L1045.8 1907.7L1089.3 1949.7L1060.3 1977.8L1045.8 1963.7L1031.3 1963.7L1016.8 1949.7L1031.3 1935.7zM1103.8 1921.7L1118.3 1921.7zM363.9 1921.7L378.4 1935.7L363.9 1949.7M407.4 1935.7L407.4 1949.7L436.4 1977.8L450.9 1977.8L407.4 1935.7zM581.5 1935.7L581.5 1935.7zM668.6 1935.7L668.6 1935.7zM784.6 1935.7L784.6 1935.7zM828.1 1935.7L828.1 1935.7zM654.1 1949.7L654.1 1949.7zM813.6 1949.7L799.1 1963.7L813.6 1963.7L813.6 1949.7zM857.2 1949.7L857.2 1949.7zM1060.3 1949.7L1060.3 1949.7zM596.0 1963.7L596.0 1977.8L610.5 1977.8L625.0 1963.7L610.5 1963.7zM770.1 1963.7L770.1 1963.7zM639.5 1977.8L639.5 1977.8zM987.7 1977.8L1002.2 1963.7L1016.8 1963.7L1045.8 1991.8L1002.2 2033.8L987.7 2019.8L1002.2 2005.8L1002.2 1991.8zM755.6 1991.8L755.6 1991.8zM784.6 1991.8L784.6 2005.8L799.1 1991.8zM944.2 1991.8L958.7 1977.8L987.7 2005.8L958.7 2033.8L944.2 2033.8L929.7 2019.8L944.2 2005.8L958.7 2005.8zM668.6 2005.8L683.1 1991.8L697.6 1991.8L712.1 2005.8L697.6 2019.8L683.1 2019.8zM828.1 2005.8L842.7 1991.8L857.2 2005.8L871.7 1991.8L886.2 1991.8L900.7 2005.8L900.7 2019.8L886.2 2033.8L871.7 2033.8L886.2 2047.8L871.7 2061.9L857.2 2047.8L842.7 2061.9L828.1 2047.8L828.1 2033.8L813.6 2019.8L828.1 2005.8zM1045.8 2005.8L1060.3 1991.8L1074.8 2005.8L1060.3 2019.8zM480.0 2019.8L494.5 2005.8L509.0 2019.8L509.0 2047.8L480.0 2075.9L465.4 2061.9L480.0 2047.8L480.0 2033.8zM900.7 2019.8L915.2 2005.8L929.7 2019.8L915.2 2033.8zM726.6 2047.8L741.1 2033.8L755.6 2033.8L770.1 2047.8L755.6 2061.9L741.1 2061.9L741.1 2075.9L726.6 2089.9L712.1 2075.9L712.1 2061.9L726.6 2047.8zM987.7 2047.8L1002.2 2033.8L1016.8 2047.8L987.7 2075.9L973.2 2061.9L987.7 2047.8zM1016.8 2047.8L1031.3 2033.8L1045.8 2047.8L1031.3 2061.9zM436.4 2061.9L450.9 2047.8L465.4 2061.9L450.9 2075.9zM509.0 2061.9L523.5 2047.8L538.0 2061.9L523.5 2075.9zM944.2 2061.9L958.7 2047.8L973.2 2061.9L958.7 2075.9zM668.6 2075.9L683.1 2061.9L697.6 2075.9L683.1 2089.9zM741.1 2075.9L755.6 2061.9L770.1 2075.9L770.1 2089.9L755.6 2103.9L741.1 2089.9zM538.0 2089.9L552.5 2075.9L567.0 2089.9L552.5 2103.9zM799.1 2089.9L813.6 2075.9L828.1 2089.9L813.6 2103.9zM886.2 2089.9L900.7 2075.9L915.2 2089.9L900.7 2103.9zM668.6 2103.9L683.1 2089.9L697.6 2103.9L683.1 2117.9zM596.0 2160.0L610.5 2146.0L625.0 2160.0L610.5 2174.0z"/>
<path stroke="#202020" d="M635.9 1024.6L639.5 1017.6L644.4 1024.6L639.5 1029.3zM779.8 1024.6L784.6 1017.6L787.5 1024.6L790.8 1038.6L784.6 1049.1L775.9 1038.6zM842.7 1038.6L857.2 1033.0L864.4 1038.6L857.2 1043.3zM912.8 1038.6L915.2 1031.6L920.0 1038.6L915.2 1042.1zM694.0 1052.6L697.6 1050.3L712.1 1052.6L697.6 1055.4zM446.1 1066.6L450.9 1063.1L454.6 1066.6L450.9 1071.3zM552.5 1066.6L567.0 1060.6L581.5 1066.6L567.0 1075.1zM603.3 1066.6L610.5 1052.6L615.4 1066.6L610.5 1070.2zM661.3 1066.6L668.6 1057.3L683.1 1059.6L689.3 1066.6L683.1 1080.7L697.6 1080.7L712.1 1084.2L720.8 1094.7L726.6 1104.0L741.1 1099.4L750.8 1108.7L755.6 1110.7L760.4 1108.7L755.6 1094.7L770.1 1084.2L776.3 1094.7L784.6 1102.7L799.1 1108.7L813.6 1117.1L828.1 1122.7L824.5 1108.7L828.1 1101.7L831.1 1108.7L842.7 1115.7L854.3 1108.7L857.2 1101.7L860.1 1108.7L866.8 1122.7L871.7 1127.4L874.6 1122.7L886.2 1114.7L895.9 1122.7L892.0 1136.7L886.2 1142.3L871.7 1143.7L864.4 1150.8L871.7 1157.8L886.2 1168.3L889.1 1164.8L900.7 1155.4L910.4 1150.8L915.2 1143.7L920.0 1150.8L915.2 1164.8L929.7 1164.8L944.2 1136.7L953.9 1150.8L958.7 1164.8L973.2 1176.0L987.7 1171.8L1002.2 1171.8L1005.9 1178.8L1002.2 1192.8L987.7 1185.8L973.2 1182.3L964.5 1192.8L973.2 1203.3L976.9 1206.8L984.8 1220.8L981.5 1234.9L987.7 1241.9L1002.2 1238.9L1009.5 1234.9L1002.2 1227.8L992.6 1220.8L1002.2 1211.5L1005.9 1206.8L1002.2 1192.8L1016.8 1187.2L1026.4 1192.8L1031.3 1199.8L1038.5 1206.8L1038.5 1220.8L1045.8 1225.5L1060.3 1220.8L1089.3 1241.9L1103.8 1227.8L1111.1 1234.9L1103.8 1248.9L1089.3 1262.9L1074.8 1262.9L1065.1 1276.9L1074.8 1288.1L1089.3 1290.9L1084.5 1276.9L1089.3 1262.9L1099.0 1276.9L1103.8 1281.6L1108.6 1290.9L1118.3 1304.9L1103.8 1319.0L1089.3 1317.2L1076.6 1304.9L1074.8 1297.9L1067.5 1304.9L1065.1 1319.0L1074.8 1328.3L1089.3 1333.0L1098.0 1347.0L1103.8 1354.0L1108.6 1347.0L1118.3 1335.8L1125.6 1347.0L1123.1 1361.0L1118.3 1370.4L1114.7 1375.0L1112.9 1389.0L1116.9 1403.1L1118.3 1410.1L1132.8 1396.0L1140.1 1403.1L1147.3 1417.1L1147.3 1431.1L1132.8 1438.9L1118.3 1435.8L1111.1 1445.1L1118.3 1452.1L1132.8 1454.5L1147.3 1459.1L1161.8 1469.6L1176.3 1465.1L1187.9 1473.1L1178.8 1487.2L1176.3 1501.2L1176.3 1515.2L1161.8 1519.9L1156.0 1515.2L1147.3 1506.8L1140.1 1501.2L1147.3 1494.2L1161.8 1491.8L1169.1 1487.2L1161.8 1480.2L1147.3 1482.5L1137.7 1473.1L1132.8 1466.1L1118.3 1473.1L1103.8 1487.2L1118.3 1489.5L1128.7 1501.2L1132.8 1515.2L1118.3 1526.9L1101.4 1543.2L1096.5 1557.2L1103.8 1560.7L1114.7 1571.3L1112.1 1585.3L1111.1 1599.3L1118.3 1602.1L1132.8 1606.3L1137.7 1613.3L1132.8 1615.6L1118.3 1619.5L1108.6 1613.3L1103.8 1604.0L1096.5 1613.3L1089.3 1627.3L1082.0 1613.3L1074.8 1606.3L1070.0 1613.3L1074.8 1627.3L1060.3 1638.5L1055.4 1641.3L1045.8 1648.4L1041.6 1641.3L1045.8 1636.7L1053.0 1627.3L1045.8 1620.3L1039.3 1627.3L1031.3 1634.3L1016.8 1634.3L1011.9 1641.3L1016.8 1648.4L1024.0 1655.4L1016.8 1658.9L1009.5 1655.4L1002.2 1650.7L999.8 1655.4L1002.2 1662.4L1005.9 1669.4L1002.2 1672.9L998.6 1669.4L987.7 1664.1L982.3 1669.4L987.7 1679.9L991.4 1683.4L995.0 1697.4L990.6 1711.4L987.7 1714.2L982.9 1711.4L984.1 1697.4L980.5 1683.4L973.2 1681.1L971.2 1683.4L962.3 1697.4L958.7 1702.1L955.1 1697.4L944.2 1692.2L935.1 1683.4L929.7 1675.0L922.5 1683.4L912.8 1697.4L915.2 1699.7L925.6 1711.4L929.7 1720.8L937.0 1725.4L934.5 1739.5L929.7 1746.5L926.8 1739.5L922.5 1725.4L915.2 1723.1L910.4 1725.4L900.7 1734.8L871.7 1725.4L857.2 1725.4L842.7 1702.1L828.1 1709.3L824.0 1711.4L838.5 1725.4L842.7 1734.8L857.2 1725.4L871.7 1725.4L876.5 1739.5L871.7 1744.1L857.2 1753.5L842.7 1744.1L838.5 1753.5L842.7 1760.5L852.3 1767.5L842.7 1774.5L828.1 1792.0L819.4 1781.5L828.1 1773.1L835.4 1767.5L828.2 1763.5L813.6 1757.0L799.1 1767.5L788.3 1753.5L784.6 1739.5L770.1 1725.4L770.1 1739.5L755.6 1753.5L779.8 1767.5L770.1 1772.2L755.6 1778.0L741.1 1767.5L726.6 1753.5L712.1 1750.0L697.6 1745.1L683.1 1750.0L668.6 1760.5L663.7 1767.5L654.1 1778.7L642.4 1767.5L639.5 1764.0L634.7 1767.5L625.0 1776.8L610.5 1774.5L606.9 1781.5L596.0 1795.5L581.5 1776.8L571.8 1767.5L581.5 1753.5L591.2 1767.5L596.0 1771.0L603.3 1767.5L598.4 1753.5L610.5 1744.7L625.0 1739.5L610.5 1729.0L596.0 1734.8L591.2 1739.5L581.5 1753.5L571.8 1739.5L567.0 1737.9L565.2 1739.5L552.5 1747.0L539.8 1739.5L541.6 1725.4L538.0 1721.9L534.4 1725.4L533.2 1739.5L523.5 1748.8L521.4 1753.5L523.5 1756.3L538.0 1767.5L523.5 1776.8L513.8 1767.5L509.0 1764.0L494.5 1759.1L480.0 1762.8L470.3 1753.5L480.0 1748.8L494.5 1739.5L489.6 1725.4L480.0 1711.4L465.4 1697.4L470.3 1683.4L480.0 1676.4L485.8 1669.4L480.0 1665.4L470.3 1669.4L465.4 1676.4L450.9 1683.4L436.4 1673.4L429.2 1669.4L450.9 1655.4L436.4 1644.1L429.2 1641.3L430.6 1627.3L421.9 1613.3L436.4 1602.8L450.9 1599.3L436.4 1594.6L431.6 1585.3L421.9 1579.7L415.5 1585.3L407.4 1597.0L404.5 1599.3L407.4 1602.8L421.9 1613.3L407.4 1621.7L392.9 1610.5L385.7 1599.3L398.4 1585.3L392.9 1579.3L383.2 1571.3L392.9 1557.2L388.1 1543.2L390.0 1529.2L392.9 1524.5L400.2 1515.2L397.7 1501.2L396.5 1487.2L392.9 1483.7L386.7 1473.1L382.9 1459.1L381.3 1445.1L398.7 1431.1L397.7 1417.1L392.9 1410.1L383.2 1403.1L388.8 1389.0L392.9 1375.0L397.7 1361.0L392.9 1354.0L391.1 1361.0L378.4 1373.3L370.6 1361.0L378.4 1350.1L388.1 1347.0L392.9 1340.0L395.8 1333.0L392.9 1330.6L383.8 1319.0L384.8 1304.9L385.7 1290.9L392.9 1281.6L407.4 1290.9L411.4 1276.9L421.9 1262.9L407.4 1259.4L398.7 1248.9L407.4 1234.9L418.3 1220.8L407.4 1210.3L400.2 1206.8L407.4 1203.3L421.9 1197.5L425.6 1192.8L427.7 1178.8L436.4 1170.4L450.9 1175.3L465.4 1168.8L475.8 1178.8L465.4 1185.8L453.4 1192.8L465.4 1200.6L475.8 1192.8L480.0 1185.8L494.5 1178.8L488.7 1164.8L484.3 1150.8L487.2 1136.7L487.2 1122.7L480.0 1108.7L494.5 1100.3L509.0 1094.7L523.5 1113.4L538.0 1114.0L552.5 1114.7L563.4 1108.7L567.0 1094.7L581.5 1086.9L596.0 1086.3L604.7 1094.7L590.2 1108.7L596.0 1115.7L610.5 1108.7L625.0 1111.5L639.5 1110.3L642.0 1108.7L649.2 1094.7L654.1 1091.9L657.7 1094.7L664.4 1108.7L663.7 1122.7L668.6 1136.7L683.1 1126.2L697.6 1128.7L704.8 1122.7L700.5 1108.7L697.6 1101.7L694.7 1108.7L683.1 1118.0L673.4 1108.7L675.8 1094.7L668.6 1089.4L660.5 1080.7zM723.0 1066.6L726.6 1062.0L731.4 1066.6L726.6 1071.3zM825.7 1066.6L828.1 1062.0L831.8 1066.6L828.1 1071.3zM489.6 1080.7L494.5 1076.0L504.1 1080.7L494.5 1087.7zM733.8 1080.7L741.1 1073.7L746.9 1080.7L741.1 1090.0zM808.8 1080.7L813.6 1078.3L818.5 1080.7L813.6 1083.5zM796.2 1094.7L799.1 1090.0L802.0 1094.7L799.1 1108.7zM831.1 1094.7L842.7 1083.5L854.3 1094.7L842.7 1101.7zM448.0 1108.7L450.9 1104.0L465.4 1099.4L480.0 1108.7L465.4 1122.7L450.9 1122.7zM909.4 1108.7L915.2 1094.7L921.0 1108.7L915.2 1115.7zM509.0 1122.7L504.1 1136.7L509.0 1150.8L523.5 1138.5L525.1 1136.7L523.5 1132.1L509.0 1122.7zM581.5 1117.1L577.4 1122.7L581.5 1125.8L588.8 1122.7zM726.6 1115.7L723.0 1122.7L721.4 1136.7L726.6 1142.6L733.8 1136.7L731.4 1122.7zM784.6 1117.1L778.8 1122.7L784.6 1136.7L790.4 1122.7zM941.3 1122.7L944.2 1118.0L947.8 1122.7L944.2 1136.7zM567.0 1136.7L567.0 1136.7zM596.0 1132.1L594.2 1136.7L596.0 1140.2L598.9 1136.7zM450.9 1150.8L465.4 1136.7L474.5 1150.8L465.4 1160.8zM625.0 1147.2L623.7 1150.8L625.0 1151.8L627.5 1150.8zM654.1 1149.3L651.6 1150.8L654.1 1151.9L655.9 1150.8zM683.1 1148.7L681.3 1150.8L683.1 1152.3L685.5 1150.8zM741.1 1150.8L741.1 1150.8zM799.1 1150.8L799.1 1150.8zM755.6 1160.1L748.4 1164.8L755.6 1168.3L765.3 1164.8zM828.1 1178.8L828.1 1178.8zM944.2 1189.3L937.0 1192.8L937.8 1206.8L937.0 1220.8L944.2 1234.9L951.5 1220.8L955.8 1206.8L949.0 1192.8zM567.0 1205.4L564.9 1206.8L567.0 1208.1L568.2 1206.8zM842.7 1206.8L842.7 1206.8zM915.2 1218.8L912.3 1220.8L915.2 1222.2L922.5 1220.8zM1016.8 1217.3L1011.9 1220.8L1016.8 1225.5L1024.0 1220.8zM436.4 1227.8L429.2 1234.9L432.8 1248.9L436.4 1253.5L441.3 1248.9L446.1 1234.9zM494.5 1234.9L494.5 1234.9zM1031.3 1234.9L1031.3 1234.9zM1016.8 1244.2L1014.3 1248.9L1016.8 1253.5L1024.0 1248.9zM1045.8 1248.9L1060.3 1253.5L1067.5 1248.9L1060.3 1244.2zM958.7 1262.9L958.7 1262.9zM436.4 1276.9L436.4 1276.9zM987.7 1276.9L987.7 1276.9zM1031.3 1290.9L1031.3 1290.9zM958.7 1301.8L949.0 1304.9L958.7 1306.9L963.6 1304.9zM421.9 1309.6L412.3 1319.0L421.9 1328.3L436.4 1319.0zM1002.2 1319.0L1002.2 1319.0zM1125.6 1319.0L1132.8 1315.5L1135.7 1319.0L1132.8 1326.0zM450.9 1347.0L450.9 1347.0zM1161.8 1361.0L1176.3 1358.7L1190.8 1361.0L1176.3 1363.8zM1089.3 1368.0L1083.5 1375.0L1082.0 1389.0L1089.3 1393.7L1091.7 1389.0L1095.1 1375.0zM1187.9 1375.0L1190.8 1361.0L1195.7 1375.0L1190.8 1382.0zM1016.8 1389.0L1016.8 1389.0zM1045.8 1387.0L1042.1 1389.0L1045.8 1391.4L1060.3 1389.0zM1074.8 1403.1L1074.8 1403.1zM373.6 1417.1L378.4 1410.1L383.2 1417.1L378.4 1424.1zM1060.3 1410.1L1057.9 1417.1L1045.8 1428.8L1042.1 1431.1L1045.8 1445.1L1060.3 1446.5L1067.5 1445.1L1062.4 1431.1L1065.1 1417.1zM1103.8 1415.7L1096.5 1417.1L1103.8 1431.1L1111.1 1417.1zM1147.3 1417.1L1161.8 1413.6L1169.1 1417.1L1176.3 1421.7L1182.1 1431.1L1187.6 1445.1L1176.3 1454.9L1167.1 1445.1L1161.8 1431.1zM1074.8 1459.1L1074.8 1459.1zM1231.5 1459.1L1234.4 1456.3L1238.0 1459.1L1234.4 1466.1zM421.9 1473.1L421.9 1473.1zM1089.3 1501.2L1089.3 1501.2zM373.0 1515.2L378.4 1504.7L387.1 1515.2L378.4 1521.2zM1060.3 1542.1L1057.4 1543.2L1060.3 1544.6L1074.8 1543.2zM1147.3 1543.2L1161.8 1537.2L1170.5 1543.2L1166.7 1557.2L1161.8 1561.9L1158.2 1557.2zM436.4 1551.6L432.3 1557.2L436.4 1561.9L440.6 1557.2zM1045.8 1557.2L1045.8 1557.2zM1118.3 1557.2L1132.8 1546.7L1140.1 1557.2L1132.8 1564.3zM407.4 1564.3L404.5 1571.3L407.4 1573.6L409.5 1571.3zM973.2 1585.3L973.2 1585.3zM1016.8 1585.3L1031.3 1599.3L1045.8 1599.3L1031.3 1585.3zM1074.8 1578.3L1067.5 1585.3L1074.8 1589.9L1082.0 1585.3zM1187.2 1585.3L1190.8 1580.6L1198.1 1585.3L1190.8 1589.9zM987.7 1594.6L979.0 1599.3L987.7 1606.3L1002.2 1600.7L1007.1 1599.3L1002.2 1597.0zM1016.8 1613.3L1016.8 1613.3zM1201.7 1613.3L1205.4 1610.5L1208.3 1613.3L1205.4 1615.6zM450.9 1627.3L465.4 1634.3L467.5 1627.3L465.4 1623.8zM755.6 1627.3L755.6 1627.3zM1002.2 1625.9L998.6 1627.3L1002.2 1632.0L1009.5 1627.3zM523.5 1639.9L520.6 1641.3L523.5 1642.9L528.3 1641.3zM886.2 1639.9L884.9 1641.3L886.2 1644.8L887.8 1641.3zM958.7 1641.3L958.7 1655.4L973.2 1657.7L975.6 1655.4L973.2 1650.7L958.7 1641.3zM1081.0 1641.3L1089.3 1627.3L1100.9 1641.3L1103.8 1655.4L1089.3 1658.9L1074.8 1660.0L1067.5 1669.4L1060.3 1680.6L1045.8 1676.4L1031.3 1676.4L1027.6 1669.4L1031.3 1662.4L1045.8 1662.4L1060.3 1658.2L1074.8 1649.8zM915.2 1653.0L911.6 1655.4L915.2 1657.7L920.0 1655.4zM581.5 1669.4L581.5 1669.4zM712.1 1669.4L712.1 1669.4zM784.6 1663.8L777.4 1669.4L784.6 1674.1L787.5 1669.4zM871.7 1664.7L869.3 1669.4L871.7 1676.4L874.1 1669.4zM900.7 1665.9L898.3 1669.4L895.9 1683.4L900.7 1687.4L906.5 1683.4L903.1 1669.4zM944.2 1669.4L944.2 1669.4zM813.6 1683.4L799.1 1690.4L793.3 1697.4L795.5 1711.4L799.1 1718.4L801.6 1711.4L813.6 1701.4L815.9 1697.4L813.6 1683.4zM1158.2 1683.4L1161.8 1680.6L1164.7 1683.4L1161.8 1686.9zM418.3 1697.4L421.9 1693.9L426.8 1697.4L421.9 1700.9zM639.5 1697.4L639.5 1697.4zM755.6 1694.3L750.8 1697.4L755.6 1700.5L757.8 1697.4zM1054.1 1697.4L1060.3 1686.9L1074.8 1692.7L1079.6 1697.4L1074.8 1700.9L1060.3 1702.7zM1099.0 1697.4L1103.8 1690.4L1107.4 1697.4L1103.8 1704.4zM509.0 1711.4L501.7 1725.4L509.0 1728.3L512.6 1725.4L509.0 1711.4zM552.5 1702.1L546.7 1711.4L552.5 1717.0L556.1 1711.4zM581.5 1711.4L579.9 1725.4L581.5 1730.1L586.4 1725.4L581.5 1711.4zM654.1 1709.4L652.2 1711.4L654.1 1714.9L657.7 1711.4zM741.1 1708.6L739.0 1711.4L741.1 1725.4L742.9 1711.4zM886.2 1711.4L900.7 1711.4zM639.5 1722.3L632.3 1725.4L639.5 1732.5L645.3 1725.4zM668.6 1721.9L664.9 1725.4L668.6 1727.8L672.2 1725.4zM949.0 1725.4L958.7 1718.4L963.6 1725.4L958.7 1739.5zM1057.9 1725.4L1060.3 1723.1L1063.2 1725.4L1060.3 1730.1zM446.8 1739.5L450.9 1733.9L454.6 1739.5L450.9 1743.5zM813.6 1732.5L811.8 1739.5L813.6 1746.5L828.1 1744.7L839.0 1739.5L828.1 1734.2zM937.0 1753.5L944.2 1748.8L947.8 1753.5L944.2 1757.0zM1056.7 1753.5L1060.3 1748.8L1063.9 1753.5L1060.3 1757.0zM678.2 1767.5L683.1 1760.5L687.9 1767.5L683.1 1770.3zM462.5 1781.5L465.4 1776.8L480.0 1781.5L465.4 1786.2zM720.8 1781.5L726.6 1775.9L733.8 1781.5L726.6 1788.5zM893.4 1781.5L900.7 1774.5L907.9 1781.5L900.7 1789.9zM1173.4 1781.5L1176.3 1778.0L1179.2 1781.5L1176.3 1783.9zM506.6 1795.5L509.0 1792.7L523.5 1787.1L532.2 1795.5L523.5 1802.5L509.0 1802.5zM664.4 1795.5L668.6 1789.9L674.4 1795.5L675.8 1809.5L673.4 1823.6L668.6 1830.6L666.1 1823.6L654.1 1813.6L644.4 1809.5L654.1 1805.5zM745.2 1795.5L755.6 1783.9L767.7 1795.5L770.1 1800.2L779.8 1809.5L784.6 1823.6L770.1 1825.9L765.3 1823.6L755.6 1814.2L752.7 1809.5zM549.6 1809.5L552.5 1806.0L555.4 1809.5L552.5 1812.4zM687.9 1823.6L697.6 1812.4L709.2 1823.6L697.6 1829.8zM835.4 1823.6L842.7 1818.9L847.5 1823.6L842.7 1828.2zM750.8 1837.6L755.6 1832.9L758.0 1837.6L755.6 1844.6zM1159.4 1879.6L1161.8 1877.3L1165.5 1879.6L1161.8 1882.0z"/>
<path stroke="#404040" d="M632.3 1122.7L639.5 1119.6L644.4 1122.7L654.1 1130.7L658.9 1136.7L654.1 1140.9L639.5 1136.7zM534.8 1136.7L538.0 1127.4L547.7 1136.7L545.2 1150.8L538.0 1159.5L523.5 1157.8L521.4 1150.8L523.5 1149.0zM579.4 1136.7L581.5 1135.2L583.3 1136.7L581.5 1143.7zM703.4 1136.7L712.1 1129.7L715.2 1136.7L712.1 1147.2zM767.2 1136.7L770.1 1133.2L772.2 1136.7L770.1 1141.4zM820.9 1136.7L828.1 1134.7L842.7 1136.7L828.1 1139.5zM493.0 1150.8L494.5 1147.9L496.5 1150.8L494.5 1153.6zM602.2 1150.8L610.5 1141.4L615.8 1150.8L625.0 1157.8L639.5 1152.3L654.1 1158.9L666.7 1150.8L668.6 1148.7L670.4 1150.8L683.1 1161.7L692.7 1164.8L690.3 1178.8L697.6 1185.8L712.1 1178.8L726.6 1183.5L733.8 1192.8L741.1 1195.6L752.7 1206.8L755.6 1209.9L759.2 1206.8L770.1 1196.3L784.6 1192.8L790.1 1206.8L779.2 1220.8L784.6 1224.7L799.1 1225.5L802.8 1220.8L803.7 1206.8L799.1 1195.1L784.6 1192.8L799.1 1189.3L806.4 1178.8L813.6 1171.8L818.5 1178.8L820.9 1192.8L828.1 1198.4L833.0 1206.8L836.9 1220.8L842.7 1226.4L857.2 1232.5L864.4 1234.9L871.7 1236.9L886.2 1239.2L899.2 1248.9L898.6 1262.9L900.7 1264.9L907.9 1262.9L915.2 1255.9L918.8 1248.9L915.2 1245.4L907.9 1234.9L915.2 1230.6L929.7 1232.5L931.8 1234.9L944.2 1244.2L958.7 1248.9L949.0 1262.9L944.2 1276.9L929.7 1271.3L922.5 1276.9L929.7 1288.1L944.2 1276.9L958.7 1272.2L973.2 1276.9L961.6 1290.9L958.7 1292.5L944.2 1293.3L933.9 1304.9L944.2 1313.7L958.7 1312.9L973.2 1319.0L987.7 1316.2L989.8 1319.0L987.7 1333.0L1002.2 1327.4L1011.9 1333.0L1013.1 1347.0L1016.8 1349.8L1031.3 1351.7L1045.8 1349.3L1057.9 1361.0L1067.5 1375.0L1060.3 1379.7L1045.8 1375.0L1016.8 1375.0L1007.1 1361.0L1002.2 1355.4L998.6 1361.0L1002.2 1375.0L991.4 1389.0L1005.9 1403.1L1002.2 1407.7L987.7 1411.5L976.9 1403.1L973.2 1398.4L969.6 1403.1L972.1 1417.1L973.2 1419.9L984.8 1431.1L987.7 1432.8L999.0 1445.1L1002.2 1452.1L1005.5 1445.1L1016.8 1432.8L1025.2 1445.1L1031.3 1450.9L1045.8 1459.1L1060.3 1454.9L1065.1 1459.1L1060.3 1466.1L1045.8 1480.2L1034.9 1473.1L1031.3 1471.4L1016.8 1466.1L1007.7 1473.1L1013.1 1487.2L1020.4 1501.2L1016.8 1505.8L1009.5 1501.2L1002.2 1497.7L987.7 1501.2L998.6 1515.2L987.7 1529.2L973.2 1526.1L967.4 1529.2L973.2 1534.8L984.1 1543.2L987.7 1557.2L973.2 1561.9L968.4 1557.2L962.3 1543.2L958.7 1539.7L955.1 1543.2L955.1 1557.2L938.8 1571.3L929.7 1585.3L929.7 1599.3L915.2 1609.1L907.9 1613.3L900.7 1623.8L897.1 1627.3L886.2 1631.5L877.5 1627.3L871.7 1613.3L857.2 1623.8L842.7 1621.0L833.0 1613.3L828.1 1607.3L813.6 1599.3L813.6 1613.3L828.1 1623.8L830.6 1627.3L833.0 1641.3L828.1 1648.4L824.5 1641.3L813.6 1634.3L799.1 1635.7L788.3 1627.3L791.9 1613.3L784.6 1606.3L780.3 1613.3L781.0 1627.3L784.6 1641.3L770.1 1649.8L764.3 1655.4L755.6 1664.7L741.1 1663.8L731.4 1669.4L726.6 1676.4L723.0 1669.4L726.6 1660.0L728.7 1655.4L726.6 1650.7L712.1 1652.6L708.5 1655.4L699.7 1669.4L697.6 1671.7L690.3 1683.4L691.8 1697.4L683.1 1702.7L668.6 1705.4L654.1 1697.4L649.2 1683.4L639.5 1677.8L636.3 1683.4L625.0 1694.3L615.8 1683.4L610.5 1672.2L603.3 1669.4L596.0 1667.8L581.5 1661.0L571.8 1655.4L567.0 1653.4L557.3 1655.4L552.5 1660.0L538.0 1658.9L523.5 1659.4L509.0 1665.6L494.5 1661.0L484.8 1655.4L489.0 1641.3L480.0 1627.3L494.5 1621.3L499.3 1613.3L504.1 1599.3L494.5 1593.7L489.6 1599.3L480.0 1606.3L474.2 1599.3L480.0 1589.9L485.8 1585.3L480.0 1579.7L473.7 1571.3L467.1 1557.2L468.4 1543.2L470.3 1529.2L489.6 1515.2L480.0 1511.2L471.9 1501.2L480.0 1494.2L485.1 1487.2L484.1 1473.1L480.0 1469.6L470.3 1473.1L467.9 1487.2L465.4 1490.0L461.8 1487.2L461.8 1473.1L450.9 1466.1L442.2 1459.1L438.0 1445.1L436.4 1443.1L432.8 1445.1L421.9 1455.6L407.4 1445.1L421.9 1439.1L427.7 1431.1L421.9 1417.1L436.4 1413.6L442.7 1403.1L436.4 1394.6L421.9 1397.8L412.9 1389.0L421.9 1382.0L430.0 1375.0L436.4 1365.7L439.3 1361.0L450.9 1353.0L457.2 1347.0L459.2 1333.0L450.9 1323.6L447.3 1319.0L450.9 1311.9L455.8 1304.9L455.8 1290.9L455.1 1276.9L473.7 1262.9L480.0 1257.6L487.2 1248.9L494.5 1242.5L504.1 1234.9L494.5 1225.5L485.8 1220.8L494.5 1214.8L509.0 1208.8L523.5 1206.8L538.0 1220.8L550.1 1234.9L552.5 1236.9L553.9 1234.9L559.8 1220.8L567.0 1215.7L575.5 1206.8L567.0 1197.0L559.8 1192.8L567.0 1185.8L581.5 1183.5L583.9 1178.8L581.5 1164.8L596.0 1155.4zM719.3 1150.8L726.6 1149.6L728.7 1150.8L731.4 1164.8L726.6 1174.1L722.4 1164.8zM559.8 1164.8L567.0 1153.6L581.5 1164.8L567.0 1172.8zM610.5 1158.8L605.7 1164.8L610.5 1170.0L614.9 1164.8zM780.5 1164.8L784.6 1159.2L799.1 1164.8L790.4 1178.8L784.6 1192.8L777.4 1178.8zM523.5 1178.8L538.0 1173.2L547.7 1178.8L538.0 1184.4zM625.0 1175.7L620.9 1178.8L625.0 1182.8L639.5 1188.1L654.1 1178.8L668.6 1187.2L679.4 1178.8L668.6 1172.8L654.1 1178.8L639.5 1174.1zM506.1 1192.8L509.0 1188.1L511.9 1192.8L509.0 1199.8zM596.0 1197.5L589.6 1206.8L591.9 1220.8L596.0 1224.8L601.8 1220.8L602.5 1206.8zM654.1 1201.2L649.2 1206.8L654.1 1210.8L658.2 1206.8zM741.1 1220.8L741.1 1220.8zM878.9 1220.8L886.2 1206.8L891.0 1220.8L886.2 1223.6zM477.5 1234.9L480.0 1230.2L482.0 1234.9L480.0 1237.2zM523.5 1224.8L514.4 1234.9L514.8 1248.9L523.5 1251.5L527.8 1248.9L530.7 1234.9zM813.6 1231.3L808.8 1234.9L813.6 1238.4L820.9 1234.9zM857.2 1261.1L855.4 1262.9L857.2 1266.4L860.8 1262.9zM1040.9 1262.9L1045.8 1260.9L1048.7 1262.9L1045.8 1265.7zM419.3 1276.9L421.9 1273.4L425.6 1276.9L421.9 1290.9zM421.9 1290.9L436.4 1286.2L445.1 1290.9L436.4 1296.9zM915.2 1290.9L915.2 1290.9zM978.1 1290.9L987.7 1282.9L996.7 1290.9L987.7 1300.3zM1011.3 1290.9L1016.8 1276.9L1021.6 1290.9L1016.8 1301.4zM581.5 1296.2L577.2 1304.9L581.5 1308.3L587.6 1304.9zM886.2 1304.9L886.2 1304.9zM1087.5 1304.9L1089.3 1302.9L1103.8 1304.9L1089.3 1306.7zM1013.1 1319.0L1016.8 1309.6L1021.6 1319.0L1016.8 1326.0zM886.2 1329.0L883.0 1333.0L886.2 1334.4L895.9 1333.0zM915.2 1333.0L929.7 1336.1L937.0 1333.0L929.7 1328.3zM958.7 1328.3L950.0 1333.0L958.7 1341.4L963.1 1333.0zM1024.0 1333.0L1031.3 1328.3L1037.1 1333.0L1031.3 1340.0zM399.0 1347.0L407.4 1336.1L420.1 1347.0L407.4 1355.9zM973.2 1345.2L968.4 1347.0L973.2 1354.0L980.5 1347.0zM377.3 1361.0L378.4 1359.4L380.2 1361.0L378.4 1362.8zM929.7 1357.9L924.9 1361.0L929.7 1363.6L933.3 1361.0zM958.7 1356.3L956.6 1361.0L953.9 1375.0L958.7 1382.0L964.2 1375.0L966.0 1361.0zM494.5 1371.5L484.8 1375.0L494.5 1376.9L498.1 1375.0zM450.9 1385.5L446.1 1389.0L450.9 1391.8L452.6 1389.0zM1097.6 1403.1L1103.8 1392.5L1108.2 1403.1L1103.8 1407.3zM405.0 1417.1L407.4 1412.4L421.9 1417.1L407.4 1422.7zM1011.9 1417.1L1016.8 1413.6L1020.4 1417.1L1016.8 1424.1zM480.0 1424.1L477.3 1431.1L480.0 1434.2L484.1 1431.1zM1074.8 1431.1L1089.3 1423.4L1096.5 1431.1L1089.3 1439.5zM1175.0 1445.1L1176.3 1442.3L1178.0 1445.1L1176.3 1446.5zM389.6 1459.1L392.9 1450.7L403.8 1459.1L392.9 1466.1zM668.6 1458.2L667.6 1459.1L668.6 1459.8L669.1 1459.1zM944.2 1473.1L944.2 1473.1zM973.2 1466.8L967.2 1473.1L973.2 1480.2L978.4 1473.1zM421.9 1487.2L436.4 1477.1L445.5 1487.2L450.9 1497.7L453.8 1501.2L455.8 1515.2L450.9 1518.0L436.4 1522.2L429.2 1515.2L426.8 1501.2zM958.7 1485.4L955.8 1487.2L958.7 1489.2L961.1 1487.2zM1054.5 1487.2L1060.3 1481.6L1064.4 1487.2L1069.0 1501.2L1060.3 1511.7L1049.4 1501.2zM509.0 1501.2L509.0 1501.2zM944.2 1494.2L939.8 1501.2L942.4 1515.2L944.2 1522.2L947.1 1515.2L950.0 1501.2zM900.7 1515.2L900.7 1515.2zM1023.0 1529.2L1031.3 1519.9L1045.8 1526.9L1060.3 1517.5L1067.5 1529.2L1060.3 1535.0L1045.8 1533.9L1031.3 1536.2zM915.2 1548.8L907.9 1557.2L900.7 1564.3L892.0 1571.3L898.9 1585.3L900.7 1587.3L904.3 1585.3L915.2 1576.9L929.7 1557.2zM1055.4 1557.2L1060.3 1553.0L1074.8 1553.7L1078.9 1557.2L1074.8 1561.2L1060.3 1564.3zM440.6 1571.3L450.9 1559.6L459.0 1571.3L450.9 1578.3zM625.0 1585.3L639.5 1586.7L640.5 1585.3L639.5 1584.0zM799.1 1585.3L799.1 1585.3zM842.7 1582.3L836.4 1585.3L842.7 1599.3L857.2 1595.8L862.6 1585.3L857.2 1580.6zM523.5 1595.8L513.8 1599.3L523.5 1602.1L533.2 1599.3zM697.6 1599.3L697.6 1599.3zM741.1 1594.6L738.9 1599.3L741.1 1600.7L745.2 1599.3zM929.7 1599.3L944.2 1593.7L958.7 1597.0L961.6 1599.3L958.7 1601.6L944.2 1603.3zM445.1 1613.3L450.9 1609.8L456.7 1613.3L450.9 1616.8zM552.5 1612.0L551.4 1613.3L549.6 1627.3L552.5 1628.9L567.0 1631.5L573.1 1627.3L567.0 1617.3L557.3 1613.3zM654.1 1611.3L648.3 1613.3L654.1 1616.4L668.6 1614.3L672.2 1613.3L668.6 1610.5zM755.6 1613.3L747.7 1627.3L743.5 1641.3L755.6 1647.7L762.2 1641.3L762.9 1627.3L755.6 1613.3zM995.0 1613.3L1002.2 1609.1L1007.1 1613.3L1002.2 1617.5zM639.5 1627.3L634.0 1641.3L638.1 1655.4L639.5 1658.9L646.8 1655.4L646.8 1641.3L639.5 1627.3zM941.8 1627.3L944.2 1625.0L947.8 1627.3L944.2 1641.3zM509.0 1635.7L503.2 1641.3L509.0 1644.1L523.5 1652.2L538.0 1652.6L542.8 1641.3L538.0 1634.3L523.5 1631.5zM610.5 1641.3L607.6 1655.4L610.5 1664.7L613.2 1655.4L610.5 1641.3zM849.9 1641.3L857.2 1632.0L871.7 1632.0L876.9 1641.3L871.7 1648.4L860.1 1655.4L857.2 1662.4L842.7 1655.4zM897.5 1641.3L900.7 1632.0L910.4 1641.3L900.7 1647.0zM922.5 1641.3L929.7 1639.0L944.2 1641.3L929.7 1644.1zM668.6 1653.8L661.3 1655.4L668.6 1657.1L670.2 1655.4zM808.2 1655.4L813.6 1648.4L824.5 1655.4L813.6 1661.4zM625.0 1666.8L615.4 1669.4L625.0 1672.5L630.8 1669.4zM683.1 1669.4L683.1 1669.4zM796.2 1669.4L799.1 1665.4L804.0 1669.4L799.1 1674.1zM823.3 1669.4L828.1 1660.0L835.4 1669.4L828.2 1673.4zM535.6 1683.4L538.0 1679.9L552.5 1678.7L554.9 1683.4L552.5 1685.7L538.0 1685.7zM575.1 1683.4L581.5 1677.8L591.2 1683.4L581.5 1692.7zM668.6 1679.2L657.7 1683.4L668.6 1689.4L674.0 1683.4zM748.4 1683.4L755.6 1679.9L770.1 1677.4L778.8 1683.4L779.2 1697.4L770.1 1705.2L755.6 1685.0zM838.5 1683.4L842.7 1676.4L846.8 1683.4L842.7 1687.4zM701.2 1697.4L712.1 1686.9L720.8 1697.4L712.1 1709.4zM822.6 1697.4L828.1 1690.4L835.4 1697.4L828.1 1702.8zM620.2 1711.4L625.0 1706.8L639.5 1709.4L641.4 1711.4L639.5 1713.0L625.0 1714.2zM753.8 1711.4L755.6 1709.9L758.5 1711.4L759.2 1725.4L755.6 1731.1L752.0 1725.4zM868.0 1711.4L871.7 1709.1L873.7 1711.4L871.7 1713.4zM561.2 1725.4L567.0 1711.4L570.2 1725.4L567.0 1728.6zM707.2 1725.4L712.1 1716.1L716.9 1725.4L712.1 1731.1zM550.7 1739.5L552.5 1736.0L554.3 1739.5L552.5 1740.5zM649.2 1739.5L654.1 1733.9L663.7 1739.5L654.1 1743.5zM797.1 1739.5L799.1 1737.1L800.9 1739.5L799.1 1743.0z"/>
<path stroke="#606060" d="M623.6 1164.8L625.0 1163.8L639.5 1161.7L649.2 1164.8L639.5 1167.1L625.0 1166.3zM680.2 1192.8L683.1 1190.5L685.5 1192.8L683.1 1197.5zM687.2 1206.8L697.6 1199.8L705.6 1206.8L697.6 1213.8L688.5 1220.8L697.6 1234.9L710.6 1248.9L712.1 1251.7L715.7 1248.9L726.6 1238.4L741.1 1244.2L753.5 1234.9L753.5 1220.8L755.6 1219.3L762.9 1220.8L770.1 1224.3L784.6 1232.3L789.5 1234.9L784.6 1239.5L770.1 1241.9L766.5 1248.9L770.1 1255.9L778.8 1262.9L790.4 1276.9L794.3 1290.9L799.1 1295.6L810.7 1290.9L813.6 1287.4L828.1 1287.4L830.6 1290.9L842.7 1300.9L857.2 1292.7L862.0 1290.9L865.9 1276.9L871.7 1271.3L886.2 1262.9L900.7 1276.9L902.8 1290.9L921.4 1304.9L915.2 1315.5L910.4 1319.0L900.7 1323.0L891.0 1319.0L894.9 1304.9L886.2 1295.6L875.3 1304.9L871.7 1308.9L861.3 1319.0L857.2 1333.0L871.7 1330.6L873.3 1333.0L886.2 1338.6L900.7 1344.7L903.6 1347.0L900.7 1354.0L900.0 1361.0L886.2 1373.7L876.5 1375.0L886.2 1377.6L900.7 1385.5L905.5 1389.0L900.7 1396.0L899.2 1403.1L900.7 1417.1L915.2 1404.8L920.0 1403.1L921.0 1389.0L923.5 1375.0L929.7 1371.2L944.2 1375.0L940.6 1389.0L939.4 1403.1L929.7 1417.1L944.2 1426.4L950.0 1417.1L958.7 1407.7L965.4 1417.1L958.7 1431.1L958.7 1445.1L973.2 1459.1L959.9 1473.1L958.7 1474.9L956.6 1473.1L944.2 1459.1L937.5 1473.1L937.0 1487.2L933.1 1501.2L931.5 1515.2L938.2 1529.2L929.7 1543.2L915.2 1538.9L903.3 1529.2L913.1 1515.2L923.5 1501.2L924.9 1487.2L915.2 1473.1L917.3 1459.1L922.5 1445.1L915.2 1431.1L910.4 1445.1L911.6 1459.1L915.2 1473.1L900.7 1487.2L895.9 1473.1L886.2 1471.1L871.7 1473.1L882.6 1487.2L877.5 1501.2L871.7 1510.5L857.2 1511.7L856.0 1515.2L842.7 1528.0L831.3 1515.2L828.1 1511.0L817.3 1515.2L813.6 1522.2L808.8 1529.2L813.6 1530.5L828.1 1535.6L842.7 1531.5L857.2 1529.2L871.7 1517.5L876.5 1515.2L886.2 1509.6L889.8 1515.2L897.1 1529.2L894.2 1543.2L886.2 1553.2L871.7 1543.2L847.5 1557.2L857.2 1571.3L842.7 1576.3L828.1 1578.3L813.6 1573.6L799.1 1578.3L790.4 1585.3L784.6 1593.3L770.1 1593.3L760.4 1585.3L755.6 1582.5L741.1 1582.9L737.5 1585.3L732.2 1599.3L741.1 1604.9L750.8 1613.3L741.1 1626.3L730.2 1613.3L726.6 1607.1L712.1 1608.6L708.5 1599.3L712.1 1595.3L718.7 1585.3L719.3 1571.3L712.1 1568.9L697.6 1580.6L683.1 1580.0L668.6 1576.5L663.0 1585.3L664.9 1599.3L654.1 1605.3L639.5 1606.3L625.0 1604.9L615.4 1599.3L625.0 1595.8L639.5 1595.1L646.3 1585.3L639.5 1576.4L625.0 1578.3L617.1 1585.3L610.5 1597.0L603.3 1599.3L610.5 1606.3L614.2 1613.3L610.5 1620.3L596.0 1620.3L586.4 1627.3L581.5 1630.1L580.3 1627.3L572.3 1613.3L581.5 1604.4L593.1 1599.3L581.5 1589.9L567.0 1598.2L564.1 1599.3L552.5 1604.4L546.0 1599.3L552.5 1593.1L556.8 1585.3L552.5 1575.3L538.0 1579.7L523.5 1585.3L509.0 1593.9L494.5 1582.0L483.3 1571.3L480.0 1562.9L476.7 1557.2L480.0 1550.2L494.5 1550.2L497.4 1543.2L494.5 1533.9L491.6 1529.2L494.5 1526.9L496.9 1529.2L509.0 1534.6L514.6 1529.2L509.0 1515.2L523.5 1501.2L538.0 1503.3L545.2 1501.2L538.0 1498.6L523.5 1501.2L509.0 1493.5L494.5 1493.2L491.4 1487.2L494.5 1476.6L499.3 1473.1L494.5 1471.7L480.0 1459.1L477.1 1445.1L480.0 1443.6L494.5 1434.6L509.0 1432.6L510.8 1431.1L494.5 1417.1L480.0 1403.1L480.0 1389.0L494.5 1382.5L509.0 1375.0L494.5 1361.0L480.0 1363.3L477.5 1361.0L465.4 1351.0L463.4 1347.0L465.4 1341.4L472.7 1333.0L480.0 1322.5L484.8 1319.0L480.0 1316.2L470.3 1304.9L469.6 1290.9L480.0 1283.1L491.6 1276.9L494.5 1273.4L509.0 1272.2L512.2 1262.9L523.5 1256.8L536.5 1248.9L538.0 1241.9L552.5 1248.9L567.0 1248.9L579.9 1262.9L581.5 1265.7L596.0 1265.9L600.4 1262.9L600.9 1248.9L610.5 1234.9L625.0 1222.8L639.5 1234.9L632.3 1248.9L625.0 1254.5L620.7 1262.9L625.0 1267.1L639.5 1262.9L645.3 1248.9L639.5 1234.9L654.1 1221.9L661.3 1220.8L668.6 1213.8L683.1 1212.4zM720.4 1206.8L726.6 1200.8L741.1 1204.0L744.0 1206.8L741.1 1210.3L726.6 1213.8zM809.1 1206.8L813.6 1199.0L822.7 1206.8L813.6 1215.6zM709.7 1220.8L712.1 1218.0L715.7 1220.8L712.1 1225.5zM562.7 1234.9L567.0 1226.4L574.3 1234.9L567.0 1248.9zM668.6 1223.6L664.9 1234.9L668.6 1241.1L676.9 1234.9zM849.9 1248.9L857.2 1246.5L871.7 1248.9L857.2 1250.6zM871.7 1248.9L886.2 1245.6L890.5 1248.9L886.2 1262.9zM668.6 1258.9L664.9 1262.9L668.6 1269.9L675.8 1262.9zM755.6 1258.6L748.4 1262.9L755.6 1276.9L763.9 1262.9zM810.0 1262.9L813.6 1259.4L828.1 1262.9L813.6 1266.4zM828.1 1262.9L842.7 1255.9L844.5 1262.9L842.7 1265.7zM523.5 1275.2L516.2 1276.9L516.2 1290.9L523.5 1294.2L532.2 1290.9L526.4 1276.9zM552.5 1276.9L552.5 1276.9zM697.6 1269.9L695.2 1276.9L697.6 1278.0L699.2 1276.9zM726.6 1271.3L723.7 1276.9L726.6 1290.9L741.1 1295.6L745.2 1290.9L741.1 1281.6L736.3 1276.9zM581.5 1284.9L577.9 1290.9L572.1 1304.9L581.5 1312.3L594.8 1304.9L587.7 1290.9zM610.5 1290.9L610.5 1290.9zM639.5 1290.9L639.5 1290.9zM770.1 1281.6L763.7 1290.9L770.1 1294.4L775.0 1290.9zM985.3 1290.9L987.7 1288.9L990.0 1290.9L987.7 1293.3zM494.5 1297.9L489.6 1304.9L494.5 1311.9L498.6 1319.0L505.9 1333.0L509.0 1347.0L517.7 1333.0L519.3 1319.0L513.8 1304.9L509.0 1296.2zM538.0 1300.3L536.7 1304.9L538.0 1306.7L539.3 1304.9zM654.1 1302.4L649.2 1304.9L654.1 1308.1L656.7 1304.9zM799.1 1316.2L793.3 1319.0L799.1 1324.6L804.0 1319.0zM828.1 1328.3L821.7 1333.0L828.1 1344.2L834.0 1333.0zM971.8 1333.0L973.2 1331.0L975.3 1333.0L973.2 1334.7zM406.2 1347.0L407.4 1345.4L409.2 1347.0L407.4 1348.3zM581.5 1341.4L579.8 1347.0L581.5 1351.0L584.4 1347.0zM770.1 1342.0L763.5 1347.0L770.1 1350.5L776.2 1347.0zM926.8 1347.0L929.7 1345.4L944.2 1341.0L950.4 1347.0L944.2 1361.0L929.7 1348.5zM448.0 1361.0L450.9 1359.0L455.1 1361.0L450.9 1366.6zM842.7 1357.5L840.0 1361.0L842.7 1363.3L845.3 1361.0zM871.7 1354.0L869.0 1361.0L871.7 1370.4L873.1 1361.0zM462.2 1389.0L465.4 1384.4L480.0 1389.0L465.4 1403.1zM755.6 1385.5L753.0 1389.0L755.6 1392.5L759.2 1389.0zM857.2 1382.0L852.0 1389.0L857.2 1392.1L864.4 1389.0zM523.5 1401.5L522.3 1403.1L523.5 1404.8L538.0 1417.1L540.2 1403.1L538.0 1400.5zM443.0 1417.1L450.9 1406.6L465.4 1403.1L468.4 1417.1L469.4 1431.1L465.4 1437.1L460.0 1431.1L450.9 1424.7zM770.1 1415.5L765.3 1417.1L770.1 1418.3L773.0 1417.1zM871.7 1415.1L868.8 1417.1L871.7 1431.1L886.2 1434.6L892.0 1431.1L886.2 1424.1L876.5 1417.1zM842.7 1429.9L839.0 1431.1L842.7 1432.5L843.6 1431.1zM447.7 1445.1L450.9 1441.1L455.8 1445.1L450.9 1450.7zM980.5 1445.1L987.7 1443.4L989.3 1445.1L987.7 1452.1zM1015.1 1445.1L1016.8 1443.4L1018.0 1445.1L1016.8 1452.1zM668.6 1453.0L661.8 1459.1L668.6 1463.6L672.5 1459.1zM857.2 1459.1L857.2 1459.1zM1024.0 1459.1L1031.3 1458.0L1033.3 1459.1L1031.3 1460.9zM538.0 1470.6L533.8 1473.1L538.0 1475.7L552.5 1473.1zM799.1 1463.8L794.3 1473.1L793.9 1487.2L799.1 1494.2L805.6 1487.2L801.6 1473.1zM984.6 1473.1L987.7 1462.6L995.0 1473.1L987.7 1481.6zM842.7 1477.8L841.3 1487.2L842.7 1494.2L857.2 1494.2L862.0 1487.2L857.2 1481.2zM596.0 1501.2L596.0 1501.2zM958.7 1501.2L973.2 1490.0L979.0 1501.2L976.9 1515.2L973.2 1516.7L968.4 1515.2zM784.6 1513.3L775.0 1515.2L784.6 1518.3L788.3 1515.2zM697.6 1522.8L692.0 1529.2L697.6 1534.6L712.1 1533.0L715.7 1529.2L712.1 1522.2zM610.5 1540.1L607.6 1543.2L606.9 1557.2L610.5 1565.3L618.8 1557.2L613.2 1543.2zM784.6 1540.1L775.0 1543.2L784.6 1546.7L799.1 1546.0L801.6 1543.2L799.1 1536.2zM552.5 1556.0L550.4 1557.2L552.5 1561.9L559.8 1571.3L567.0 1573.3L581.5 1578.3L586.4 1571.3L581.5 1567.8L567.0 1561.9L559.8 1557.2zM668.6 1557.2L668.6 1557.2zM813.6 1553.2L808.8 1557.2L813.6 1568.5L828.1 1564.3L837.8 1557.2L828.1 1553.7zM509.0 1561.9L506.6 1571.3L509.0 1574.1L514.8 1571.3zM654.1 1566.2L646.8 1571.3L654.1 1575.9L662.3 1571.3zM784.6 1566.6L775.9 1571.3L784.6 1577.3L789.5 1571.3zM878.9 1585.3L886.2 1582.5L888.0 1585.3L886.2 1589.9zM790.8 1599.3L799.1 1593.7L804.9 1599.3L799.1 1607.3zM900.7 1599.3L915.2 1595.8L917.3 1599.3L915.2 1600.7zM506.6 1613.3L509.0 1609.3L523.5 1610.5L538.0 1605.7L544.7 1613.3L538.0 1623.8L523.5 1618.9L509.0 1618.9zM694.0 1613.3L697.6 1611.3L704.8 1613.3L697.6 1616.1zM768.0 1613.3L770.1 1609.8L771.6 1613.3L770.1 1627.3zM652.0 1627.3L654.1 1625.8L668.6 1620.3L677.0 1627.3L678.2 1641.3L668.6 1644.5L658.9 1641.3L654.1 1634.3zM550.1 1641.3L552.5 1638.2L567.0 1636.4L575.7 1641.3L567.0 1647.4L552.5 1645.4zM621.4 1641.3L625.0 1634.3L627.3 1641.3L629.4 1655.4L625.0 1659.2L621.1 1655.4zM504.1 1655.4L509.0 1652.6L513.8 1655.4L509.0 1657.9zM588.8 1655.4L596.0 1641.3L598.9 1655.4L596.0 1658.5zM679.8 1655.4L683.1 1646.0L688.9 1655.4L683.1 1658.9zM663.7 1669.4L668.6 1667.6L670.6 1669.4L668.6 1670.8zM623.7 1683.4L625.0 1681.8L626.7 1683.4L625.0 1685.0z"/>
<path stroke="#808080" d="M646.8 1234.9L654.1 1228.4L659.5 1234.9L654.1 1244.2zM691.4 1248.9L697.6 1244.2L701.9 1248.9L697.6 1254.1zM748.4 1248.9L755.6 1243.6L759.2 1248.9L755.6 1252.1zM521.9 1262.9L523.5 1262.0L530.7 1262.9L523.5 1264.6zM552.5 1262.9L567.0 1259.4L570.2 1262.9L567.0 1266.9zM609.1 1262.9L610.5 1260.1L612.0 1262.9L610.5 1265.2zM585.7 1276.9L596.0 1271.9L603.3 1276.9L596.0 1286.9zM622.6 1276.9L625.0 1275.5L628.7 1276.9L625.0 1279.7zM645.8 1276.9L654.1 1262.9L661.3 1276.9L662.8 1290.9L654.1 1294.7L649.2 1290.9zM708.9 1276.9L712.1 1269.9L715.0 1276.9L718.7 1290.9L712.1 1298.7L703.8 1304.9L709.2 1319.0L712.1 1321.3L714.2 1319.0L720.4 1304.9L726.6 1300.3L735.3 1304.9L741.1 1319.0L755.6 1326.0L770.1 1326.0L784.6 1329.5L788.3 1333.0L791.9 1347.0L784.6 1349.3L783.4 1347.0L770.1 1336.0L755.6 1347.0L741.1 1339.0L735.8 1347.0L739.0 1361.0L741.1 1375.0L745.1 1389.0L755.6 1403.1L749.8 1417.1L755.6 1428.3L770.1 1426.0L784.6 1431.1L789.5 1417.1L784.6 1413.1L770.1 1406.2L755.6 1403.1L770.1 1389.0L755.6 1375.0L742.7 1361.0L755.6 1347.0L770.1 1354.7L779.4 1361.0L784.6 1372.7L799.1 1375.0L799.1 1389.0L793.7 1403.1L799.1 1409.1L802.8 1403.1L799.1 1389.0L799.1 1375.0L796.7 1361.0L799.1 1354.0L813.6 1349.5L828.1 1355.7L832.1 1361.0L842.7 1370.4L854.3 1375.0L845.8 1389.0L857.2 1395.7L871.7 1403.1L857.2 1415.1L853.0 1417.1L857.2 1419.6L865.9 1431.1L871.7 1438.1L886.2 1445.1L895.9 1459.1L886.2 1465.1L871.7 1465.5L865.1 1459.1L860.8 1445.1L857.2 1442.6L851.4 1445.1L852.3 1459.1L842.7 1469.0L828.1 1468.5L825.2 1473.1L828.1 1474.1L837.4 1487.2L831.1 1501.2L828.1 1502.6L824.5 1501.2L814.6 1487.2L813.6 1484.4L808.8 1473.1L813.6 1459.1L828.1 1452.1L834.0 1445.1L842.7 1440.9L849.0 1431.1L842.7 1422.9L828.1 1426.4L817.3 1417.1L813.6 1414.5L808.8 1417.1L808.5 1431.1L802.8 1445.1L799.1 1447.4L784.6 1449.8L782.4 1459.1L781.0 1473.1L770.1 1480.8L755.6 1473.1L755.6 1487.2L762.1 1501.2L755.6 1507.4L743.5 1515.2L755.6 1525.2L770.1 1525.2L784.6 1527.7L787.5 1529.2L784.6 1530.8L770.1 1533.2L758.0 1543.2L766.2 1557.2L760.4 1571.3L755.6 1574.1L741.1 1575.9L734.7 1571.3L731.4 1557.2L726.6 1550.2L712.1 1552.6L697.6 1548.8L683.1 1546.0L668.6 1547.9L656.1 1557.2L654.1 1558.5L639.5 1561.9L635.9 1557.2L625.0 1550.2L621.1 1543.2L625.0 1532.7L639.5 1529.2L654.1 1533.9L663.7 1529.2L654.1 1527.1L643.4 1515.2L643.5 1501.2L644.4 1487.2L639.5 1477.8L629.9 1487.2L632.3 1501.2L634.3 1515.2L625.0 1527.5L617.8 1529.2L610.5 1530.8L598.9 1543.2L601.5 1557.2L596.0 1567.8L581.5 1557.2L567.0 1545.6L552.5 1548.3L538.0 1543.2L552.5 1529.2L556.5 1515.2L557.0 1501.2L567.0 1492.2L574.3 1487.2L567.0 1473.1L552.5 1467.1L538.0 1462.9L523.5 1468.5L509.0 1461.9L494.5 1463.3L489.6 1459.1L494.5 1452.1L503.2 1445.1L509.0 1442.0L518.6 1445.1L523.5 1449.8L538.0 1445.1L552.5 1446.7L567.0 1446.9L574.3 1445.1L567.0 1442.8L552.5 1443.7L538.0 1445.1L523.5 1438.1L521.7 1431.1L505.3 1417.1L499.9 1403.1L509.0 1395.3L515.0 1403.1L523.5 1415.3L525.6 1417.1L538.0 1423.5L550.4 1417.1L546.9 1403.1L552.5 1393.0L564.6 1403.1L567.0 1405.4L569.9 1403.1L569.9 1389.0L571.8 1375.0L583.9 1361.0L593.1 1347.0L596.0 1333.0L581.5 1327.0L569.9 1319.0L581.5 1316.3L596.0 1314.9L603.3 1304.9L610.5 1298.6L618.6 1304.9L610.5 1319.0L625.0 1326.0L632.3 1333.0L639.5 1335.1L641.5 1333.0L651.6 1319.0L654.1 1317.4L664.6 1304.9L668.6 1296.5L679.4 1304.9L683.1 1306.7L686.7 1304.9L687.9 1290.9L697.6 1284.5zM547.7 1290.9L552.5 1287.4L567.0 1285.7L570.6 1290.9L567.0 1304.9L564.1 1319.0L567.0 1333.0L574.7 1347.0L567.0 1361.0L552.5 1371.0L542.1 1361.0L538.0 1356.3L523.5 1350.5L521.4 1347.0L523.5 1344.2L538.0 1333.0L535.1 1319.0L538.0 1317.2L547.2 1304.9zM782.2 1290.9L784.6 1286.2L787.0 1290.9L784.6 1294.9zM519.6 1304.9L523.5 1300.6L528.8 1304.9L523.5 1311.9zM761.4 1304.9L770.1 1299.7L778.0 1304.9L770.1 1314.3zM795.0 1304.9L799.1 1302.6L813.6 1302.6L817.3 1304.9L813.6 1309.6L799.1 1307.7zM854.3 1304.9L857.2 1303.2L860.1 1304.9L857.2 1307.7zM820.9 1319.0L828.1 1313.3L842.7 1311.9L849.9 1319.0L842.7 1333.0L828.1 1321.3zM485.4 1333.0L494.5 1325.2L499.6 1333.0L494.5 1343.0zM668.6 1330.2L666.6 1333.0L668.6 1342.3L675.8 1333.0zM726.6 1327.4L720.1 1333.0L726.6 1338.1L734.9 1333.0zM552.5 1347.0L552.5 1347.0zM654.1 1343.1L649.5 1347.0L654.1 1354.0L666.1 1347.0zM697.6 1347.0L694.0 1361.0L697.6 1362.4L704.8 1361.0L697.6 1347.0zM877.5 1347.0L886.2 1342.8L894.1 1347.0L895.6 1361.0L886.2 1369.7L877.2 1361.0zM853.2 1361.0L857.2 1352.6L861.1 1361.0L857.2 1371.5zM625.0 1369.9L613.4 1375.0L625.0 1378.8L628.5 1375.0zM492.4 1389.0L494.5 1388.1L497.4 1389.0L494.5 1392.5zM518.6 1389.0L523.5 1384.4L538.0 1380.6L546.7 1389.0L538.0 1392.9L523.5 1392.2zM712.1 1389.0L708.9 1403.1L712.1 1406.2L717.9 1403.1L726.6 1389.0zM875.3 1389.0L886.2 1385.2L891.6 1389.0L890.5 1403.1L886.2 1409.1L871.7 1403.1zM610.5 1401.1L608.5 1403.1L610.5 1404.2L611.6 1403.1zM654.1 1399.6L649.9 1403.1L654.1 1406.6L656.0 1403.1zM596.0 1413.6L591.2 1417.1L596.0 1420.2L598.3 1417.1zM668.6 1417.1L668.6 1417.1zM913.1 1417.1L915.2 1415.3L917.3 1417.1L915.2 1419.1zM697.6 1429.5L696.5 1431.1L695.8 1445.1L697.6 1449.8L702.4 1445.1L704.8 1431.1zM596.0 1457.7L593.6 1459.1L596.0 1463.8L597.1 1459.1zM668.6 1447.7L656.0 1459.1L668.6 1467.4L675.8 1459.1zM712.1 1452.1L704.8 1459.1L712.1 1461.0L713.6 1459.1zM683.1 1471.3L680.4 1473.1L683.1 1476.3L686.7 1473.1zM726.6 1470.5L723.2 1473.1L726.6 1476.6L733.8 1473.1zM927.6 1473.1L929.7 1459.1L930.8 1473.1L929.7 1475.9zM513.8 1487.2L523.5 1477.8L538.0 1483.3L543.4 1487.2L538.0 1491.0L523.5 1490.7zM596.0 1487.2L581.5 1501.2L591.2 1515.2L596.0 1516.7L610.5 1526.9L616.6 1515.2L610.5 1505.2L606.9 1501.2L596.0 1487.2zM668.6 1485.8L666.9 1487.2L668.6 1491.8L670.4 1487.2zM712.1 1486.2L710.0 1487.2L706.0 1501.2L697.6 1515.2L688.3 1501.2L683.1 1496.1L673.4 1501.2L668.6 1515.2L683.1 1523.6L685.3 1529.2L697.6 1541.1L712.1 1540.7L723.0 1529.2L715.4 1515.2L718.1 1501.2L713.2 1487.2zM782.2 1487.2L784.6 1482.5L785.9 1487.2L795.9 1501.2L784.6 1507.7L776.2 1501.2zM519.9 1515.2L523.5 1511.7L538.0 1509.8L547.1 1515.2L538.0 1524.0L529.3 1529.2L523.5 1534.8L521.2 1529.2zM837.5 1515.2L842.7 1507.4L848.7 1515.2L842.7 1521.0zM911.2 1529.2L915.2 1524.0L929.7 1526.9L930.9 1529.2L929.7 1531.2L915.2 1532.4zM506.1 1543.2L509.0 1541.1L514.8 1543.2L523.5 1547.4L538.0 1557.2L523.5 1567.1L515.0 1557.2L509.0 1547.2zM808.8 1543.2L813.6 1538.1L828.1 1543.2L813.6 1547.2zM784.6 1557.2L799.1 1554.4L801.6 1557.2L799.1 1571.3zM490.0 1571.3L494.5 1564.3L499.3 1571.3L494.5 1575.6zM506.3 1585.3L509.0 1582.5L512.6 1585.3L509.0 1587.4zM561.9 1585.3L567.0 1579.3L575.7 1585.3L567.0 1591.7zM652.1 1585.3L654.1 1582.9L656.3 1585.3L654.1 1599.3zM580.2 1613.3L581.5 1612.0L584.4 1613.3L581.5 1615.6zM735.7 1613.3L741.1 1609.1L745.9 1613.3L741.1 1619.8zM666.1 1627.3L668.6 1626.3L669.8 1627.3L668.6 1630.1z"/>
<path stroke="#9f9f9f" d="M664.4 1319.0L668.6 1313.3L683.1 1317.2L687.9 1319.0L683.1 1321.8L668.6 1321.8zM647.3 1333.0L654.1 1324.8L660.8 1333.0L654.1 1338.4zM692.7 1333.0L697.6 1326.0L707.2 1333.0L697.6 1336.5zM562.2 1347.0L567.0 1342.3L569.6 1347.0L567.0 1351.7zM617.8 1347.0L625.0 1342.3L639.5 1341.6L644.1 1347.0L646.8 1361.0L648.8 1375.0L654.1 1389.0L639.5 1400.3L637.5 1403.1L625.0 1411.5L618.3 1403.1L610.5 1389.0L625.0 1384.4L633.6 1375.0L625.0 1362.3L610.5 1361.0zM676.6 1347.0L683.1 1340.0L688.9 1347.0L683.1 1355.0zM724.2 1347.0L726.6 1345.7L727.9 1347.0L726.6 1361.0zM752.4 1361.0L755.6 1357.5L770.1 1358.9L773.2 1361.0L775.6 1375.0L770.1 1379.7L765.3 1375.0L755.6 1364.5zM808.2 1361.0L813.6 1357.2L820.9 1361.0L813.6 1366.3zM881.3 1361.0L886.2 1347.0L891.3 1361.0L886.2 1365.7zM591.2 1375.0L596.0 1368.0L598.4 1375.0L610.5 1389.0L596.0 1403.1L581.5 1396.0L578.6 1389.0L581.5 1382.0zM668.6 1375.0L683.1 1371.5L697.6 1370.8L712.1 1369.8L726.6 1375.0L712.1 1379.7L697.6 1380.3L683.1 1378.5L679.1 1389.0L678.7 1403.1L683.1 1407.3L694.0 1403.1L697.6 1400.7L699.2 1403.1L712.1 1415.5L726.6 1410.1L741.1 1417.1L746.5 1431.1L741.1 1438.1L736.7 1445.1L738.0 1459.1L726.6 1466.5L718.2 1459.1L717.4 1445.1L721.2 1431.1L712.1 1419.4L697.6 1420.2L690.3 1431.1L684.9 1445.1L692.3 1459.1L683.1 1465.7L679.2 1459.1L679.4 1445.1L675.3 1431.1L675.3 1417.1L668.6 1410.6L661.8 1403.1L654.1 1389.0L668.6 1375.0zM810.0 1403.1L813.6 1397.8L819.1 1403.1L813.6 1406.9zM842.7 1403.1L857.2 1399.4L864.4 1403.1L857.2 1409.1zM604.9 1417.1L610.5 1411.2L618.6 1417.1L616.0 1431.1L610.5 1438.1L603.3 1445.1L596.0 1449.3L589.8 1445.1L592.4 1431.1L596.0 1429.5zM535.6 1431.1L538.0 1430.0L552.5 1425.8L567.0 1419.9L575.3 1431.1L567.0 1435.8L552.5 1435.3L538.0 1433.1zM646.8 1431.1L654.1 1417.1L658.9 1431.1L663.1 1445.1L654.1 1452.9L643.7 1445.1zM794.3 1431.1L799.1 1422.7L802.2 1431.1L799.1 1436.3zM854.4 1431.1L857.2 1427.3L860.1 1431.1L857.2 1434.9zM752.0 1445.1L755.6 1442.8L770.1 1447.4L775.7 1459.1L770.1 1473.1L755.6 1465.5L746.5 1459.1zM546.7 1459.1L552.5 1456.0L567.0 1452.1L579.9 1459.1L567.0 1467.1L552.5 1461.1zM603.8 1459.1L610.5 1449.8L625.0 1445.1L633.7 1459.1L625.0 1471.1L623.2 1473.1L616.7 1487.2L610.5 1493.2L605.7 1487.2L601.3 1473.1zM834.0 1459.1L842.7 1449.8L847.5 1459.1L842.7 1464.1zM659.9 1473.1L668.6 1471.2L672.5 1473.1L668.6 1477.3zM697.6 1473.1L712.1 1466.6L718.1 1473.1L712.1 1480.2zM651.6 1487.2L654.1 1480.2L657.3 1487.2L658.9 1501.2L660.6 1515.2L654.1 1520.6L649.2 1515.2L651.4 1501.2zM681.3 1487.2L683.1 1485.6L697.6 1487.2L683.1 1488.4zM719.9 1487.2L726.6 1481.9L741.1 1478.7L745.9 1487.2L748.4 1501.2L741.1 1505.2L726.6 1523.2L722.1 1515.2L725.4 1501.2zM820.4 1487.2L828.1 1479.7L833.4 1487.2L828.2 1495.8zM563.7 1501.2L567.0 1498.2L571.8 1501.2L571.8 1515.2L567.0 1519.2L564.4 1515.2zM696.3 1501.2L697.6 1487.2L698.8 1501.2L697.6 1503.2zM783.4 1501.2L784.6 1498.8L786.2 1501.2L784.6 1502.1zM623.8 1515.2L625.0 1511.7L626.4 1515.2L625.0 1516.9zM591.2 1529.2L596.0 1526.1L600.2 1529.2L596.0 1533.9zM522.3 1557.2L523.5 1555.8L525.6 1557.2L523.5 1558.6zM750.8 1557.2L755.6 1553.2L758.2 1557.2L755.6 1561.9z"/>
<path stroke="#bfbfbf" d="M653.1 1333.0L654.1 1331.8L655.0 1333.0L654.1 1333.8zM885.5 1361.0L886.2 1359.0L886.9 1361.0L886.2 1361.7zM638.7 1375.0L639.5 1372.7L640.9 1375.0L639.5 1379.7zM664.9 1389.0L668.6 1385.5L671.2 1389.0L670.0 1403.1L668.6 1404.1L667.6 1403.1zM682.0 1417.1L683.1 1415.7L686.0 1417.1L684.1 1431.1L683.1 1433.4L682.0 1431.1zM725.3 1445.1L726.6 1441.6L728.0 1445.1L731.8 1459.1L726.6 1462.5L722.8 1459.1zM562.2 1459.1L567.0 1457.4L570.2 1459.1L567.0 1461.1zM682.5 1459.1L683.1 1456.8L684.4 1459.1L683.1 1460.1zM609.2 1473.1L610.5 1459.1L612.3 1473.1L610.5 1476.6zM710.0 1473.1L712.1 1472.2L712.9 1473.1L712.1 1474.1zM826.2 1487.2L828.1 1485.3L829.5 1487.2L828.1 1489.3z"/>
</g>
<g clip-path="url(#ct)" shape-rendering="crispEdges">
<rect x="356.64" y="591.4" width="7.55" height="9.1" fill="#033b71"/>
<rect x="363.89" y="574.6" width="7.55" height="25.9" fill="#023f6c"/>
<rect x="371.15" y="546.8" width="7.55" height="53.7" fill="#02406b"/>
<rect x="378.40" y="524.2" width="7.55" height="76.3" fill="#003c6f"/>
<rect x="385.66" y="511.0" width="7.55" height="89.5" fill="#053b72"/>
<rect x="392.91" y="491.3" width="7.55" height="109.2" fill="#033b71"/>
<rect x="400.16" y="478.1" width="7.55" height="122.4" fill="#063b72"/>
<rect x="407.42" y="472.2" width="7.55" height="128.3" fill="#043b72"/>
<rect x="414.67" y="454.0" width="7.55" height="146.5" fill="#044467"/>
<rect x="421.93" y="467.1" width="7.55" height="133.4" fill="#013b71"/>
<rect x="429.18" y="461.3" width="7.55" height="139.2" fill="#013d6e"/>
<rect x="436.43" y="429.1" width="7.55" height="171.4" fill="#023f6c"/>
<rect x="443.69" y="416.7" width="7.55" height="183.8" fill="#02406b"/>
<rect x="450.94" y="418.1" width="7.55" height="182.4" fill="#003b70"/>
<rect x="458.20" y="407.9" width="7.55" height="192.6" fill="#023b71"/>
<rect x="465.45" y="392.5" width="7.55" height="208.0" fill="#013b70"/>
<rect x="472.70" y="372.1" width="7.55" height="228.4" fill="#033b71"/>
<rect x="479.96" y="383.0" width="7.55" height="217.5" fill="#043b72"/>
<rect x="487.21" y="319.4" width="7.55" height="281.1" fill="#053b72"/>
<rect x="494.47" y="324.5" width="7.55" height="276.0" fill="#003b70"/>
<rect x="501.72" y="284.3" width="7.55" height="316.2" fill="#013b70"/>
<rect x="508.97" y="336.2" width="7.55" height="264.3" fill="#013e6e"/>
<rect x="516.23" y="282.9" width="7.55" height="317.6" fill="#013e6d"/>
<rect x="523.48" y="292.4" width="7.55" height="308.1" fill="#013b70"/>
<rect x="530.74" y="304.8" width="7.55" height="295.7" fill="#013d6e"/>
<rect x="537.99" y="258.0" width="7.55" height="342.5" fill="#013c6f"/>
<rect x="545.24" y="283.6" width="7.55" height="316.9" fill="#023b71"/>
<rect x="552.50" y="256.5" width="7.55" height="344.0" fill="#013d6e"/>
<rect x="559.75" y="244.8" width="7.55" height="355.7" fill="#003c6f"/>
<rect x="567.01" y="244.1" width="7.55" height="356.4" fill="#033b71"/>
<rect x="574.26" y="293.1" width="7.55" height="307.4" fill="#013c6f"/>
<rect x="581.51" y="221.4" width="7.55" height="379.1" fill="#013d6e"/>
<rect x="588.77" y="236.1" width="7.55" height="364.4" fill="#003b70"/>
<rect x="596.02" y="239.7" width="7.55" height="360.8" fill="#003c6f"/>
<rect x="603.28" y="217.8" width="7.55" height="382.7" fill="#013b70"/>
<rect x="610.53" y="242.6" width="7.55" height="357.9" fill="#003c6f"/>
<rect x="617.78" y="168.8" width="7.55" height="431.7" fill="#023f6c"/>
<rect x="625.04" y="240.4" width="7.55" height="360.1" fill="#013c6f"/>
<rect x="632.29" y="250.7" width="7.55" height="349.8" fill="#003b70"/>
<rect x="639.55" y="244.8" width="7.55" height="355.7" fill="#053b72"/>
<rect x="646.80" y="192.2" width="7.55" height="408.3" fill="#013c6f"/>
<rect x="654.05" y="183.4" width="7.55" height="417.1" fill="#013b71"/>
<rect x="661.31" y="222.9" width="7.55" height="377.6" fill="#003c6f"/>
<rect x="668.56" y="241.9" width="7.55" height="358.6" fill="#003b70"/>
<rect x="675.82" y="173.9" width="7.55" height="426.6" fill="#003c6f"/>
<rect x="683.07" y="190.7" width="7.55" height="409.8" fill="#023b71"/>
<rect x="690.32" y="234.6" width="7.55" height="365.9" fill="#013c6f"/>
<rect x="697.58" y="246.3" width="7.55" height="354.2" fill="#003b70"/>
<rect x="704.83" y="233.1" width="7.55" height="367.4" fill="#003c6f"/>
<rect x="712.09" y="253.6" width="7.55" height="346.9" fill="#003b70"/>
<rect x="719.34" y="218.5" width="7.55" height="382.0" fill="#053b72"/>
<rect x="726.59" y="222.9" width="7.55" height="377.6" fill="#013c6f"/>
<rect x="733.85" y="242.6" width="7.55" height="357.9" fill="#023b71"/>
<rect x="741.10" y="212.7" width="7.55" height="387.8" fill="#013d6e"/>
<rect x="748.36" y="250.7" width="7.55" height="349.8" fill="#013e6d"/>
<rect x="755.61" y="254.3" width="7.55" height="346.2" fill="#003c6f"/>
<rect x="762.86" y="254.3" width="7.55" height="346.2" fill="#063b72"/>
<rect x="770.12" y="258.0" width="7.55" height="342.5" fill="#013e6d"/>
<rect x="777.37" y="277.7" width="7.55" height="322.8" fill="#013b70"/>
<rect x="784.63" y="283.6" width="7.55" height="316.9" fill="#043b72"/>
<rect x="791.88" y="310.6" width="7.55" height="289.9" fill="#013e6d"/>
<rect x="799.13" y="286.5" width="7.55" height="314.0" fill="#013d6e"/>
<rect x="806.39" y="288.7" width="7.55" height="311.8" fill="#013b70"/>
<rect x="813.64" y="298.2" width="7.55" height="302.3" fill="#053b72"/>
<rect x="820.90" y="284.3" width="7.55" height="316.2" fill="#013d6e"/>
<rect x="828.15" y="289.4" width="7.55" height="311.1" fill="#013e6d"/>
<rect x="835.40" y="285.8" width="7.55" height="314.7" fill="#013b71"/>
<rect x="842.66" y="301.9" width="7.55" height="298.6" fill="#003b70"/>
<rect x="849.91" y="290.2" width="7.55" height="310.3" fill="#023b71"/>
<rect x="857.17" y="328.9" width="7.55" height="271.6" fill="#013b70"/>
<rect x="864.42" y="317.2" width="7.55" height="283.3" fill="#013d6e"/>
<rect x="871.67" y="340.6" width="7.55" height="259.9" fill="#053b72"/>
<rect x="878.93" y="324.5" width="7.55" height="276.0" fill="#013b71"/>
<rect x="886.18" y="323.1" width="7.55" height="277.4" fill="#013b70"/>
<rect x="893.44" y="375.0" width="7.55" height="225.5" fill="#013b70"/>
<rect x="900.69" y="351.6" width="7.55" height="248.9" fill="#043b72"/>
<rect x="907.94" y="366.9" width="7.55" height="233.6" fill="#013e6d"/>
<rect x="915.20" y="364.0" width="7.55" height="236.5" fill="#003c6f"/>
<rect x="922.45" y="366.2" width="7.55" height="234.3" fill="#023f6c"/>
<rect x="929.71" y="366.9" width="7.55" height="233.6" fill="#053b72"/>
<rect x="936.96" y="393.3" width="7.55" height="207.2" fill="#013d6e"/>
<rect x="944.21" y="398.4" width="7.55" height="202.1" fill="#023f6c"/>
<rect x="951.47" y="407.9" width="7.55" height="192.6" fill="#013e6d"/>
<rect x="958.72" y="394.7" width="7.55" height="205.8" fill="#013d6e"/>
<rect x="965.98" y="419.6" width="7.55" height="180.9" fill="#013d6e"/>
<rect x="973.23" y="407.9" width="7.55" height="192.6" fill="#033b71"/>
<rect x="980.48" y="410.8" width="7.55" height="189.7" fill="#023b71"/>
<rect x="987.74" y="434.9" width="7.55" height="165.6" fill="#023b71"/>
<rect x="994.99" y="445.9" width="7.55" height="154.6" fill="#013e6d"/>
<rect x="1002.25" y="440.8" width="7.55" height="159.7" fill="#03416a"/>
<rect x="1009.50" y="449.6" width="7.55" height="150.9" fill="#043b71"/>
<rect x="1016.75" y="443.7" width="7.55" height="156.8" fill="#123a77"/>
<rect x="1024.01" y="451.8" width="7.55" height="148.7" fill="#043b72"/>
<rect x="1031.26" y="461.3" width="7.55" height="139.2" fill="#0d3a75"/>
<rect x="1038.52" y="470.0" width="7.55" height="130.5" fill="#013b71"/>
<rect x="1045.77" y="463.5" width="7.55" height="137.0" fill="#0d3a75"/>
<rect x="1053.02" y="459.1" width="7.55" height="141.4" fill="#0c3a75"/>
<rect x="1060.28" y="461.3" width="7.55" height="139.2" fill="#0f3a76"/>
<rect x="1067.53" y="496.4" width="7.55" height="104.1" fill="#113a77"/>
<rect x="1074.79" y="479.6" width="7.55" height="120.9" fill="#0f3a76"/>
<rect x="1082.04" y="483.2" width="7.55" height="117.3" fill="#013b70"/>
<rect x="1089.29" y="486.1" width="7.55" height="114.4" fill="#043b72"/>
<rect x="1096.55" y="485.4" width="7.55" height="115.1" fill="#0e3a76"/>
<rect x="1103.80" y="479.6" width="7.55" height="120.9" fill="#063b72"/>
<rect x="1111.06" y="516.1" width="7.55" height="84.4" fill="#143978"/>
<rect x="1118.31" y="499.3" width="7.55" height="101.2" fill="#1c397b"/>
<rect x="1125.56" y="509.5" width="7.55" height="91.0" fill="#123a77"/>
<rect x="1132.82" y="527.1" width="7.55" height="73.4" fill="#083a73"/>
<rect x="1140.07" y="523.4" width="7.55" height="77.1" fill="#113a77"/>
<rect x="1147.33" y="532.2" width="7.55" height="68.3" fill="#083a73"/>
<rect x="1154.58" y="527.1" width="7.55" height="73.4" fill="#173979"/>
<rect x="1161.83" y="530.0" width="7.55" height="70.5" fill="#163979"/>
<rect x="1169.09" y="537.3" width="7.55" height="63.2" fill="#123a77"/>
<rect x="1176.34" y="516.1" width="7.55" height="84.4" fill="#123a77"/>
<rect x="1183.60" y="530.7" width="7.55" height="69.8" fill="#0a3a74"/>
<rect x="1190.85" y="549.0" width="7.55" height="51.5" fill="#133978"/>
<rect x="1198.10" y="552.7" width="7.55" height="47.8" fill="#1c397b"/>
<rect x="1205.36" y="545.4" width="7.55" height="55.1" fill="#2a3881"/>
<rect x="1212.61" y="553.4" width="7.55" height="47.1" fill="#1d397c"/>
<rect x="1219.87" y="546.1" width="7.55" height="54.4" fill="#173979"/>
<rect x="1227.12" y="554.1" width="7.55" height="46.4" fill="#20387d"/>
<rect x="1234.37" y="557.8" width="7.55" height="42.7" fill="#23387e"/>
<rect x="1241.63" y="558.5" width="7.55" height="42.0" fill="#21387d"/>
<rect x="1248.88" y="547.6" width="7.55" height="52.9" fill="#1e397c"/>
<rect x="1256.14" y="565.1" width="7.55" height="35.4" fill="#22387e"/>
<rect x="1263.39" y="564.4" width="7.55" height="36.1" fill="#1c397b"/>
<rect x="1270.64" y="566.6" width="7.55" height="33.9" fill="#21387d"/>
<rect x="1277.90" y="571.0" width="7.55" height="29.5" fill="#283880"/>
<rect x="1285.15" y="569.5" width="7.55" height="31.0" fill="#25387f"/>
<rect x="1292.41" y="560.0" width="7.55" height="40.5" fill="#22387e"/>
<rect x="1299.66" y="577.5" width="7.55" height="23.0" fill="#2c3882"/>
<rect x="1306.91" y="579.7" width="7.55" height="20.8" fill="#1a397a"/>
<rect x="1314.17" y="575.3" width="7.55" height="25.2" fill="#1d397c"/>
<rect x="1321.42" y="572.4" width="7.55" height="28.1" fill="#2b3881"/>
<rect x="1328.68" y="578.3" width="7.55" height="22.2" fill="#333784"/>
<rect x="1335.93" y="575.3" width="7.55" height="25.2" fill="#2a3881"/>
<rect x="1343.18" y="574.6" width="7.55" height="25.9" fill="#133a78"/>
<rect x="1350.44" y="579.7" width="7.55" height="20.8" fill="#0c3a75"/>
<rect x="1357.69" y="575.3" width="7.55" height="25.2" fill="#21387d"/>
<rect x="1364.95" y="581.2" width="7.55" height="19.3" fill="#173979"/>
<rect x="1372.20" y="580.5" width="7.55" height="20.0" fill="#1a397a"/>
<rect x="1379.45" y="584.1" width="7.55" height="16.4" fill="#1c397b"/>
<rect x="1386.71" y="582.7" width="7.55" height="17.8" fill="#323784"/>
<rect x="1393.96" y="578.3" width="7.55" height="22.2" fill="#23387e"/>
<rect x="1401.22" y="581.9" width="7.55" height="18.6" fill="#2b3881"/>
<rect x="1408.47" y="584.1" width="7.55" height="16.4" fill="#23387e"/>
<rect x="1415.72" y="591.4" width="7.55" height="9.1" fill="#2d3882"/>
<rect x="1422.98" y="591.4" width="7.55" height="9.1" fill="#393787"/>
<rect x="1430.23" y="587.0" width="7.55" height="13.5" fill="#23387e"/>
<rect x="1437.49" y="587.8" width="7.55" height="12.7" fill="#133a78"/>
<rect x="1444.74" y="589.2" width="7.55" height="11.3" fill="#26387f"/>
<rect x="1451.99" y="588.5" width="7.55" height="12.0" fill="#4a358e"/>
<rect x="1459.25" y="594.4" width="7.55" height="6.1" fill="#313784"/>
<rect x="1466.50" y="593.6" width="7.55" height="6.9" fill="#074b61"/>
<rect x="1473.76" y="590.0" width="7.55" height="10.5" fill="#1e397c"/>
<rect x="1481.01" y="594.4" width="7.55" height="6.1" fill="#49358d"/>
<rect x="1488.26" y="598.7" width="7.55" height="1.8" fill="#1b397b"/>
<rect x="1495.52" y="598.0" width="7.55" height="2.5" fill="#0d3a75"/>
<rect x="1502.77" y="596.5" width="7.55" height="4.0" fill="#273880"/>
<rect x="1510.03" y="595.1" width="7.55" height="5.4" fill="#323784"/>
<rect x="1517.28" y="592.9" width="7.55" height="7.6" fill="#23387e"/>
<rect x="1524.53" y="590.7" width="7.55" height="9.8" fill="#273880"/>
<rect x="1531.79" y="598.7" width="7.55" height="1.8" fill="#663399"/>
<rect x="1539.04" y="595.1" width="7.55" height="5.4" fill="#273880"/>
<rect x="1546.30" y="596.5" width="7.55" height="4.0" fill="#163979"/>
<rect x="1553.55" y="597.3" width="7.55" height="3.2" fill="#173979"/>
<rect x="1560.80" y="596.5" width="7.55" height="4.0" fill="#03416a"/>
<rect x="1568.06" y="598.0" width="7.55" height="2.5" fill="#25387f"/>
<rect x="1575.31" y="595.8" width="7.55" height="4.7" fill="#0a3a74"/>
<rect x="1582.57" y="595.1" width="7.55" height="5.4" fill="#22387e"/>
<rect x="1589.82" y="597.3" width="7.55" height="3.2" fill="#044468"/>
<rect x="1597.07" y="595.8" width="7.55" height="4.7" fill="#03426a"/>
<rect x="1604.33" y="598.7" width="7.55" height="1.8" fill="#034368"/>
<rect x="1611.58" y="598.7" width="7.55" height="1.8" fill="#013d6e"/>
<rect x="1618.84" y="598.7" width="7.55" height="1.8" fill="#3e3689"/>
<rect x="1626.09" y="598.7" width="7.55" height="1.8" fill="#09505b"/>
<rect x="1633.34" y="597.3" width="7.55" height="3.2" fill="#333785"/>
<rect x="1647.85" y="598.0" width="7.55" height="2.5" fill="#013d6e"/>
<rect x="1655.11" y="599.5" width="7.55" height="1.0" fill="#0f5d4e"/>
<rect x="1669.61" y="598.7" width="7.55" height="1.8" fill="#054665"/>
<rect x="1676.87" y="599.5" width="7.55" height="1.0" fill="#023f6c"/>
<rect x="1684.12" y="599.5" width="7.55" height="1.0" fill="#013e6d"/>
<rect x="1691.38" y="599.5" width="7.55" height="1.0" fill="#22387e"/>
<rect x="1698.63" y="598.7" width="7.55" height="1.8" fill="#0f3a76"/>
<rect x="1713.14" y="599.5" width="7.55" height="1.0" fill="#48358d"/>
<rect x="1742.15" y="599.5" width="7.55" height="1.0" fill="#023b71"/>
<rect x="1756.66" y="599.5" width="7.55" height="1.0" fill="#5b3495"/>
<rect x="1785.68" y="599.5" width="7.55" height="1.0" fill="#663399"/>
</g>
<g clip-path="url(#cr)" shape-rendering="crispEdges">
<rect x="1920.5" y="779.30" width="1.3" height="7.31" fill="#5d3495"/>
<rect x="1920.5" y="786.31" width="0.4" height="7.31" fill="#663399"/>
<rect x="1920.5" y="793.32" width="2.2" height="7.31" fill="#26387f"/>
<rect x="1920.5" y="800.33" width="4.0" height="7.31" fill="#043b72"/>
<rect x="1920.5" y="807.33" width="0.4" height="7.31" fill="#02406b"/>
<rect x="1920.5" y="814.34" width="1.3" height="7.31" fill="#1d802d"/>
<rect x="1920.5" y="821.35" width="5.8" height="7.31" fill="#084e5d"/>
<rect x="1920.5" y="828.36" width="3.1" height="7.31" fill="#10614b"/>
<rect x="1920.5" y="835.37" width="10.3" height="7.31" fill="#064a62"/>
<rect x="1920.5" y="842.38" width="4.9" height="7.31" fill="#02416a"/>
<rect x="1920.5" y="849.38" width="8.5" height="7.31" fill="#2c3882"/>
<rect x="1920.5" y="856.39" width="1.3" height="7.31" fill="#133a77"/>
<rect x="1920.5" y="863.40" width="5.8" height="7.31" fill="#0f3a76"/>
<rect x="1920.5" y="870.41" width="4.0" height="7.31" fill="#023f6c"/>
<rect x="1920.5" y="877.42" width="6.7" height="7.31" fill="#054863"/>
<rect x="1920.5" y="884.43" width="13.9" height="7.31" fill="#0d5953"/>
<rect x="1920.5" y="891.44" width="7.6" height="7.31" fill="#1f397c"/>
<rect x="1920.5" y="898.44" width="16.7" height="7.31" fill="#044467"/>
<rect x="1920.5" y="905.45" width="22.1" height="7.31" fill="#054864"/>
<rect x="1920.5" y="912.46" width="13.9" height="7.31" fill="#074c5f"/>
<rect x="1920.5" y="919.47" width="14.9" height="7.31" fill="#033b71"/>
<rect x="1920.5" y="926.48" width="18.5" height="7.31" fill="#0b3a75"/>
<rect x="1920.5" y="933.49" width="15.8" height="7.31" fill="#034368"/>
<rect x="1920.5" y="940.50" width="23.9" height="7.31" fill="#054665"/>
<rect x="1920.5" y="947.50" width="32.0" height="7.31" fill="#094f5c"/>
<rect x="1920.5" y="954.51" width="29.3" height="7.31" fill="#023f6c"/>
<rect x="1920.5" y="961.52" width="32.9" height="7.31" fill="#034368"/>
<rect x="1920.5" y="968.53" width="39.2" height="7.31" fill="#053b72"/>
<rect x="1920.5" y="975.54" width="32.0" height="7.31" fill="#054665"/>
<rect x="1920.5" y="982.55" width="43.7" height="7.31" fill="#003b70"/>
<rect x="1920.5" y="989.55" width="40.1" height="7.31" fill="#044566"/>
<rect x="1920.5" y="996.56" width="41.0" height="7.31" fill="#013b70"/>
<rect x="1920.5" y="1003.57" width="51.0" height="7.31" fill="#09515a"/>
<rect x="1920.5" y="1010.58" width="39.2" height="7.31" fill="#084d5f"/>
<rect x="1920.5" y="1017.59" width="52.8" height="7.31" fill="#083a73"/>
<rect x="1920.5" y="1024.60" width="67.2" height="7.31" fill="#02406b"/>
<rect x="1920.5" y="1031.61" width="67.2" height="7.31" fill="#02406b"/>
<rect x="1920.5" y="1038.61" width="70.8" height="7.31" fill="#03416a"/>
<rect x="1920.5" y="1045.62" width="69.0" height="7.31" fill="#003b70"/>
<rect x="1920.5" y="1052.63" width="79.0" height="7.31" fill="#023b71"/>
<rect x="1920.5" y="1059.64" width="79.9" height="7.31" fill="#034369"/>
<rect x="1920.5" y="1066.65" width="90.7" height="7.31" fill="#043b71"/>
<rect x="1920.5" y="1073.66" width="88.9" height="7.31" fill="#013d6e"/>
<rect x="1920.5" y="1080.67" width="94.3" height="7.31" fill="#003c6f"/>
<rect x="1920.5" y="1087.67" width="104.2" height="7.31" fill="#0e3a76"/>
<rect x="1920.5" y="1094.68" width="109.7" height="7.31" fill="#023b71"/>
<rect x="1920.5" y="1101.69" width="117.8" height="7.31" fill="#023b71"/>
<rect x="1920.5" y="1108.70" width="111.5" height="7.31" fill="#003b70"/>
<rect x="1920.5" y="1115.71" width="114.2" height="7.31" fill="#023b71"/>
<rect x="1920.5" y="1122.72" width="170.2" height="7.31" fill="#013d6e"/>
<rect x="1920.5" y="1129.72" width="173.8" height="7.31" fill="#003b70"/>
<rect x="1920.5" y="1136.73" width="155.7" height="7.31" fill="#023b71"/>
<rect x="1920.5" y="1143.74" width="173.8" height="7.31" fill="#013b70"/>
<rect x="1920.5" y="1150.75" width="172.0" height="7.31" fill="#073a73"/>
<rect x="1920.5" y="1157.76" width="186.4" height="7.31" fill="#02406b"/>
<rect x="1920.5" y="1164.77" width="216.2" height="7.31" fill="#02406c"/>
<rect x="1920.5" y="1171.78" width="209.0" height="7.31" fill="#003c6f"/>
<rect x="1920.5" y="1178.78" width="221.6" height="7.31" fill="#013d6e"/>
<rect x="1920.5" y="1185.79" width="216.2" height="7.31" fill="#013c6f"/>
<rect x="1920.5" y="1192.80" width="220.7" height="7.31" fill="#053b72"/>
<rect x="1920.5" y="1199.81" width="240.6" height="7.31" fill="#013b70"/>
<rect x="1920.5" y="1206.82" width="252.3" height="7.31" fill="#013b71"/>
<rect x="1920.5" y="1213.83" width="261.4" height="7.31" fill="#043b72"/>
<rect x="1920.5" y="1220.84" width="257.8" height="7.31" fill="#013c6f"/>
<rect x="1920.5" y="1227.84" width="293.9" height="7.31" fill="#013c6f"/>
<rect x="1920.5" y="1234.85" width="291.2" height="7.31" fill="#033b71"/>
<rect x="1920.5" y="1241.86" width="329.1" height="7.31" fill="#083a73"/>
<rect x="1920.5" y="1248.87" width="350.8" height="7.31" fill="#043b72"/>
<rect x="1920.5" y="1255.88" width="334.5" height="7.31" fill="#013b70"/>
<rect x="1920.5" y="1262.89" width="351.7" height="7.31" fill="#043b72"/>
<rect x="1920.5" y="1269.89" width="346.3" height="7.31" fill="#023b71"/>
<rect x="1920.5" y="1276.90" width="396.8" height="7.31" fill="#083a73"/>
<rect x="1920.5" y="1283.91" width="410.4" height="7.31" fill="#033b71"/>
<rect x="1920.5" y="1290.92" width="382.4" height="7.31" fill="#083a73"/>
<rect x="1920.5" y="1297.93" width="395.9" height="7.31" fill="#043b72"/>
<rect x="1920.5" y="1304.94" width="406.8" height="7.31" fill="#023b71"/>
<rect x="1920.5" y="1311.95" width="414.9" height="7.31" fill="#053b72"/>
<rect x="1920.5" y="1318.95" width="434.7" height="7.31" fill="#053b72"/>
<rect x="1920.5" y="1325.96" width="414.9" height="7.31" fill="#053b72"/>
<rect x="1920.5" y="1332.97" width="430.2" height="7.31" fill="#023b71"/>
<rect x="1920.5" y="1339.98" width="444.7" height="7.31" fill="#0c3a75"/>
<rect x="1920.5" y="1346.99" width="480.8" height="7.31" fill="#053b72"/>
<rect x="1920.5" y="1354.00" width="468.2" height="7.31" fill="#033b71"/>
<rect x="1920.5" y="1361.01" width="507.0" height="7.31" fill="#053b72"/>
<rect x="1920.5" y="1368.01" width="494.3" height="7.31" fill="#063b72"/>
<rect x="1920.5" y="1375.02" width="451.0" height="7.31" fill="#063b72"/>
<rect x="1920.5" y="1382.03" width="490.7" height="7.31" fill="#093a74"/>
<rect x="1920.5" y="1389.04" width="475.4" height="7.31" fill="#043b72"/>
<rect x="1920.5" y="1396.05" width="508.8" height="7.31" fill="#063b72"/>
<rect x="1920.5" y="1403.06" width="477.2" height="7.31" fill="#0a3a74"/>
<rect x="1920.5" y="1410.07" width="493.4" height="7.31" fill="#083a73"/>
<rect x="1920.5" y="1417.07" width="481.7" height="7.31" fill="#043b72"/>
<rect x="1920.5" y="1424.08" width="493.4" height="7.31" fill="#093a73"/>
<rect x="1920.5" y="1431.09" width="507.9" height="7.31" fill="#093a74"/>
<rect x="1920.5" y="1438.10" width="490.7" height="7.31" fill="#043b72"/>
<rect x="1920.5" y="1445.11" width="518.7" height="7.31" fill="#063b73"/>
<rect x="1920.5" y="1452.12" width="545.8" height="7.31" fill="#073a73"/>
<rect x="1920.5" y="1459.12" width="526.9" height="7.31" fill="#063b72"/>
<rect x="1920.5" y="1466.13" width="486.2" height="7.31" fill="#083a73"/>
<rect x="1920.5" y="1473.14" width="451.9" height="7.31" fill="#093a73"/>
<rect x="1920.5" y="1480.15" width="462.7" height="7.31" fill="#003b70"/>
<rect x="1920.5" y="1487.16" width="459.1" height="7.31" fill="#033b71"/>
<rect x="1920.5" y="1494.17" width="435.6" height="7.31" fill="#013b70"/>
<rect x="1920.5" y="1501.18" width="453.7" height="7.31" fill="#013b71"/>
<rect x="1920.5" y="1508.18" width="442.9" height="7.31" fill="#093a74"/>
<rect x="1920.5" y="1515.19" width="438.4" height="7.31" fill="#053b72"/>
<rect x="1920.5" y="1522.20" width="422.1" height="7.31" fill="#023b71"/>
<rect x="1920.5" y="1529.21" width="446.5" height="7.31" fill="#053b72"/>
<rect x="1920.5" y="1536.22" width="432.0" height="7.31" fill="#003c6f"/>
<rect x="1920.5" y="1543.23" width="435.6" height="7.31" fill="#023b71"/>
<rect x="1920.5" y="1550.23" width="440.2" height="7.31" fill="#063b72"/>
<rect x="1920.5" y="1557.24" width="382.4" height="7.31" fill="#0b3a74"/>
<rect x="1920.5" y="1564.25" width="398.6" height="7.31" fill="#023b71"/>
<rect x="1920.5" y="1571.26" width="353.5" height="7.31" fill="#073a73"/>
<rect x="1920.5" y="1578.27" width="318.3" height="7.31" fill="#003b70"/>
<rect x="1920.5" y="1585.28" width="339.0" height="7.31" fill="#063b72"/>
<rect x="1920.5" y="1592.29" width="328.2" height="7.31" fill="#043b72"/>
<rect x="1920.5" y="1599.29" width="311.0" height="7.31" fill="#03416a"/>
<rect x="1920.5" y="1606.30" width="326.4" height="7.31" fill="#043b71"/>
<rect x="1920.5" y="1613.31" width="320.1" height="7.31" fill="#053b72"/>
<rect x="1920.5" y="1620.32" width="303.8" height="7.31" fill="#013e6e"/>
<rect x="1920.5" y="1627.33" width="265.0" height="7.31" fill="#003b70"/>
<rect x="1920.5" y="1634.34" width="265.0" height="7.31" fill="#073a73"/>
<rect x="1920.5" y="1641.35" width="279.4" height="7.31" fill="#063b72"/>
<rect x="1920.5" y="1648.35" width="265.9" height="7.31" fill="#033b71"/>
<rect x="1920.5" y="1655.36" width="244.2" height="7.31" fill="#003b70"/>
<rect x="1920.5" y="1662.37" width="222.5" height="7.31" fill="#003b70"/>
<rect x="1920.5" y="1669.38" width="200.9" height="7.31" fill="#013b70"/>
<rect x="1920.5" y="1676.39" width="207.2" height="7.31" fill="#063b73"/>
<rect x="1920.5" y="1683.40" width="209.0" height="7.31" fill="#023b71"/>
<rect x="1920.5" y="1690.40" width="202.7" height="7.31" fill="#043b72"/>
<rect x="1920.5" y="1697.41" width="182.8" height="7.31" fill="#02416b"/>
<rect x="1920.5" y="1704.42" width="185.5" height="7.31" fill="#003c6f"/>
<rect x="1920.5" y="1711.43" width="153.0" height="7.31" fill="#034369"/>
<rect x="1920.5" y="1718.44" width="157.5" height="7.31" fill="#003b70"/>
<rect x="1920.5" y="1725.45" width="151.2" height="7.31" fill="#003b70"/>
<rect x="1920.5" y="1732.46" width="160.2" height="7.31" fill="#003b70"/>
<rect x="1920.5" y="1739.46" width="138.6" height="7.31" fill="#013e6e"/>
<rect x="1920.5" y="1746.47" width="152.1" height="7.31" fill="#013b70"/>
<rect x="1920.5" y="1753.48" width="130.4" height="7.31" fill="#063b72"/>
<rect x="1920.5" y="1760.49" width="121.4" height="7.31" fill="#054764"/>
<rect x="1920.5" y="1767.50" width="136.8" height="7.31" fill="#044566"/>
<rect x="1920.5" y="1774.51" width="107.0" height="7.31" fill="#013e6d"/>
<rect x="1920.5" y="1781.52" width="112.4" height="7.31" fill="#003c6f"/>
<rect x="1920.5" y="1788.52" width="86.2" height="7.31" fill="#044467"/>
<rect x="1920.5" y="1795.53" width="100.6" height="7.31" fill="#013d6e"/>
<rect x="1920.5" y="1802.54" width="88.9" height="7.31" fill="#0b3a75"/>
<rect x="1920.5" y="1809.55" width="99.7" height="7.31" fill="#013d6e"/>
<rect x="1920.5" y="1816.56" width="88.9" height="7.31" fill="#034269"/>
<rect x="1920.5" y="1823.57" width="86.2" height="7.31" fill="#003c6f"/>
<rect x="1920.5" y="1830.57" width="69.0" height="7.31" fill="#013d6e"/>
<rect x="1920.5" y="1837.58" width="72.6" height="7.31" fill="#013d6e"/>
<rect x="1920.5" y="1844.59" width="62.7" height="7.31" fill="#023f6c"/>
<rect x="1920.5" y="1851.60" width="51.9" height="7.31" fill="#02406b"/>
<rect x="1920.5" y="1858.61" width="60.0" height="7.31" fill="#023b71"/>
<rect x="1920.5" y="1865.62" width="43.7" height="7.31" fill="#013e6d"/>
<rect x="1920.5" y="1872.63" width="43.7" height="7.31" fill="#013c6f"/>
<rect x="1920.5" y="1879.63" width="60.9" height="7.31" fill="#003b70"/>
<rect x="1920.5" y="1886.64" width="44.7" height="7.31" fill="#013d6f"/>
<rect x="1920.5" y="1893.65" width="35.6" height="7.31" fill="#003c6f"/>
<rect x="1920.5" y="1900.66" width="38.3" height="7.31" fill="#054764"/>
<rect x="1920.5" y="1907.67" width="30.2" height="7.31" fill="#064863"/>
<rect x="1920.5" y="1914.68" width="27.5" height="7.31" fill="#0e5d4f"/>
<rect x="1920.5" y="1921.69" width="28.4" height="7.31" fill="#0c5655"/>
<rect x="1920.5" y="1928.69" width="32.0" height="7.31" fill="#02406c"/>
<rect x="1920.5" y="1935.70" width="24.8" height="7.31" fill="#0a525a"/>
<rect x="1920.5" y="1942.71" width="15.8" height="7.31" fill="#0a5259"/>
<rect x="1920.5" y="1949.72" width="14.9" height="7.31" fill="#074b61"/>
<rect x="1920.5" y="1956.73" width="12.1" height="7.31" fill="#0c5655"/>
<rect x="1920.5" y="1963.74" width="9.4" height="7.31" fill="#084e5e"/>
<rect x="1920.5" y="1970.74" width="11.2" height="7.31" fill="#126646"/>
<rect x="1920.5" y="1977.75" width="10.3" height="7.31" fill="#054665"/>
<rect x="1920.5" y="1984.76" width="15.8" height="7.31" fill="#034269"/>
<rect x="1920.5" y="1991.77" width="6.7" height="7.31" fill="#044566"/>
<rect x="1920.5" y="1998.78" width="10.3" height="7.31" fill="#18723a"/>
<rect x="1920.5" y="2005.79" width="9.4" height="7.31" fill="#0e5d4f"/>
<rect x="1920.5" y="2012.80" width="12.1" height="7.31" fill="#084d5e"/>
<rect x="1920.5" y="2019.80" width="4.9" height="7.31" fill="#0b5557"/>
<rect x="1920.5" y="2026.81" width="0.4" height="7.31" fill="#013d6e"/>
<rect x="1920.5" y="2033.82" width="6.7" height="7.31" fill="#0e5d4f"/>
<rect x="1920.5" y="2040.83" width="4.9" height="7.31" fill="#013e6d"/>
<rect x="1920.5" y="2047.84" width="8.5" height="7.31" fill="#0d5a52"/>
<rect x="1920.5" y="2054.85" width="5.8" height="7.31" fill="#09505b"/>
<rect x="1920.5" y="2061.86" width="0.4" height="7.31" fill="#42368a"/>
<rect x="1920.5" y="2068.86" width="3.1" height="7.31" fill="#003c6f"/>
<rect x="1920.5" y="2075.87" width="0.4" height="7.31" fill="#3b3688"/>
<rect x="1920.5" y="2082.88" width="2.2" height="7.31" fill="#573493"/>
<rect x="1920.5" y="2089.89" width="2.2" height="7.31" fill="#0e3a76"/>
<rect x="1920.5" y="2096.90" width="0.4" height="7.31" fill="#11624a"/>
<rect x="1920.5" y="2159.97" width="0.4" height="7.31" fill="#208726"/>
</g>
<rect x="2610.5" y="720.5" width="150" height="1440" fill="url(#cb)"/>
<path d="M715.75 600.50v-33.30M715.75 120.50v33.30M1071.50 600.50v-33.30M1071.50 120.50v33.30M1427.25 600.50v-33.30M1427.25 120.50v33.30M1783.00 600.50v-33.30M1783.00 120.50v33.30M431.15 600.50v-16.70M431.15 120.50v16.70M502.30 600.50v-16.70M502.30 120.50v16.70M573.45 600.50v-16.70M573.45 120.50v16.70M644.60 600.50v-16.70M644.60 120.50v16.70M786.90 600.50v-16.70M786.90 120.50v16.70M858.05 600.50v-16.70M858.05 120.50v16.70M929.20 600.50v-16.70M929.20 120.50v16.70M1000.35 600.50v-16.70M1000.35 120.50v16.70M1142.65 600.50v-16.70M1142.65 120.50v16.70M1213.80 600.50v-16.70M1213.80 120.50v16.70M1284.95 600.50v-16.70M1284.95 120.50v16.70M1356.10 600.50v-16.70M1356.10 120.50v16.70M1498.40 600.50v-16.70M1498.40 120.50v16.70M1569.55 600.50v-16.70M1569.55 120.50v16.70M1640.70 600.50v-16.70M1640.70 120.50v16.70M1711.85 600.50v-16.70M1711.85 120.50v16.70M715.75 2160.50v-33.30M715.75 720.50v33.30M1071.50 2160.50v-33.30M1071.50 720.50v33.30M1427.25 2160.50v-33.30M1427.25 720.50v33.30M1783.00 2160.50v-33.30M1783.00 720.50v33.30M431.15 2160.50v-16.70M431.15 720.50v16.70M502.30 2160.50v-16.70M502.30 720.50v16.70M573.45 2160.50v-16.70M573.45 720.50v16.70M644.60 2160.50v-16.70M644.60 720.50v16.70M786.90 2160.50v-16.70M786.90 720.50v16.70M858.05 2160.50v-16.70M858.05 720.50v16.70M929.20 2160.50v-16.70M929.20 720.50v16.70M1000.35 2160.50v-16.70M1000.35 720.50v16.70M1142.65 2160.50v-16.70M1142.65 720.50v16.70M1213.80 2160.50v-16.70M1213.80 720.50v16.70M1284.95 2160.50v-16.70M1284.95 720.50v16.70M1356.10 2160.50v-16.70M1356.10 720.50v16.70M1498.40 2160.50v-16.70M1498.40 720.50v16.70M1569.55 2160.50v-16.70M1569.55 720.50v16.70M1640.70 2160.50v-16.70M1640.70 720.50v16.70M1711.85 2160.50v-16.70M1711.85 720.50v16.70M360.50 600.20h33.30M1800.50 600.20h-33.30M360.50 234.60h33.30M1800.50 234.60h-33.30M360.50 527.08h16.70M1800.50 527.08h-16.70M360.50 453.96h16.70M1800.50 453.96h-16.70M360.50 380.84h16.70M1800.50 380.84h-16.70M360.50 307.72h16.70M1800.50 307.72h-16.70M360.50 161.48h16.70M1800.50 161.48h-16.70M360.50 2127.00h33.30M1800.50 2127.00h-33.30M360.50 1898.00h33.30M1800.50 1898.00h-33.30M360.50 1669.00h33.30M1800.50 1669.00h-33.30M360.50 1440.00h33.30M1800.50 1440.00h-33.30M360.50 1211.00h33.30M1800.50 1211.00h-33.30M360.50 982.00h33.30M1800.50 982.00h-33.30M360.50 753.00h33.30M1800.50 753.00h-33.30M360.50 2081.20h16.70M1800.50 2081.20h-16.70M360.50 2035.40h16.70M1800.50 2035.40h-16.70M360.50 1989.60h16.70M1800.50 1989.60h-16.70M360.50 1943.80h16.70M1800.50 1943.80h-16.70M360.50 1852.20h16.70M1800.50 1852.20h-16.70M360.50 1806.40h16.70M1800.50 1806.40h-16.70M360.50 1760.60h16.70M1800.50 1760.60h-16.70M360.50 1714.80h16.70M1800.50 1714.80h-16.70M360.50 1623.20h16.70M1800.50 1623.20h-16.70M360.50 1577.40h16.70M1800.50 1577.40h-16.70M360.50 1531.60h16.70M1800.50 1531.60h-16.70M360.50 1485.80h16.70M1800.50 1485.80h-16.70M360.50 1394.20h16.70M1800.50 1394.20h-16.70M360.50 1348.40h16.70M1800.50 1348.40h-16.70M360.50 1302.60h16.70M1800.50 1302.60h-16.70M360.50 1256.80h16.70M1800.50 1256.80h-16.70M360.50 1165.20h16.70M1800.50 1165.20h-16.70M360.50 1119.40h16.70M1800.50 1119.40h-16.70M360.50 1073.60h16.70M1800.50 1073.60h-16.70M360.50 1027.80h16.70M1800.50 1027.80h-16.70M360.50 936.20h16.70M1800.50 936.20h-16.70M360.50 890.40h16.70M1800.50 890.40h-16.70M360.50 844.60h16.70M1800.50 844.60h-16.70M360.50 798.80h16.70M1800.50 798.80h-16.70M1920.50 2127.00h33.30M2490.50 2127.00h-33.30M1920.50 1898.00h33.30M2490.50 1898.00h-33.30M1920.50 1669.00h33.30M2490.50 1669.00h-33.30M1920.50 1440.00h33.30M2490.50 1440.00h-33.30M1920.50 1211.00h33.30M2490.50 1211.00h-33.30M1920.50 982.00h33.30M2490.50 982.00h-33.30M1920.50 753.00h33.30M2490.50 753.00h-33.30M1920.50 2081.20h16.70M2490.50 2081.20h-16.70M1920.50 2035.40h16.70M2490.50 2035.40h-16.70M1920.50 1989.60h16.70M2490.50 1989.60h-16.70M1920.50 1943.80h16.70M2490.50 1943.80h-16.70M1920.50 1852.20h16.70M2490.50 1852.20h-16.70M1920.50 1806.40h16.70M2490.50 1806.40h-16.70M1920.50 1760.60h16.70M2490.50 1760.60h-16.70M1920.50 1714.80h16.70M2490.50 1714.80h-16.70M1920.50 1623.20h16.70M2490.50 1623.20h-16.70M1920.50 1577.40h16.70M2490.50 1577.40h-16.70M1920.50 1531.60h16.70M2490.50 1531.60h-16.70M1920.50 1485.80h16.70M2490.50 1485.80h-16.70M1920.50 1394.20h16.70M2490.50 1394.20h-16.70M1920.50 1348.40h16.70M2490.50 1348.40h-16.70M1920.50 1302.60h16.70M2490.50 1302.60h-16.70M1920.50 1256.80h16.70M2490.50 1256.80h-16.70M1920.50 1165.20h16.70M2490.50 1165.20h-16.70M1920.50 1119.40h16.70M2490.50 1119.40h-16.70M1920.50 1073.60h16.70M2490.50 1073.60h-16.70M1920.50 1027.80h16.70M2490.50 1027.80h-16.70M1920.50 936.20h16.70M2490.50 936.20h-16.70M1920.50 890.40h16.70M2490.50 890.40h-16.70M1920.50 844.60h16.70M2490.50 844.60h-16.70M1920.50 798.80h16.70M2490.50 798.80h-16.70M2371.50 2160.50v-33.30M2371.50 720.50v33.30M2010.30 2160.50v-16.70M2010.30 720.50v16.70M2100.60 2160.50v-16.70M2100.60 720.50v16.70M2190.90 2160.50v-16.70M2190.90 720.50v16.70M2281.20 2160.50v-16.70M2281.20 720.50v16.70M2461.80 2160.50v-16.70M2461.80 720.50v16.70M2760.50 2088.20h-16.70M2760.50 2016.20h-16.70M2760.50 1944.20h-16.70M2760.50 1872.20h-33.30M2760.50 1800.20h-16.70M2760.50 1728.20h-16.70M2760.50 1656.20h-16.70M2760.50 1584.20h-33.30M2760.50 1512.20h-16.70M2760.50 1440.20h-16.70M2760.50 1368.20h-16.70M2760.50 1296.20h-33.30M2760.50 1224.20h-16.70M2760.50 1152.20h-16.70M2760.50 1080.20h-16.70M2760.50 1008.20h-33.30M2760.50 936.20h-16.70M2760.50 864.20h-16.70M2760.50 792.20h-16.70" stroke="#000" stroke-width="2.08" fill="none"/>
<rect x="360.5" y="120.5" width="1440.0" height="480.0" fill="none" stroke="#000" stroke-width="3.2"/>
<rect x="360.5" y="720.5" width="1440.0" height="1440.0" fill="none" stroke="#000" stroke-width="3.2"/>
<rect x="1920.5" y="720.5" width="570.0" height="1440.0" fill="none" stroke="#000" stroke-width="3.2"/>
<rect x="2610.5" y="720.5" width="150.0" height="1440.0" fill="none" stroke="#000" stroke-width="3.2"/>
<g font-family="'Liberation Sans', sans-serif" font-weight="700" fill="#000" style="font-kerning:none">
<text x="321.83" y="2236.30" font-size="86.2" textLength="76.43" lengthAdjust="spacingAndGlyphs">0.0</text>
<text x="677.60" y="2236.30" font-size="86.2" textLength="75.67" lengthAdjust="spacingAndGlyphs">0.5</text>
<text x="1031.97" y="2236.30" font-size="86.2" textLength="77.82" lengthAdjust="spacingAndGlyphs">1.0</text>
<text x="1387.76" y="2236.30" font-size="86.2" textLength="77.03" lengthAdjust="spacingAndGlyphs">1.5</text>
<text x="1745.10" y="2236.30" font-size="86.2" textLength="76.15" lengthAdjust="spacingAndGlyphs">2.0</text>
<text x="1905.75" y="2236.30" font-size="86.2" textLength="29.59" lengthAdjust="spacingAndGlyphs">0</text>
<text x="2326.06" y="2236.30" font-size="86.2" textLength="91.43" lengthAdjust="spacingAndGlyphs">500</text>
<text x="252.01" y="255.40" font-size="86.2" textLength="91.43" lengthAdjust="spacingAndGlyphs">500</text>
<text x="313.80" y="620.50" font-size="86.2" textLength="29.59" lengthAdjust="spacingAndGlyphs">0</text>
<text x="282.96" y="2147.80" font-size="86.2" textLength="60.27" lengthAdjust="spacingAndGlyphs">30</text>
<text x="233.02" y="2147.80" font-size="62" textLength="48.91" lengthAdjust="spacingAndGlyphs">−</text>
<text x="282.30" y="1918.80" font-size="86.2" textLength="60.95" lengthAdjust="spacingAndGlyphs">20</text>
<text x="233.02" y="1918.80" font-size="62" textLength="48.91" lengthAdjust="spacingAndGlyphs">−</text>
<text x="280.65" y="1689.80" font-size="86.2" textLength="62.66" lengthAdjust="spacingAndGlyphs">10</text>
<text x="233.02" y="1689.80" font-size="62" textLength="48.91" lengthAdjust="spacingAndGlyphs">−</text>
<text x="313.60" y="1460.80" font-size="86.2" textLength="29.59" lengthAdjust="spacingAndGlyphs">0</text>
<text x="280.65" y="1231.80" font-size="86.2" textLength="62.66" lengthAdjust="spacingAndGlyphs">10</text>
<text x="282.30" y="1002.80" font-size="86.2" textLength="60.95" lengthAdjust="spacingAndGlyphs">20</text>
<text x="282.96" y="773.80" font-size="86.2" textLength="60.27" lengthAdjust="spacingAndGlyphs">30</text>
<text x="2778.43" y="2181.20" font-size="86.2" textLength="76.32" lengthAdjust="spacingAndGlyphs">0.0</text>
<text x="2778.43" y="1893.20" font-size="86.2" textLength="76.27" lengthAdjust="spacingAndGlyphs">0.2</text>
<text x="2778.49" y="1605.20" font-size="86.2" textLength="74.30" lengthAdjust="spacingAndGlyphs">0.4</text>
<text x="2778.44" y="1317.20" font-size="86.2" textLength="76.04" lengthAdjust="spacingAndGlyphs">0.6</text>
<text x="2778.45" y="1029.20" font-size="86.2" textLength="75.73" lengthAdjust="spacingAndGlyphs">0.8</text>
<text x="2777.08" y="741.20" font-size="86.2" textLength="77.71" lengthAdjust="spacingAndGlyphs">1.0</text>
<text transform="translate(2931.30,1737.14) rotate(-90)" font-size="87.0" textLength="590.00" lengthAdjust="spacingAndGlyphs">Normalized Mean Time</text>
<text x="1915.79" y="282.00" font-size="130" textLength="246.87" lengthAdjust="spacingAndGlyphs" filter="url(#fb)">PepDF</text>
<text x="1920.24" y="433.00" font-size="107" textLength="598.52" lengthAdjust="spacingAndGlyphs" filter="url(#fb)">Time window: 5 ns</text>
<text x="657.44" y="2344.00" font-size="107" textLength="844.45" lengthAdjust="spacingAndGlyphs" filter="url(#fb)">Lateral displacement (nm)</text>
<text x="2064.88" y="2342.50" font-size="107" textLength="279.40" lengthAdjust="spacingAndGlyphs" filter="url(#fb)"># Counts</text>
<text transform="translate(211.00,500.41) rotate(-90)" font-size="107" textLength="278.28" lengthAdjust="spacingAndGlyphs" filter="url(#fb)"># Counts</text>
<text transform="translate(191.00,1785.53) rotate(-90)" font-size="107" textLength="684.90" lengthAdjust="spacingAndGlyphs" filter="url(#fb)">Precession (degrees)</text>
</g>
</svg>
</body></html>
